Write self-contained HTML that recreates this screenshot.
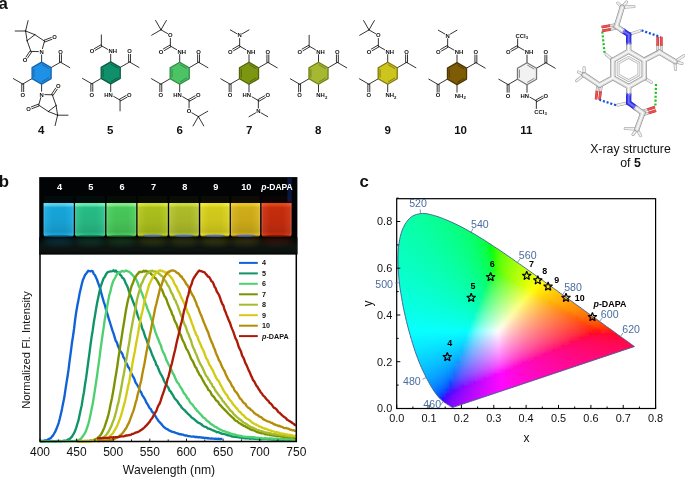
<!DOCTYPE html>
<html><head><meta charset="utf-8"><title>Figure</title>
<style>html,body{margin:0;padding:0;background:#fff}svg{display:block}</style></head>
<body>
<svg width="685" height="477" viewBox="0 0 685 477" font-family="'Liberation Sans',Arial,sans-serif">
<rect width="685" height="477" fill="#fff"/>
<g font-family="'Liberation Sans',Arial,sans-serif" font-weight="bold" font-size="5.9" fill="#111">
<path d="M51.13 67.60L60.48 62.20M59.53 62.20L59.53 54.60M61.43 62.20L61.43 54.60M60.48 62.20L69.83 67.60M32.07 78.60L22.72 84.00M23.67 84.00L23.67 91.60M21.77 84.00L21.77 91.60M22.72 84.00L13.37 78.60M41.60 62.10L41.60 54.90M42.44 48.61L44.50 41.10M44.17 40.21L51.27 37.54M44.83 41.99L51.94 39.32M44.50 41.10L34.90 34.70M34.90 34.70L27.10 40.70M27.10 40.70L30.90 51.40M30.90 51.40L38.40 51.61M31.69 51.93L27.57 58.07M30.11 50.87L25.99 57.01M34.90 34.70L25.60 31.00M27.10 40.70L25.60 31.00M25.60 31.00L28.10 20.60M25.60 31.00L15.20 31.00M41.60 84.10L41.60 91.30M40.76 97.59L38.70 105.10M39.03 105.99L31.93 108.66M38.37 104.21L31.26 106.88M38.70 105.10L48.30 111.50M48.30 111.50L56.10 105.50M56.10 105.50L52.30 94.80M52.30 94.80L44.80 94.59M51.51 94.27L55.63 88.13M53.09 95.33L57.21 89.19M48.30 111.50L57.60 115.20M56.10 105.50L57.60 115.20M57.60 115.20L55.10 125.60M57.60 115.20L68.00 115.20" stroke="#000" stroke-width="0.8" fill="none" stroke-linecap="round"/>
<text x="60.48" y="53.50" text-anchor="middle">O</text>
<text x="22.72" y="96.90" text-anchor="middle">O</text>
<text x="41.60" y="53.80" text-anchor="middle">N</text>
<text x="54.60" y="39.40" text-anchor="middle">O</text>
<text x="25.00" y="62.30" text-anchor="middle">O</text>
<text x="41.60" y="96.60" text-anchor="middle">N</text>
<text x="28.60" y="111.00" text-anchor="middle">O</text>
<text x="58.20" y="88.10" text-anchor="middle">O</text>
<polygon points="41.60,62.10 51.13,67.60 51.13,78.60 41.60,84.10 32.07,78.60 32.07,67.60" fill="#1e90e6" stroke="#1565b0" stroke-width="1.3" stroke-linejoin="round"/><path d="M42.21 64.65L48.61 68.35M48.61 77.85L42.21 81.55M33.98 76.80L33.98 69.40" stroke="#1565b0" stroke-width="0.9" fill="none" stroke-linecap="round"/>
<text x="41.3" y="134.4" text-anchor="middle" font-size="11.5">4</text>
<path d="M120.23 67.40L129.58 62.00M128.63 62.00L128.63 54.40M130.53 62.00L130.53 54.40M129.58 62.00L138.93 67.40M101.17 78.40L91.82 83.80M92.77 83.80L92.77 91.40M90.87 83.80L90.87 91.40M91.82 83.80L82.47 78.40M110.70 61.90L110.70 54.30M107.67 49.35L101.35 45.70M101.82 46.52L95.24 50.32M100.87 44.88L94.29 48.68M101.35 45.70L101.35 34.90M110.70 83.90L110.70 91.50M113.73 96.45L120.05 100.10M119.58 99.28L126.16 95.48M120.53 100.92L127.11 97.12M120.05 100.10L120.05 110.90" stroke="#000" stroke-width="0.8" fill="none" stroke-linecap="round"/>
<text x="129.58" y="53.30" text-anchor="middle">O</text>
<text x="91.82" y="96.70" text-anchor="middle">O</text>
<text x="108.57" y="53.20" text-anchor="start">NH</text>
<text x="91.99" y="53.20" text-anchor="middle">O</text>
<text x="112.83" y="96.80" text-anchor="end">HN</text>
<text x="129.41" y="96.80" text-anchor="middle">O</text>
<polygon points="110.70,61.90 120.23,67.40 120.23,78.40 110.70,83.90 101.17,78.40 101.17,67.40" fill="#10906a" stroke="#0a5c44" stroke-width="1.3" stroke-linejoin="round"/><path d="M111.31 64.45L117.71 68.15M117.71 77.65L111.31 81.35M103.08 76.60L103.08 69.20" stroke="#0a5c44" stroke-width="0.9" fill="none" stroke-linecap="round"/>
<text x="110.3" y="134.4" text-anchor="middle" font-size="11.5">5</text>
<path d="M189.23 67.70L198.58 62.30M197.63 62.30L197.63 54.70M199.53 62.30L199.53 54.70M198.58 62.30L207.93 67.70M170.17 78.70L160.82 84.10M161.77 84.10L161.77 91.70M159.87 84.10L159.87 91.70M160.82 84.10L151.47 78.70M179.70 62.20L179.70 54.60M176.67 49.65L170.35 46.00M170.82 46.82L164.24 50.62M169.87 45.18L163.29 48.98M170.35 46.00L170.35 38.40M167.58 33.60L160.99 29.80M160.99 29.80L151.64 35.20M160.99 29.80L155.59 20.45M160.99 29.80L166.39 20.45M179.70 84.20L179.70 91.80M182.73 96.75L189.05 100.40M188.58 99.58L195.16 95.78M189.53 101.22L196.11 97.42M189.05 100.40L189.05 108.00M191.82 112.80L198.41 116.60M198.41 116.60L207.76 111.20M198.41 116.60L193.01 125.95M198.41 116.60L203.81 125.95" stroke="#000" stroke-width="0.8" fill="none" stroke-linecap="round"/>
<text x="198.58" y="53.60" text-anchor="middle">O</text>
<text x="160.82" y="97.00" text-anchor="middle">O</text>
<text x="177.57" y="53.50" text-anchor="start">NH</text>
<text x="160.99" y="53.50" text-anchor="middle">O</text>
<text x="170.35" y="37.30" text-anchor="middle">O</text>
<text x="181.83" y="97.10" text-anchor="end">HN</text>
<text x="198.41" y="97.10" text-anchor="middle">O</text>
<text x="189.05" y="113.30" text-anchor="middle">O</text>
<polygon points="179.70,62.20 189.23,67.70 189.23,78.70 179.70,84.20 170.17,78.70 170.17,67.70" fill="#4cc466" stroke="#2f8a42" stroke-width="1.3" stroke-linejoin="round"/><path d="M180.31 64.75L186.71 68.45M186.71 77.95L180.31 81.65M172.08 76.90L172.08 69.50" stroke="#2f8a42" stroke-width="0.9" fill="none" stroke-linecap="round"/>
<text x="179.8" y="134.4" text-anchor="middle" font-size="11.5">6</text>
<path d="M258.53 67.80L267.88 62.40M266.93 62.40L266.93 54.80M268.83 62.40L268.83 54.80M267.88 62.40L277.23 67.80M239.47 78.80L230.12 84.20M231.07 84.20L231.07 91.80M229.17 84.20L229.17 91.80M230.12 84.20L220.77 78.80M249.00 62.30L249.00 54.70M245.97 49.75L239.65 46.10M240.12 46.92L233.54 50.72M239.17 45.28L232.59 49.08M239.65 46.10L239.65 38.50M236.88 33.70L230.29 29.90M242.42 33.70L249.00 29.90M249.00 84.30L249.00 91.90M252.03 96.85L258.35 100.50M257.88 99.68L264.46 95.88M258.83 101.32L265.41 97.52M258.35 100.50L258.35 108.10M255.58 112.90L249.00 116.70M261.12 112.90L267.71 116.70" stroke="#000" stroke-width="0.8" fill="none" stroke-linecap="round"/>
<text x="267.88" y="53.70" text-anchor="middle">O</text>
<text x="230.12" y="97.10" text-anchor="middle">O</text>
<text x="246.87" y="53.60" text-anchor="start">NH</text>
<text x="230.29" y="53.60" text-anchor="middle">O</text>
<text x="239.65" y="37.40" text-anchor="middle">N</text>
<text x="251.13" y="97.20" text-anchor="end">HN</text>
<text x="267.71" y="97.20" text-anchor="middle">O</text>
<text x="258.35" y="113.40" text-anchor="middle">N</text>
<polygon points="249.00,62.30 258.53,67.80 258.53,78.80 249.00,84.30 239.47,78.80 239.47,67.80" fill="#7d9612" stroke="#52640a" stroke-width="1.3" stroke-linejoin="round"/><path d="M249.61 64.85L256.01 68.55M256.01 78.05L249.61 81.75M241.38 77.00L241.38 69.60" stroke="#52640a" stroke-width="0.9" fill="none" stroke-linecap="round"/>
<text x="249.2" y="134.4" text-anchor="middle" font-size="11.5">7</text>
<path d="M328.03 67.80L337.38 62.40M336.43 62.40L336.43 54.80M338.33 62.40L338.33 54.80M337.38 62.40L346.73 67.80M308.97 78.80L299.62 84.20M300.57 84.20L300.57 91.80M298.67 84.20L298.67 91.80M299.62 84.20L290.27 78.80M318.50 62.30L318.50 54.70M315.47 49.75L309.15 46.10M309.62 46.92L303.04 50.72M308.67 45.28L302.09 49.08M309.15 46.10L309.15 35.30M318.50 84.30L318.50 91.90" stroke="#000" stroke-width="0.8" fill="none" stroke-linecap="round"/>
<text x="337.38" y="53.70" text-anchor="middle">O</text>
<text x="299.62" y="97.10" text-anchor="middle">O</text>
<text x="316.37" y="53.60" text-anchor="start">NH</text>
<text x="299.79" y="53.60" text-anchor="middle">O</text>
<text x="316.37" y="97.20" text-anchor="start">NH<tspan font-size="4.3" dy="1.3">2</tspan></text>
<polygon points="318.50,62.30 328.03,67.80 328.03,78.80 318.50,84.30 308.97,78.80 308.97,67.80" fill="#a6b832" stroke="#707e1c" stroke-width="1.3" stroke-linejoin="round"/><path d="M319.11 64.85L325.51 68.55M325.51 78.05L319.11 81.75M310.88 77.00L310.88 69.60" stroke="#707e1c" stroke-width="0.9" fill="none" stroke-linecap="round"/>
<text x="318.2" y="134.4" text-anchor="middle" font-size="11.5">8</text>
<path d="M397.23 67.80L406.58 62.40M405.63 62.40L405.63 54.80M407.53 62.40L407.53 54.80M406.58 62.40L415.93 67.80M378.17 78.80L368.82 84.20M369.77 84.20L369.77 91.80M367.87 84.20L367.87 91.80M368.82 84.20L359.47 78.80M387.70 62.30L387.70 54.70M384.67 49.75L378.35 46.10M378.82 46.92L372.24 50.72M377.87 45.28L371.29 49.08M378.35 46.10L378.35 38.50M375.58 33.70L368.99 29.90M368.99 29.90L359.64 35.30M368.99 29.90L363.59 20.55M368.99 29.90L374.39 20.55M387.70 84.30L387.70 91.90" stroke="#000" stroke-width="0.8" fill="none" stroke-linecap="round"/>
<text x="406.58" y="53.70" text-anchor="middle">O</text>
<text x="368.82" y="97.10" text-anchor="middle">O</text>
<text x="385.57" y="53.60" text-anchor="start">NH</text>
<text x="368.99" y="53.60" text-anchor="middle">O</text>
<text x="378.35" y="37.40" text-anchor="middle">O</text>
<text x="385.57" y="97.20" text-anchor="start">NH<tspan font-size="4.3" dy="1.3">2</tspan></text>
<polygon points="387.70,62.30 397.23,67.80 397.23,78.80 387.70,84.30 378.17,78.80 378.17,67.80" fill="#cec41e" stroke="#7e7810" stroke-width="1.3" stroke-linejoin="round"/><path d="M388.31 64.85L394.71 68.55M394.71 78.05L388.31 81.75M380.08 77.00L380.08 69.60" stroke="#7e7810" stroke-width="0.9" fill="none" stroke-linecap="round"/>
<text x="387.8" y="134.4" text-anchor="middle" font-size="11.5">9</text>
<path d="M466.53 68.10L475.88 62.70M474.93 62.70L474.93 55.10M476.83 62.70L476.83 55.10M475.88 62.70L485.23 68.10M447.47 79.10L438.12 84.50M439.07 84.50L439.07 92.10M437.17 84.50L437.17 92.10M438.12 84.50L428.77 79.10M457.00 62.60L457.00 55.00M453.97 50.05L447.65 46.40M448.12 47.22L441.54 51.02M447.17 45.58L440.59 49.38M447.65 46.40L447.65 38.80M444.88 34.00L438.29 30.20M450.42 34.00L457.00 30.20M457.00 84.60L457.00 92.20" stroke="#000" stroke-width="0.8" fill="none" stroke-linecap="round"/>
<text x="475.88" y="54.00" text-anchor="middle">O</text>
<text x="438.12" y="97.40" text-anchor="middle">O</text>
<text x="454.87" y="53.90" text-anchor="start">NH</text>
<text x="438.29" y="53.90" text-anchor="middle">O</text>
<text x="447.65" y="37.70" text-anchor="middle">N</text>
<text x="454.87" y="97.50" text-anchor="start">NH<tspan font-size="4.3" dy="1.3">2</tspan></text>
<polygon points="457.00,62.60 466.53,68.10 466.53,79.10 457.00,84.60 447.47,79.10 447.47,68.10" fill="#7e5c06" stroke="#4e3802" stroke-width="1.3" stroke-linejoin="round"/><path d="M457.61 65.15L464.01 68.85M464.01 78.35L457.61 82.05M449.38 77.30L449.38 69.90" stroke="#4e3802" stroke-width="0.9" fill="none" stroke-linecap="round"/>
<text x="460.6" y="134.4" text-anchor="middle" font-size="11.5">10</text>
<path d="M536.53 68.20L545.88 62.80M544.93 62.80L544.93 55.20M546.83 62.80L546.83 55.20M545.88 62.80L555.23 68.20M517.47 79.20L508.12 84.60M509.07 84.60L509.07 92.20M507.17 84.60L507.17 92.20M508.12 84.60L498.77 79.20M527.00 62.70L527.00 55.10M523.97 50.15L517.65 46.50M518.12 47.32L511.54 51.12M517.17 45.68L510.59 49.48M517.65 46.50L517.65 38.90M527.00 84.70L527.00 92.30M530.03 97.25L536.35 100.90M535.88 100.08L542.46 96.28M536.83 101.72L543.41 97.92M536.35 100.90L536.35 108.50" stroke="#000" stroke-width="0.8" fill="none" stroke-linecap="round"/>
<text x="545.88" y="54.10" text-anchor="middle">O</text>
<text x="508.12" y="97.50" text-anchor="middle">O</text>
<text x="524.87" y="54.00" text-anchor="start">NH</text>
<text x="508.29" y="54.00" text-anchor="middle">O</text>
<text x="515.52" y="37.80" text-anchor="start">CCl<tspan font-size="4.3" dy="1.3">3</tspan></text>
<text x="529.13" y="97.60" text-anchor="end">HN</text>
<text x="545.71" y="97.60" text-anchor="middle">O</text>
<text x="534.22" y="113.80" text-anchor="start">CCl<tspan font-size="4.3" dy="1.3">3</tspan></text>
<polygon points="527.00,62.70 536.53,68.20 536.53,79.20 527.00,84.70 517.47,79.20 517.47,68.20" fill="#f2f2f2" stroke="#777" stroke-width="1.3" stroke-linejoin="round"/><path d="M527.61 65.25L534.01 68.95M534.01 78.45L527.61 82.15M519.38 77.40L519.38 70.00" stroke="#777" stroke-width="0.9" fill="none" stroke-linecap="round"/>
<text x="526.3" y="134.4" text-anchor="middle" font-size="11.5">11</text>
<text x="-1.4" y="8.8" font-size="16.8">a</text>
</g>
<g><line x1="622.2" y1="7.3" x2="617.8" y2="3.0" stroke="#9a9a9a" stroke-width="3.00" stroke-linecap="round"/>
<line x1="622.2" y1="7.3" x2="634.0" y2="6.5" stroke="#9a9a9a" stroke-width="3.00" stroke-linecap="round"/>
<line x1="622.2" y1="7.3" x2="626.5" y2="2.0" stroke="#9a9a9a" stroke-width="3.00" stroke-linecap="round"/>
<line x1="675.0" y1="61.6" x2="683.8" y2="55.8" stroke="#9a9a9a" stroke-width="3.00" stroke-linecap="round"/>
<line x1="675.0" y1="61.6" x2="675.5" y2="69.5" stroke="#9a9a9a" stroke-width="3.00" stroke-linecap="round"/>
<line x1="675.0" y1="61.6" x2="682.0" y2="63.5" stroke="#9a9a9a" stroke-width="3.00" stroke-linecap="round"/>
<line x1="584.1" y1="74.8" x2="576.7" y2="80.7" stroke="#9a9a9a" stroke-width="3.00" stroke-linecap="round"/>
<line x1="584.1" y1="74.8" x2="584.1" y2="67.5" stroke="#9a9a9a" stroke-width="3.00" stroke-linecap="round"/>
<line x1="584.1" y1="74.8" x2="578.5" y2="72.0" stroke="#9a9a9a" stroke-width="3.00" stroke-linecap="round"/>
<line x1="636.9" y1="129.1" x2="625.2" y2="128.5" stroke="#9a9a9a" stroke-width="3.00" stroke-linecap="round"/>
<line x1="636.9" y1="129.1" x2="640.7" y2="135.8" stroke="#9a9a9a" stroke-width="3.00" stroke-linecap="round"/>
<line x1="636.9" y1="129.1" x2="633.0" y2="134.5" stroke="#9a9a9a" stroke-width="3.00" stroke-linecap="round"/>
<line x1="628.7" y1="34.6" x2="639.8" y2="30.8" stroke="#9a9a9a" stroke-width="3.00" stroke-linecap="round"/>
<line x1="628.7" y1="102.7" x2="617.8" y2="105.0" stroke="#9a9a9a" stroke-width="3.00" stroke-linecap="round"/>
<line x1="612.8" y1="60.2" x2="606.0" y2="54.3" stroke="#9a9a9a" stroke-width="3.00" stroke-linecap="round"/>
<line x1="644.2" y1="77.8" x2="651.6" y2="82.4" stroke="#9a9a9a" stroke-width="3.00" stroke-linecap="round"/>
<line x1="622.2" y1="7.3" x2="617.8" y2="3.0" stroke="#eeeeee" stroke-width="2.00" stroke-linecap="round"/>
<line x1="622.2" y1="7.3" x2="634.0" y2="6.5" stroke="#eeeeee" stroke-width="2.00" stroke-linecap="round"/>
<line x1="622.2" y1="7.3" x2="626.5" y2="2.0" stroke="#eeeeee" stroke-width="2.00" stroke-linecap="round"/>
<line x1="675.0" y1="61.6" x2="683.8" y2="55.8" stroke="#eeeeee" stroke-width="2.00" stroke-linecap="round"/>
<line x1="675.0" y1="61.6" x2="675.5" y2="69.5" stroke="#eeeeee" stroke-width="2.00" stroke-linecap="round"/>
<line x1="675.0" y1="61.6" x2="682.0" y2="63.5" stroke="#eeeeee" stroke-width="2.00" stroke-linecap="round"/>
<line x1="584.1" y1="74.8" x2="576.7" y2="80.7" stroke="#eeeeee" stroke-width="2.00" stroke-linecap="round"/>
<line x1="584.1" y1="74.8" x2="584.1" y2="67.5" stroke="#eeeeee" stroke-width="2.00" stroke-linecap="round"/>
<line x1="584.1" y1="74.8" x2="578.5" y2="72.0" stroke="#eeeeee" stroke-width="2.00" stroke-linecap="round"/>
<line x1="636.9" y1="129.1" x2="625.2" y2="128.5" stroke="#eeeeee" stroke-width="2.00" stroke-linecap="round"/>
<line x1="636.9" y1="129.1" x2="640.7" y2="135.8" stroke="#eeeeee" stroke-width="2.00" stroke-linecap="round"/>
<line x1="636.9" y1="129.1" x2="633.0" y2="134.5" stroke="#eeeeee" stroke-width="2.00" stroke-linecap="round"/>
<line x1="628.7" y1="34.6" x2="639.8" y2="30.8" stroke="#eeeeee" stroke-width="2.00" stroke-linecap="round"/>
<line x1="628.7" y1="102.7" x2="617.8" y2="105.0" stroke="#eeeeee" stroke-width="2.00" stroke-linecap="round"/>
<line x1="612.8" y1="60.2" x2="606.0" y2="54.3" stroke="#eeeeee" stroke-width="2.00" stroke-linecap="round"/>
<line x1="644.2" y1="77.8" x2="651.6" y2="82.4" stroke="#eeeeee" stroke-width="2.00" stroke-linecap="round"/>
<line x1="616.0" y1="24.6" x2="609.9" y2="25.7" stroke="#8e8e8e" stroke-width="2.70" stroke-linecap="round"/>
<line x1="616.6" y1="28.2" x2="610.6" y2="29.3" stroke="#8e8e8e" stroke-width="2.70" stroke-linecap="round"/>
<line x1="616.0" y1="24.6" x2="609.9" y2="25.7" stroke="#e0e0e0" stroke-width="1.80" stroke-linecap="round"/>
<line x1="616.6" y1="28.2" x2="610.6" y2="29.3" stroke="#e0e0e0" stroke-width="1.80" stroke-linecap="round"/>
<line x1="609.9" y1="25.7" x2="601.6" y2="27.2" stroke="#c03030" stroke-width="2.70" stroke-linecap="butt"/>
<line x1="610.6" y1="29.3" x2="602.2" y2="30.8" stroke="#c03030" stroke-width="2.70" stroke-linecap="butt"/>
<line x1="609.9" y1="25.7" x2="601.6" y2="27.2" stroke="#f05050" stroke-width="1.80" stroke-linecap="butt"/>
<line x1="610.6" y1="29.3" x2="602.2" y2="30.8" stroke="#f05050" stroke-width="1.80" stroke-linecap="butt"/>
<line x1="643.4" y1="114.7" x2="648.7" y2="113.0" stroke="#8e8e8e" stroke-width="2.70" stroke-linecap="round"/>
<line x1="642.2" y1="111.3" x2="647.6" y2="109.5" stroke="#8e8e8e" stroke-width="2.70" stroke-linecap="round"/>
<line x1="643.4" y1="114.7" x2="648.7" y2="113.0" stroke="#e0e0e0" stroke-width="1.80" stroke-linecap="round"/>
<line x1="642.2" y1="111.3" x2="647.6" y2="109.5" stroke="#e0e0e0" stroke-width="1.80" stroke-linecap="round"/>
<line x1="648.7" y1="113.0" x2="656.1" y2="110.6" stroke="#c03030" stroke-width="2.70" stroke-linecap="butt"/>
<line x1="647.6" y1="109.5" x2="655.0" y2="107.1" stroke="#c03030" stroke-width="2.70" stroke-linecap="butt"/>
<line x1="648.7" y1="113.0" x2="656.1" y2="110.6" stroke="#f05050" stroke-width="1.80" stroke-linecap="butt"/>
<line x1="647.6" y1="109.5" x2="655.0" y2="107.1" stroke="#f05050" stroke-width="1.80" stroke-linecap="butt"/>
<line x1="661.3" y1="52.2" x2="661.3" y2="45.7" stroke="#8e8e8e" stroke-width="2.70" stroke-linecap="round"/>
<line x1="657.7" y1="52.2" x2="657.7" y2="45.7" stroke="#8e8e8e" stroke-width="2.70" stroke-linecap="round"/>
<line x1="661.3" y1="52.2" x2="661.3" y2="45.7" stroke="#e0e0e0" stroke-width="1.80" stroke-linecap="round"/>
<line x1="657.7" y1="52.2" x2="657.7" y2="45.7" stroke="#e0e0e0" stroke-width="1.80" stroke-linecap="round"/>
<line x1="661.3" y1="45.7" x2="661.3" y2="36.8" stroke="#c03030" stroke-width="2.70" stroke-linecap="butt"/>
<line x1="657.7" y1="45.7" x2="657.7" y2="36.8" stroke="#c03030" stroke-width="2.70" stroke-linecap="butt"/>
<line x1="661.3" y1="45.7" x2="661.3" y2="36.8" stroke="#f05050" stroke-width="1.80" stroke-linecap="butt"/>
<line x1="657.7" y1="45.7" x2="657.7" y2="36.8" stroke="#f05050" stroke-width="1.80" stroke-linecap="butt"/>
<line x1="597.8" y1="84.9" x2="597.0" y2="90.9" stroke="#8e8e8e" stroke-width="2.70" stroke-linecap="round"/>
<line x1="601.4" y1="85.3" x2="600.6" y2="91.4" stroke="#8e8e8e" stroke-width="2.70" stroke-linecap="round"/>
<line x1="597.8" y1="84.9" x2="597.0" y2="90.9" stroke="#e0e0e0" stroke-width="1.80" stroke-linecap="round"/>
<line x1="601.4" y1="85.3" x2="600.6" y2="91.4" stroke="#e0e0e0" stroke-width="1.80" stroke-linecap="round"/>
<line x1="597.0" y1="90.9" x2="596.0" y2="99.3" stroke="#c03030" stroke-width="2.70" stroke-linecap="butt"/>
<line x1="600.6" y1="91.4" x2="599.5" y2="99.7" stroke="#c03030" stroke-width="2.70" stroke-linecap="butt"/>
<line x1="597.0" y1="90.9" x2="596.0" y2="99.3" stroke="#f05050" stroke-width="1.80" stroke-linecap="butt"/>
<line x1="600.6" y1="91.4" x2="599.5" y2="99.7" stroke="#f05050" stroke-width="1.80" stroke-linecap="butt"/>
<line x1="628.7" y1="51.3" x2="644.2" y2="60.2" stroke="#909090" stroke-width="5.30" stroke-linecap="round"/>
<line x1="644.2" y1="60.2" x2="644.2" y2="77.8" stroke="#909090" stroke-width="5.30" stroke-linecap="round"/>
<line x1="644.2" y1="77.8" x2="628.7" y2="86.6" stroke="#909090" stroke-width="5.30" stroke-linecap="round"/>
<line x1="628.7" y1="86.6" x2="612.8" y2="77.8" stroke="#909090" stroke-width="5.30" stroke-linecap="round"/>
<line x1="612.8" y1="77.8" x2="612.8" y2="60.2" stroke="#909090" stroke-width="5.30" stroke-linecap="round"/>
<line x1="612.8" y1="60.2" x2="628.7" y2="51.3" stroke="#909090" stroke-width="5.30" stroke-linecap="round"/>
<line x1="628.7" y1="51.3" x2="628.7" y2="43.0" stroke="#909090" stroke-width="5.30" stroke-linecap="round"/>
<line x1="628.7" y1="43.0" x2="628.7" y2="34.6" stroke="#2020b8" stroke-width="5.30" stroke-linecap="round"/>
<line x1="628.7" y1="34.6" x2="622.5" y2="30.5" stroke="#2020b8" stroke-width="5.30" stroke-linecap="round"/>
<line x1="622.5" y1="30.5" x2="616.3" y2="26.4" stroke="#909090" stroke-width="5.30" stroke-linecap="round"/>
<line x1="616.3" y1="26.4" x2="622.2" y2="7.3" stroke="#909090" stroke-width="5.30" stroke-linecap="round"/>
<line x1="628.7" y1="86.6" x2="628.7" y2="94.7" stroke="#909090" stroke-width="5.30" stroke-linecap="round"/>
<line x1="628.7" y1="94.7" x2="628.7" y2="102.7" stroke="#2020b8" stroke-width="5.30" stroke-linecap="round"/>
<line x1="628.7" y1="102.7" x2="635.8" y2="107.8" stroke="#2020b8" stroke-width="5.30" stroke-linecap="round"/>
<line x1="635.8" y1="107.8" x2="642.8" y2="113.0" stroke="#909090" stroke-width="5.30" stroke-linecap="round"/>
<line x1="642.8" y1="113.0" x2="636.9" y2="129.1" stroke="#909090" stroke-width="5.30" stroke-linecap="round"/>
<line x1="644.2" y1="60.2" x2="659.5" y2="52.2" stroke="#909090" stroke-width="5.30" stroke-linecap="round"/>
<line x1="659.5" y1="52.2" x2="675.0" y2="61.6" stroke="#909090" stroke-width="5.30" stroke-linecap="round"/>
<line x1="612.8" y1="77.8" x2="599.6" y2="85.1" stroke="#909090" stroke-width="5.30" stroke-linecap="round"/>
<line x1="599.6" y1="85.1" x2="584.1" y2="74.8" stroke="#909090" stroke-width="5.30" stroke-linecap="round"/>
<line x1="628.7" y1="51.3" x2="644.2" y2="60.2" stroke="#d8d8d8" stroke-width="4.10" stroke-linecap="round"/>
<line x1="644.2" y1="60.2" x2="644.2" y2="77.8" stroke="#d8d8d8" stroke-width="4.10" stroke-linecap="round"/>
<line x1="644.2" y1="77.8" x2="628.7" y2="86.6" stroke="#d8d8d8" stroke-width="4.10" stroke-linecap="round"/>
<line x1="628.7" y1="86.6" x2="612.8" y2="77.8" stroke="#d8d8d8" stroke-width="4.10" stroke-linecap="round"/>
<line x1="612.8" y1="77.8" x2="612.8" y2="60.2" stroke="#d8d8d8" stroke-width="4.10" stroke-linecap="round"/>
<line x1="612.8" y1="60.2" x2="628.7" y2="51.3" stroke="#d8d8d8" stroke-width="4.10" stroke-linecap="round"/>
<line x1="628.7" y1="51.3" x2="628.7" y2="43.0" stroke="#d8d8d8" stroke-width="4.10" stroke-linecap="round"/>
<line x1="628.7" y1="43.0" x2="628.7" y2="34.6" stroke="#3838ec" stroke-width="4.10" stroke-linecap="round"/>
<line x1="628.7" y1="34.6" x2="622.5" y2="30.5" stroke="#3838ec" stroke-width="4.10" stroke-linecap="round"/>
<line x1="622.5" y1="30.5" x2="616.3" y2="26.4" stroke="#d8d8d8" stroke-width="4.10" stroke-linecap="round"/>
<line x1="616.3" y1="26.4" x2="622.2" y2="7.3" stroke="#d8d8d8" stroke-width="4.10" stroke-linecap="round"/>
<line x1="628.7" y1="86.6" x2="628.7" y2="94.7" stroke="#d8d8d8" stroke-width="4.10" stroke-linecap="round"/>
<line x1="628.7" y1="94.7" x2="628.7" y2="102.7" stroke="#3838ec" stroke-width="4.10" stroke-linecap="round"/>
<line x1="628.7" y1="102.7" x2="635.8" y2="107.8" stroke="#3838ec" stroke-width="4.10" stroke-linecap="round"/>
<line x1="635.8" y1="107.8" x2="642.8" y2="113.0" stroke="#d8d8d8" stroke-width="4.10" stroke-linecap="round"/>
<line x1="642.8" y1="113.0" x2="636.9" y2="129.1" stroke="#d8d8d8" stroke-width="4.10" stroke-linecap="round"/>
<line x1="644.2" y1="60.2" x2="659.5" y2="52.2" stroke="#d8d8d8" stroke-width="4.10" stroke-linecap="round"/>
<line x1="659.5" y1="52.2" x2="675.0" y2="61.6" stroke="#d8d8d8" stroke-width="4.10" stroke-linecap="round"/>
<line x1="612.8" y1="77.8" x2="599.6" y2="85.1" stroke="#d8d8d8" stroke-width="4.10" stroke-linecap="round"/>
<line x1="599.6" y1="85.1" x2="584.1" y2="74.8" stroke="#d8d8d8" stroke-width="4.10" stroke-linecap="round"/>
<line x1="628.7" y1="51.3" x2="644.2" y2="60.2" stroke="#f6f6f6" stroke-width="1.70" stroke-linecap="round"/>
<line x1="644.2" y1="60.2" x2="644.2" y2="77.8" stroke="#f6f6f6" stroke-width="1.70" stroke-linecap="round"/>
<line x1="644.2" y1="77.8" x2="628.7" y2="86.6" stroke="#f6f6f6" stroke-width="1.70" stroke-linecap="round"/>
<line x1="628.7" y1="86.6" x2="612.8" y2="77.8" stroke="#f6f6f6" stroke-width="1.70" stroke-linecap="round"/>
<line x1="612.8" y1="77.8" x2="612.8" y2="60.2" stroke="#f6f6f6" stroke-width="1.70" stroke-linecap="round"/>
<line x1="612.8" y1="60.2" x2="628.7" y2="51.3" stroke="#f6f6f6" stroke-width="1.70" stroke-linecap="round"/>
<line x1="628.7" y1="51.3" x2="628.7" y2="43.0" stroke="#f6f6f6" stroke-width="1.70" stroke-linecap="round"/>
<line x1="628.7" y1="43.0" x2="628.7" y2="34.6" stroke="#7070ff" stroke-width="1.70" stroke-linecap="round"/>
<line x1="628.7" y1="34.6" x2="622.5" y2="30.5" stroke="#7070ff" stroke-width="1.70" stroke-linecap="round"/>
<line x1="622.5" y1="30.5" x2="616.3" y2="26.4" stroke="#f6f6f6" stroke-width="1.70" stroke-linecap="round"/>
<line x1="616.3" y1="26.4" x2="622.2" y2="7.3" stroke="#f6f6f6" stroke-width="1.70" stroke-linecap="round"/>
<line x1="628.7" y1="86.6" x2="628.7" y2="94.7" stroke="#f6f6f6" stroke-width="1.70" stroke-linecap="round"/>
<line x1="628.7" y1="94.7" x2="628.7" y2="102.7" stroke="#7070ff" stroke-width="1.70" stroke-linecap="round"/>
<line x1="628.7" y1="102.7" x2="635.8" y2="107.8" stroke="#7070ff" stroke-width="1.70" stroke-linecap="round"/>
<line x1="635.8" y1="107.8" x2="642.8" y2="113.0" stroke="#f6f6f6" stroke-width="1.70" stroke-linecap="round"/>
<line x1="642.8" y1="113.0" x2="636.9" y2="129.1" stroke="#f6f6f6" stroke-width="1.70" stroke-linecap="round"/>
<line x1="644.2" y1="60.2" x2="659.5" y2="52.2" stroke="#f6f6f6" stroke-width="1.70" stroke-linecap="round"/>
<line x1="659.5" y1="52.2" x2="675.0" y2="61.6" stroke="#f6f6f6" stroke-width="1.70" stroke-linecap="round"/>
<line x1="612.8" y1="77.8" x2="599.6" y2="85.1" stroke="#f6f6f6" stroke-width="1.70" stroke-linecap="round"/>
<line x1="599.6" y1="85.1" x2="584.1" y2="74.8" stroke="#f6f6f6" stroke-width="1.70" stroke-linecap="round"/>
<polygon points="628.6,57.3 638.9,63.2 638.9,74.8 628.6,80.6 618.1,74.8 618.1,63.2" fill="none" stroke="#999" stroke-width="2.6" stroke-linejoin="round"/>
<polygon points="628.6,57.3 638.9,63.2 638.9,74.8 628.6,80.6 618.1,74.8 618.1,63.2" fill="none" stroke="#eee" stroke-width="1.6" stroke-linejoin="round"/>
<line x1="641.5" y1="30.4" x2="660.4" y2="36.9" stroke="#1850e0" stroke-width="2.2" stroke-dasharray="2.1 1.8"/>
<line x1="616.0" y1="105.2" x2="599.4" y2="99.8" stroke="#1850e0" stroke-width="2.2" stroke-dasharray="2.1 1.8"/>
<line x1="602.3" y1="31.5" x2="604.6" y2="53.0" stroke="#20c020" stroke-width="2.2" stroke-dasharray="2.1 1.8"/>
<line x1="656.0" y1="84.0" x2="655.4" y2="106.0" stroke="#20c020" stroke-width="2.2" stroke-dasharray="2.1 1.8"/>
<text x="630.5" y="153.3" text-anchor="middle" font-size="12.3" fill="#111">X-ray structure</text>
<text x="630.5" y="166.6" text-anchor="middle" font-size="12.3" fill="#111">of <tspan font-weight="bold">5</tspan></text></g>
<defs><filter id="bl" x="-5%" y="-20%" width="110%" height="140%"><feGaussianBlur stdDeviation="0.55"/></filter><filter id="bl2" x="-30%" y="-80%" width="160%" height="260%"><feGaussianBlur stdDeviation="2.6"/></filter><linearGradient id="edge" x1="0" x2="1" y1="0" y2="0"><stop offset="0" stop-color="#fff" stop-opacity=".22"/><stop offset=".06" stop-color="#fff" stop-opacity=".05"/><stop offset=".3" stop-color="#000" stop-opacity=".04"/><stop offset=".7" stop-color="#000" stop-opacity=".04"/><stop offset=".94" stop-color="#fff" stop-opacity=".05"/><stop offset="1" stop-color="#fff" stop-opacity=".22"/></linearGradient><linearGradient id="floor" x1="0" x2="0" y1="0" y2="1"><stop offset="0" stop-color="#020404"/><stop offset=".5" stop-color="#0d1512"/><stop offset=".85" stop-color="#0b110f"/><stop offset="1" stop-color="#030505"/></linearGradient>
<linearGradient id="v0" x1="0" x2="0" y1="0" y2="1"><stop offset="0" stop-color="#5cd8f4"/><stop offset=".06" stop-color="#5cd8f4"/><stop offset=".14" stop-color="#18ace2"/><stop offset=".55" stop-color="#18a6da"/><stop offset=".86" stop-color="#169aca"/><stop offset=".94" stop-color="#19afe7"/><stop offset="1" stop-color="#0e6382"/></linearGradient>
<linearGradient id="v1" x1="0" x2="0" y1="0" y2="1"><stop offset="0" stop-color="#6cf0b8"/><stop offset=".06" stop-color="#6cf0b8"/><stop offset=".14" stop-color="#29c38b"/><stop offset=".55" stop-color="#28bc86"/><stop offset=".86" stop-color="#25ae7c"/><stop offset=".94" stop-color="#2ac78e"/><stop offset="1" stop-color="#187050"/></linearGradient>
<linearGradient id="v2" x1="0" x2="0" y1="0" y2="1"><stop offset="0" stop-color="#8af28c"/><stop offset=".06" stop-color="#8af28c"/><stop offset=".14" stop-color="#4ad05d"/><stop offset=".55" stop-color="#48c85a"/><stop offset=".86" stop-color="#42ba53"/><stop offset=".94" stop-color="#4cd45f"/><stop offset="1" stop-color="#2b7836"/></linearGradient>
<linearGradient id="v3" x1="0" x2="0" y1="0" y2="1"><stop offset="0" stop-color="#d6e632"/><stop offset=".06" stop-color="#d6e632"/><stop offset=".14" stop-color="#b2c71d"/><stop offset=".55" stop-color="#acc01c"/><stop offset=".86" stop-color="#9fb21a"/><stop offset=".94" stop-color="#b6cb1d"/><stop offset="1" stop-color="#677310"/></linearGradient>
<linearGradient id="v4" x1="0" x2="0" y1="0" y2="1"><stop offset="0" stop-color="#d4e23c"/><stop offset=".06" stop-color="#d4e23c"/><stop offset=".14" stop-color="#b4c32b"/><stop offset=".55" stop-color="#aebc2a"/><stop offset=".86" stop-color="#a1ae27"/><stop offset=".94" stop-color="#b8c72c"/><stop offset="1" stop-color="#687019"/></linearGradient>
<linearGradient id="v5" x1="0" x2="0" y1="0" y2="1"><stop offset="0" stop-color="#f0ea30"/><stop offset=".06" stop-color="#f0ea30"/><stop offset=".14" stop-color="#dcd41d"/><stop offset=".55" stop-color="#d4cc1c"/><stop offset=".86" stop-color="#c5bd1a"/><stop offset=".94" stop-color="#e0d81d"/><stop offset="1" stop-color="#7f7a10"/></linearGradient>
<linearGradient id="v6" x1="0" x2="0" y1="0" y2="1"><stop offset="0" stop-color="#f2cc26"/><stop offset=".06" stop-color="#f2cc26"/><stop offset=".14" stop-color="#d8b41b"/><stop offset=".55" stop-color="#d0ae1a"/><stop offset=".86" stop-color="#c1a118"/><stop offset=".94" stop-color="#dcb81b"/><stop offset="1" stop-color="#7c680f"/></linearGradient>
<linearGradient id="v7" x1="0" x2="0" y1="0" y2="1"><stop offset="0" stop-color="#ec4814"/><stop offset=".06" stop-color="#ec4814"/><stop offset=".14" stop-color="#cd2f0e"/><stop offset=".55" stop-color="#c62e0e"/><stop offset=".86" stop-color="#b82a0d"/><stop offset=".94" stop-color="#d1300e"/><stop offset="1" stop-color="#761b08"/></linearGradient>
</defs>
<rect x="39.2" y="177.1" width="258.2" height="77.3" fill="#020304"/><rect x="287.4" y="178" width="4.4" height="24.6" fill="#0a1a48" opacity=".85"/>
<rect x="39.2" y="237.5" width="258.2" height="16.9" fill="url(#floor)"/>
<rect x="44.1" y="196" width="29.1" height="7" fill="#18a6da" opacity=".05"/>
<ellipse cx="58.7" cy="241" rx="16.1" ry="4" fill="#18a6da" opacity=".2" filter="url(#bl2)"/>
<rect x="75.6" y="196" width="29.0" height="7" fill="#28bc86" opacity=".05"/>
<ellipse cx="90.1" cy="241" rx="16.0" ry="4" fill="#28bc86" opacity=".2" filter="url(#bl2)"/>
<rect x="107.0" y="196" width="28.7" height="7" fill="#48c85a" opacity=".05"/>
<ellipse cx="121.3" cy="241" rx="15.8" ry="4" fill="#48c85a" opacity=".2" filter="url(#bl2)"/>
<rect x="138.1" y="196" width="29.2" height="7" fill="#acc01c" opacity=".05"/>
<ellipse cx="152.7" cy="241" rx="16.1" ry="4" fill="#acc01c" opacity=".2" filter="url(#bl2)"/>
<rect x="169.7" y="196" width="28.6" height="7" fill="#aebc2a" opacity=".05"/>
<ellipse cx="184.0" cy="241" rx="15.8" ry="4" fill="#aebc2a" opacity=".2" filter="url(#bl2)"/>
<rect x="200.8" y="196" width="28.3" height="7" fill="#d4cc1c" opacity=".05"/>
<ellipse cx="214.9" cy="241" rx="15.6" ry="4" fill="#d4cc1c" opacity=".2" filter="url(#bl2)"/>
<rect x="231.4" y="196" width="28.2" height="7" fill="#d0ae1a" opacity=".05"/>
<ellipse cx="245.5" cy="241" rx="15.6" ry="4" fill="#d0ae1a" opacity=".2" filter="url(#bl2)"/>
<rect x="262.1" y="196" width="28.9" height="7" fill="#c62e0e" opacity=".05"/>
<ellipse cx="276.6" cy="241" rx="15.9" ry="4" fill="#c62e0e" opacity=".2" filter="url(#bl2)"/>
<g filter="url(#bl)">
<path d="M43.6 202.9H73.7V234.0Q73.7 236.6 71.1 236.6H46.2Q43.6 236.6 43.6 234.0Z" fill="url(#v0)"/>
<path d="M43.6 202.9H73.7V234.0Q73.7 236.6 71.1 236.6H46.2Q43.6 236.6 43.6 234.0Z" fill="url(#edge)"/>
<path d="M75.1 202.9H105.1V234.0Q105.1 236.6 102.5 236.6H77.7Q75.1 236.6 75.1 234.0Z" fill="url(#v1)"/>
<path d="M75.1 202.9H105.1V234.0Q105.1 236.6 102.5 236.6H77.7Q75.1 236.6 75.1 234.0Z" fill="url(#edge)"/>
<path d="M106.5 202.9H136.2V234.0Q136.2 236.6 133.6 236.6H109.1Q106.5 236.6 106.5 234.0Z" fill="url(#v2)"/>
<path d="M106.5 202.9H136.2V234.0Q136.2 236.6 133.6 236.6H109.1Q106.5 236.6 106.5 234.0Z" fill="url(#edge)"/>
<path d="M137.6 202.9H167.8V234.0Q167.8 236.6 165.2 236.6H140.2Q137.6 236.6 137.6 234.0Z" fill="url(#v3)"/>
<path d="M137.6 202.9H167.8V234.0Q167.8 236.6 165.2 236.6H140.2Q137.6 236.6 137.6 234.0Z" fill="url(#edge)"/>
<path d="M169.2 202.9H198.8V234.0Q198.8 236.6 196.2 236.6H171.8Q169.2 236.6 169.2 234.0Z" fill="url(#v4)"/>
<path d="M169.2 202.9H198.8V234.0Q198.8 236.6 196.2 236.6H171.8Q169.2 236.6 169.2 234.0Z" fill="url(#edge)"/>
<path d="M200.3 202.9H229.6V234.0Q229.6 236.6 227.0 236.6H202.9Q200.3 236.6 200.3 234.0Z" fill="url(#v5)"/>
<path d="M200.3 202.9H229.6V234.0Q229.6 236.6 227.0 236.6H202.9Q200.3 236.6 200.3 234.0Z" fill="url(#edge)"/>
<path d="M230.9 202.9H260.1V234.0Q260.1 236.6 257.5 236.6H233.5Q230.9 236.6 230.9 234.0Z" fill="url(#v6)"/>
<path d="M230.9 202.9H260.1V234.0Q260.1 236.6 257.5 236.6H233.5Q230.9 236.6 230.9 234.0Z" fill="url(#edge)"/>
<path d="M261.6 202.9H291.5V234.0Q291.5 236.6 288.9 236.6H264.2Q261.6 236.6 261.6 234.0Z" fill="url(#v7)"/>
<path d="M261.6 202.9H291.5V234.0Q291.5 236.6 288.9 236.6H264.2Q261.6 236.6 261.6 234.0Z" fill="url(#edge)"/>
<ellipse cx="152.7" cy="235.6" rx="10" ry="1.15" fill="#4a62e6" opacity=".75"/>
<ellipse cx="184.0" cy="235.6" rx="10" ry="1.15" fill="#4a62e6" opacity=".75"/>
<ellipse cx="214.9" cy="235.6" rx="10" ry="1.15" fill="#4a62e6" opacity=".75"/>
<ellipse cx="245.5" cy="235.6" rx="10" ry="1.15" fill="#4a62e6" opacity=".75"/>
<ellipse cx="58.7" cy="235.8" rx="10.5" ry="1.0" fill="#0d5b77" opacity=".55"/>
<ellipse cx="90.1" cy="235.8" rx="10.5" ry="1.0" fill="#166749" opacity=".55"/>
<ellipse cx="121.3" cy="235.8" rx="10.5" ry="1.0" fill="#276e31" opacity=".55"/>
<ellipse cx="276.6" cy="235.8" rx="10.5" ry="1.0" fill="#6c1907" opacity=".55"/>
</g>
<g font-weight="bold" font-size="9.2" fill="#fff" text-anchor="middle">
<text x="59.5" y="190.3">4</text>
<text x="90.9" y="190.3">5</text>
<text x="122.1" y="190.3">6</text>
<text x="153.5" y="190.3">7</text>
<text x="184.8" y="190.3">8</text>
<text x="215.8" y="190.3">9</text>
<text x="246.3" y="190.3">10</text>
<text x="277.0" y="190.3" font-size="9" textLength="31.6" lengthAdjust="spacingAndGlyphs"><tspan font-style="italic">p</tspan>-DAPA</text>
</g>
<g>
<path d="M40.0 441.1 41.1 441.0 42.2 440.9 43.3 441.0 44.4 440.5 45.5 440.3 46.6 440.4 47.7 439.6 48.8 439.1 49.9 438.5 51.0 437.9 52.1 436.4 53.2 435.3 54.3 433.3 55.4 431.4 56.5 428.8 57.6 425.9 58.7 422.8 59.8 418.6 60.9 413.9 62.0 408.9 63.1 403.2 64.2 398.1 65.3 390.7 66.4 383.3 67.5 376.7 68.6 369.2 69.7 360.1 70.8 352.2 71.9 343.3 73.0 336.2 74.1 328.5 75.1 320.0 76.2 312.2 77.3 305.7 78.4 300.2 79.5 294.1 80.6 289.3 81.7 284.5 82.8 280.2 83.9 277.7 85.0 275.1 86.1 273.8 87.2 272.2 88.3 270.7 89.4 271.2 90.5 271.3 91.6 270.9 92.7 271.4 93.8 274.0 94.9 275.0 96.0 277.4 97.1 280.0 98.2 283.2 99.3 286.1 100.4 289.3 101.5 293.9 102.6 297.8 103.7 301.6 104.8 304.8 105.9 309.1 107.0 312.6 108.1 316.3 109.2 320.2 110.3 323.5 111.4 327.2 112.5 330.7 113.6 333.6 114.7 337.4 115.8 341.0 116.9 342.5 118.0 346.1 119.1 348.5 120.2 351.0 121.3 352.3 122.4 354.0 123.5 357.4 124.6 358.9 125.7 362.1 126.8 363.8 127.9 366.5 129.0 368.0 130.1 370.0 131.2 372.9 132.3 375.4 133.4 377.1 134.5 379.3 135.6 382.6 136.7 384.2 137.8 386.0 138.9 387.9 140.0 391.1 141.1 392.2 142.2 395.1 143.3 396.6 144.4 398.3 145.4 400.3 146.5 402.8 147.6 404.2 148.7 406.4 149.8 408.3 150.9 409.2 152.0 411.8 153.1 412.5 154.2 414.9 155.3 415.8 156.4 417.9 157.5 419.4 158.6 421.2 159.7 422.2 160.8 423.4 161.9 424.6 163.0 426.2 164.1 427.1 165.2 428.1 166.3 428.8 167.4 429.1 168.5 430.0 169.6 430.6 170.7 431.1 171.8 431.6 172.9 432.0 174.0 432.2 175.1 432.6 176.2 433.0 177.3 433.5 178.4 433.6 179.5 434.2 180.6 434.2 181.7 434.5 182.8 434.7 183.9 435.0 185.0 435.5 186.1 435.4 187.2 435.7 188.3 436.2 189.4 436.1 190.5 436.4 191.6 436.6 192.7 436.6 193.8 436.5 194.9 437.0 196.0 437.0 197.1 437.0 198.2 437.3 199.3 437.1 200.4 437.3 201.5 437.5 202.6 437.7 203.7 437.7 204.8 437.8 205.9 437.8 207.0 438.3 208.1 438.0 209.2 438.4 210.3 438.6 211.4 438.4 212.5 438.6 213.6 438.6 214.7 438.8 215.7 438.6 216.8 438.8 217.9 439.0 219.0 438.7 220.1 439.2 221.2 438.9 222.3 438.9" fill="none" stroke="#0f62d8" stroke-width="2.35" stroke-linejoin="round" stroke-linecap="butt"/>
<path d="M40.0 441.2 41.1 441.2 42.2 441.2 43.3 441.2 44.4 441.2 45.5 441.2 46.6 441.1 47.7 441.2 48.8 441.2 49.9 441.0 51.0 441.1 52.1 441.0 53.2 441.1 54.3 441.2 55.4 441.2 56.5 441.2 57.6 441.1 58.7 441.2 59.8 441.0 60.9 441.2 62.0 441.1 63.1 440.9 64.2 440.7 65.3 440.6 66.4 440.3 67.5 439.9 68.6 439.3 69.7 438.9 70.8 437.8 71.9 436.7 73.0 434.9 74.1 433.1 75.1 430.8 76.2 427.9 77.3 424.0 78.4 420.7 79.5 415.5 80.6 410.3 81.7 405.4 82.8 398.4 83.9 392.5 85.0 384.6 86.1 377.9 87.2 369.8 88.3 361.5 89.4 353.6 90.5 344.9 91.6 337.2 92.7 330.4 93.8 322.3 94.9 316.0 96.0 309.4 97.1 303.0 98.2 297.7 99.3 292.4 100.4 287.5 101.5 284.1 102.6 281.2 103.7 278.1 104.8 277.0 105.9 274.5 107.0 272.8 108.1 271.8 109.2 271.8 110.3 271.3 111.4 271.3 112.5 271.1 113.6 270.3 114.7 271.6 115.8 270.6 116.9 272.0 118.0 272.1 119.1 273.0 120.2 274.9 121.3 275.7 122.4 278.0 123.5 278.4 124.6 280.4 125.7 283.2 126.8 285.2 127.9 287.8 129.0 291.3 130.1 294.3 131.2 296.7 132.3 299.6 133.4 302.5 134.5 305.3 135.6 308.4 136.7 311.8 137.8 315.9 138.9 318.6 140.0 321.3 141.1 324.1 142.2 328.6 143.3 330.6 144.4 334.1 145.4 337.3 146.5 339.4 147.6 343.2 148.7 346.2 149.8 348.5 150.9 351.1 152.0 354.5 153.1 356.7 154.2 359.7 155.3 361.5 156.4 365.1 157.5 366.3 158.6 369.3 159.7 372.0 160.8 374.1 161.9 375.8 163.0 378.2 164.1 381.0 165.2 383.0 166.3 385.1 167.4 386.3 168.5 388.0 169.6 390.7 170.7 391.4 171.8 393.6 172.9 394.9 174.0 397.3 175.1 398.9 176.2 400.0 177.3 401.1 178.4 403.1 179.5 404.5 180.6 405.7 181.7 407.6 182.8 408.7 183.9 409.7 185.0 410.5 186.1 412.0 187.2 412.9 188.3 414.2 189.4 415.1 190.5 416.1 191.6 417.6 192.7 418.0 193.8 419.1 194.9 419.8 196.0 420.8 197.1 421.9 198.2 422.7 199.3 423.1 200.4 423.8 201.5 424.4 202.6 425.6 203.7 426.3 204.8 426.8 205.9 426.9 207.0 427.7 208.1 428.6 209.2 428.6 210.3 429.2 211.4 429.6 212.5 430.4 213.6 430.4 214.7 431.2 215.7 431.4 216.8 432.2 217.9 432.1 219.0 432.4 220.1 433.0 221.2 433.3 222.3 433.9 223.4 433.9 224.5 434.2 225.6 434.4 226.7 434.8 227.8 435.4 228.9 435.3 230.0 435.7 231.1 436.2 232.2 436.5 233.3 436.6 234.4 436.9 235.5 436.9 236.6 437.1 237.7 437.1 238.8 437.4 239.9 437.5 241.0 437.7 242.1 438.0 243.2 437.9 244.3 438.0 245.4 438.3 246.5 438.4 247.6 438.1 248.7 438.4 249.8 438.7 250.9 438.7 252.0 438.6 253.1 438.5 254.2 438.9 255.3 438.8 256.4 438.9 257.5 439.0 258.6 439.1 259.7 439.2 260.8 439.2 261.9 439.3 263.0 439.1 264.1 439.2 265.2 439.1 266.3 439.2 267.4 439.4 268.5 439.2 269.6 439.3 270.7 439.4 271.8 439.5 272.9 439.6 274.0 439.4 275.1 439.6 276.2 439.8 277.3 439.7 278.4 439.6 279.5 439.5 280.6 439.8 281.7 439.9 282.8 439.8 283.9 439.7 284.9 440.1 286.0 439.9 287.1 439.8 288.2 439.9 289.3 439.8 290.4 440.0 291.5 440.1 292.6 439.9 293.7 440.0 294.8 440.3 295.9 440.4" fill="none" stroke="#0f9468" stroke-width="2.35" stroke-linejoin="round" stroke-linecap="butt"/>
<path d="M40.0 441.2 41.1 441.2 42.2 441.2 43.3 441.2 44.4 441.2 45.5 441.1 46.6 441.2 47.7 441.2 48.8 441.1 49.9 441.2 51.0 441.2 52.1 441.2 53.2 441.2 54.3 441.2 55.4 441.1 56.5 441.0 57.6 441.1 58.7 441.1 59.8 441.2 60.9 441.2 62.0 441.2 63.1 441.1 64.2 441.2 65.3 441.2 66.4 441.0 67.5 441.2 68.6 441.0 69.7 441.1 70.8 441.0 71.9 441.1 73.0 441.2 74.1 440.9 75.1 441.0 76.2 440.7 77.3 440.6 78.4 440.2 79.5 439.5 80.6 439.0 81.7 437.8 82.8 436.3 83.9 434.6 85.0 432.9 86.1 430.6 87.2 427.4 88.3 424.1 89.4 419.8 90.5 414.7 91.6 409.3 92.7 404.1 93.8 397.0 94.9 390.1 96.0 382.8 97.1 375.4 98.2 367.1 99.3 359.4 100.4 350.4 101.5 342.4 102.6 334.6 103.7 327.4 104.8 319.3 105.9 313.5 107.0 307.4 108.1 301.4 109.2 295.4 110.3 291.9 111.4 287.0 112.5 283.2 113.6 280.3 114.7 278.5 115.8 276.5 116.9 274.2 118.0 273.2 119.1 272.2 120.2 272.5 121.3 271.4 122.4 270.9 123.5 271.5 124.6 271.5 125.7 270.5 126.8 270.9 127.9 271.3 129.0 271.6 130.1 272.6 131.2 273.5 132.3 274.9 133.4 275.8 134.5 277.8 135.6 278.5 136.7 280.5 137.8 283.2 138.9 286.3 140.0 288.1 141.1 291.4 142.2 293.8 143.3 297.1 144.4 299.5 145.4 303.1 146.5 305.9 147.6 309.1 148.7 311.9 149.8 314.4 150.9 318.1 152.0 321.0 153.1 324.3 154.2 327.7 155.3 331.6 156.4 334.7 157.5 337.6 158.6 340.0 159.7 343.2 160.8 345.1 161.9 349.1 163.0 351.9 164.1 353.8 165.2 356.5 166.3 359.9 167.4 362.0 168.5 364.3 169.6 366.2 170.7 368.6 171.8 370.7 172.9 373.5 174.0 375.0 175.1 377.8 176.2 380.2 177.3 382.4 178.4 383.3 179.5 385.5 180.6 387.4 181.7 388.7 182.8 391.0 183.9 393.2 185.0 394.3 186.1 395.7 187.2 398.3 188.3 398.9 189.4 401.0 190.5 402.9 191.6 403.8 192.7 404.9 193.8 406.6 194.9 408.2 196.0 409.0 197.1 411.0 198.2 411.6 199.3 413.1 200.4 414.1 201.5 415.3 202.6 416.7 203.7 417.8 204.8 418.3 205.9 419.6 207.0 420.8 208.1 421.4 209.2 422.2 210.3 423.6 211.4 424.1 212.5 425.2 213.6 425.4 214.7 426.7 215.7 426.8 216.8 427.6 217.9 428.3 219.0 428.9 220.1 429.6 221.2 430.0 222.3 430.6 223.4 431.0 224.5 431.3 225.6 431.7 226.7 432.3 227.8 432.5 228.9 432.8 230.0 433.2 231.1 434.0 232.2 434.0 233.3 434.5 234.4 434.4 235.5 434.8 236.6 435.2 237.7 435.3 238.8 435.6 239.9 436.0 241.0 435.8 242.1 436.4 243.2 436.6 244.3 436.6 245.4 436.8 246.5 436.9 247.6 436.9 248.7 437.1 249.8 436.9 250.9 437.4 252.0 437.1 253.1 437.2 254.2 437.5 255.3 437.5 256.4 438.0 257.5 437.6 258.6 438.0 259.7 438.1 260.8 437.9 261.9 438.2 263.0 438.4 264.1 438.5 265.2 438.2 266.3 438.6 267.4 438.4 268.5 438.7 269.6 438.4 270.7 438.4 271.8 438.8 272.9 438.6 274.0 438.6 275.1 439.0 276.2 438.9 277.3 438.7 278.4 438.8 279.5 439.0 280.6 439.1 281.7 439.4 282.8 439.0 283.9 439.0 284.9 439.3 286.0 439.5 287.1 439.5 288.2 439.4 289.3 439.4 290.4 439.5 291.5 439.4 292.6 439.8 293.7 439.8 294.8 439.8 295.9 439.8" fill="none" stroke="#4ed070" stroke-width="2.35" stroke-linejoin="round" stroke-linecap="butt"/>
<path d="M76.6 441.2 77.7 441.2 78.8 441.2 79.9 441.0 81.0 441.2 82.1 441.0 83.2 441.2 84.3 441.2 85.4 441.0 86.5 441.2 87.6 441.0 88.7 441.1 89.8 440.7 90.9 440.5 92.0 440.7 93.1 440.4 94.2 439.9 95.3 439.4 96.4 438.7 97.5 438.2 98.6 437.1 99.7 436.1 100.8 434.7 101.9 433.0 103.0 430.6 104.1 428.1 105.2 425.2 106.3 421.7 107.4 418.4 108.5 414.2 109.6 409.4 110.7 403.7 111.8 398.9 112.9 393.0 114.0 386.5 115.1 379.5 116.2 373.2 117.3 366.2 118.4 358.2 119.5 351.1 120.6 343.9 121.6 337.6 122.7 330.3 123.8 323.8 124.9 316.9 126.0 310.0 127.1 304.2 128.2 299.2 129.3 295.2 130.4 290.6 131.5 286.2 132.6 283.8 133.7 280.8 134.8 277.9 135.9 276.5 137.0 274.7 138.1 273.6 139.2 272.0 140.3 271.8 141.4 272.0 142.5 271.9 143.6 270.8 144.7 271.6 145.8 270.8 146.9 271.6 148.0 271.5 149.1 272.4 150.2 272.6 151.3 274.3 152.4 275.0 153.5 275.9 154.6 277.9 155.7 278.4 156.8 280.0 157.9 281.9 159.0 283.9 160.1 285.9 161.2 288.6 162.3 290.5 163.4 293.4 164.5 296.3 165.6 297.5 166.7 300.0 167.8 303.6 168.9 306.0 170.0 308.9 171.1 310.8 172.2 314.4 173.3 316.1 174.4 320.0 175.5 322.2 176.6 324.3 177.7 327.5 178.8 330.8 179.9 333.6 181.0 335.3 182.1 338.9 183.2 341.2 184.3 343.3 185.4 346.3 186.5 349.1 187.6 350.4 188.7 352.9 189.8 355.4 190.9 358.4 191.9 360.0 193.0 361.5 194.1 364.3 195.2 366.8 196.3 367.9 197.4 370.8 198.5 372.6 199.6 375.1 200.7 376.0 201.8 378.2 202.9 380.3 204.0 382.2 205.1 384.3 206.2 385.9 207.3 387.5 208.4 389.9 209.5 390.6 210.6 392.1 211.7 394.7 212.8 396.1 213.9 396.8 215.0 398.7 216.1 400.4 217.2 401.1 218.3 402.2 219.4 404.3 220.5 405.3 221.6 406.6 222.7 407.8 223.8 409.0 224.9 409.9 226.0 411.1 227.1 412.2 228.2 413.5 229.3 414.5 230.4 415.6 231.5 416.6 232.6 417.6 233.7 418.5 234.8 420.0 235.9 420.8 237.0 421.2 238.1 422.2 239.2 423.1 240.3 423.5 241.4 424.5 242.5 424.8 243.6 425.8 244.7 425.9 245.8 427.0 246.9 427.1 248.0 428.1 249.1 428.3 250.2 429.3 251.3 429.5 252.4 430.1 253.5 430.2 254.6 430.8 255.7 431.3 256.8 432.0 257.9 432.1 259.0 432.6 260.1 433.0 261.2 433.0 262.2 433.4 263.3 433.4 264.4 433.7 265.5 434.4 266.6 434.1 267.7 434.6 268.8 434.5 269.9 435.1 271.0 435.2 272.1 435.2 273.2 435.6 274.3 435.7 275.4 435.9 276.5 436.0 277.6 436.1 278.7 436.2 279.8 436.1 280.9 436.6 282.0 436.7 283.1 436.8 284.2 437.1 285.3 437.0 286.4 437.1 287.5 437.3 288.6 437.2 289.7 437.5 290.8 437.3 291.9 437.3 293.0 437.6 294.1 437.9 295.2 438.0 296.3 438.1" fill="none" stroke="#7c9200" stroke-width="2.35" stroke-linejoin="round" stroke-linecap="butt"/>
<path d="M78.8 441.2 79.9 441.2 81.0 441.2 82.1 441.2 83.2 441.2 84.3 441.0 85.4 441.2 86.5 441.2 87.6 441.0 88.7 441.2 89.8 441.2 90.9 441.2 92.0 440.9 93.1 440.8 94.2 440.8 95.3 440.8 96.4 440.3 97.5 440.1 98.6 440.0 99.7 439.7 100.8 439.0 101.9 438.3 103.0 437.6 104.1 436.8 105.2 435.9 106.3 434.9 107.4 433.2 108.5 431.7 109.6 429.6 110.7 427.4 111.8 425.1 112.9 421.7 114.0 419.1 115.1 415.3 116.2 411.4 117.3 406.4 118.4 402.7 119.5 397.1 120.6 391.2 121.6 386.0 122.7 379.6 123.8 374.3 124.9 367.9 126.0 361.5 127.1 355.0 128.2 348.4 129.3 342.3 130.4 334.4 131.5 328.4 132.6 322.3 133.7 316.5 134.8 311.4 135.9 306.0 137.0 299.8 138.1 295.4 139.2 291.7 140.3 287.5 141.4 283.8 142.5 282.2 143.6 279.2 144.7 277.0 145.8 275.3 146.9 273.7 148.0 273.0 149.1 272.5 150.2 270.9 151.3 271.3 152.4 270.6 153.5 271.6 154.6 271.4 155.7 271.4 156.8 272.5 157.9 272.6 159.0 273.7 160.1 274.4 161.2 275.7 162.3 276.2 163.4 278.0 164.5 280.0 165.6 281.1 166.7 283.1 167.8 285.4 168.9 286.6 170.0 289.1 171.1 292.2 172.2 293.7 173.3 296.3 174.4 299.3 175.5 300.5 176.6 303.7 177.7 305.8 178.8 309.3 179.9 312.1 181.0 315.4 182.1 317.4 183.2 320.6 184.3 323.9 185.4 325.8 186.5 329.1 187.6 332.7 188.7 334.3 189.8 338.0 190.9 340.1 191.9 343.8 193.0 347.2 194.1 349.2 195.2 352.2 196.3 354.3 197.4 357.3 198.5 360.1 199.6 362.4 200.7 364.7 201.8 366.5 202.9 368.6 204.0 371.3 205.1 373.8 206.2 376.0 207.3 377.0 208.4 379.5 209.5 380.4 210.6 382.8 211.7 383.8 212.8 386.8 213.9 387.4 215.0 390.1 216.1 391.5 217.2 392.9 218.3 394.6 219.4 395.9 220.5 397.4 221.6 398.8 222.7 401.0 223.8 401.7 224.9 403.5 226.0 404.6 227.1 406.4 228.2 407.2 229.3 409.2 230.4 410.6 231.5 411.2 232.6 412.5 233.7 414.1 234.8 415.1 235.9 416.1 237.0 417.3 238.1 418.0 239.2 419.1 240.3 419.8 241.4 420.5 242.5 421.8 243.6 422.5 244.7 423.0 245.8 423.7 246.9 424.3 248.0 425.3 249.1 426.0 250.2 426.7 251.3 427.1 252.4 427.7 253.5 427.9 254.6 428.7 255.7 428.9 256.8 429.8 257.9 430.1 259.0 430.4 260.1 430.9 261.2 431.1 262.2 431.2 263.3 431.8 264.4 432.3 265.5 432.3 266.6 432.6 267.7 432.7 268.8 433.4 269.9 433.2 271.0 433.5 272.1 433.9 273.2 434.1 274.3 434.4 275.4 434.1 276.5 434.6 277.6 434.7 278.7 434.8 279.8 434.9 280.9 435.1 282.0 435.3 283.1 435.3 284.2 435.5 285.3 435.8 286.4 435.6 287.5 436.1 288.6 436.2 289.7 436.2 290.8 436.3 291.9 436.6 293.0 436.4 294.1 436.4 295.2 436.7 296.3 436.9" fill="none" stroke="#a6bc30" stroke-width="2.35" stroke-linejoin="round" stroke-linecap="butt"/>
<path d="M78.8 441.2 79.9 441.2 81.0 441.2 82.1 441.2 83.2 441.1 84.3 441.2 85.4 441.0 86.5 441.2 87.6 441.0 88.7 441.1 89.8 441.0 90.9 441.0 92.0 441.2 93.1 441.0 94.2 441.0 95.3 441.2 96.4 440.8 97.5 440.9 98.6 440.6 99.7 440.8 100.8 440.3 101.9 440.4 103.0 440.1 104.1 439.8 105.2 439.4 106.3 438.6 107.4 438.2 108.5 437.5 109.6 436.4 110.7 435.4 111.8 434.4 112.9 433.2 114.0 431.3 115.1 429.6 116.2 427.7 117.3 425.4 118.4 422.8 119.5 419.9 120.6 417.0 121.6 413.7 122.7 409.5 123.8 405.7 124.9 401.6 126.0 396.7 127.1 391.2 128.2 385.7 129.3 381.5 130.4 374.7 131.5 369.6 132.6 362.8 133.7 356.7 134.8 351.5 135.9 344.9 137.0 338.9 138.1 333.4 139.2 326.3 140.3 321.1 141.4 315.1 142.5 311.0 143.6 305.8 144.7 300.1 145.8 296.6 146.9 292.4 148.0 288.9 149.1 284.7 150.2 282.6 151.3 280.3 152.4 278.2 153.5 275.1 154.6 274.9 155.7 273.6 156.8 272.5 157.9 271.5 159.0 270.7 160.1 270.3 161.2 271.0 162.3 270.8 163.4 271.6 164.5 271.7 165.6 273.0 166.7 272.7 167.8 274.0 168.9 274.9 170.0 276.0 171.1 277.4 172.2 278.8 173.3 280.9 174.4 283.7 175.5 285.3 176.6 287.0 177.7 289.9 178.8 291.8 179.9 294.1 181.0 296.9 182.1 299.0 183.2 301.2 184.3 303.4 185.4 306.5 186.5 309.2 187.6 312.6 188.7 314.1 189.8 317.2 190.9 320.1 191.9 323.2 193.0 325.9 194.1 329.4 195.2 331.9 196.3 335.0 197.4 336.3 198.5 340.0 199.6 342.2 200.7 344.7 201.8 347.7 202.9 349.5 204.0 352.0 205.1 355.2 206.2 358.3 207.3 359.5 208.4 362.2 209.5 365.2 210.6 366.3 211.7 368.7 212.8 370.2 213.9 372.9 215.0 375.2 216.1 377.7 217.2 379.6 218.3 380.7 219.4 382.4 220.5 385.0 221.6 386.6 222.7 388.9 223.8 391.0 224.9 392.5 226.0 394.3 227.1 395.1 228.2 397.7 229.3 399.2 230.4 400.5 231.5 401.5 232.6 403.7 233.7 405.1 234.8 406.0 235.9 407.6 237.0 408.5 238.1 410.1 239.2 411.6 240.3 412.1 241.4 413.5 242.5 414.7 243.6 415.3 244.7 416.7 245.8 417.8 246.9 418.6 248.0 419.4 249.1 419.8 250.2 420.6 251.3 421.9 252.4 422.7 253.5 423.3 254.6 424.1 255.7 424.3 256.8 425.1 257.9 425.5 259.0 426.4 260.1 426.6 261.2 427.0 262.2 427.8 263.3 427.8 264.4 428.7 265.5 428.7 266.6 429.1 267.7 429.5 268.8 430.2 269.9 430.3 271.0 430.6 272.1 431.2 273.2 431.3 274.3 431.8 275.4 432.2 276.5 432.1 277.6 432.4 278.7 432.6 279.8 433.3 280.9 433.3 282.0 433.8 283.1 433.7 284.2 433.9 285.3 434.2 286.4 434.4 287.5 434.6 288.6 435.0 289.7 435.0 290.8 435.0 291.9 435.3 293.0 435.7 294.1 435.8 295.2 436.0 296.3 436.3" fill="none" stroke="#d4cc14" stroke-width="2.35" stroke-linejoin="round" stroke-linecap="butt"/>
<path d="M97.1 441.1 98.2 441.1 99.3 441.1 100.4 440.9 101.5 440.9 102.6 440.9 103.7 441.0 104.8 440.9 105.9 440.7 107.0 440.5 108.1 440.7 109.2 440.5 110.3 439.9 111.4 440.0 112.5 439.5 113.6 439.3 114.7 438.7 115.8 438.1 116.9 437.7 118.0 437.1 119.1 436.4 120.2 435.3 121.3 434.3 122.4 433.3 123.5 431.9 124.6 430.3 125.7 428.8 126.8 427.0 127.9 424.6 129.0 422.7 130.1 419.7 131.2 416.7 132.3 413.6 133.4 410.9 134.5 407.1 135.6 402.7 136.7 399.3 137.8 394.1 138.9 390.5 140.0 384.8 141.1 381.0 142.2 374.8 143.3 369.1 144.4 364.0 145.4 358.2 146.5 352.0 147.6 346.1 148.7 341.5 149.8 335.2 150.9 330.2 152.0 324.0 153.1 318.9 154.2 313.5 155.3 307.7 156.4 303.7 157.5 299.0 158.6 294.9 159.7 289.7 160.8 287.0 161.9 284.0 163.0 280.3 164.1 277.7 165.2 275.8 166.3 274.2 167.4 272.9 168.5 271.7 169.6 271.7 170.7 270.6 171.8 270.7 172.9 270.5 174.0 270.7 175.1 271.2 176.2 272.2 177.3 272.9 178.4 273.4 179.5 274.6 180.6 276.5 181.7 276.4 182.8 278.9 183.9 279.9 185.0 281.6 186.1 283.8 187.2 284.9 188.3 286.8 189.4 288.5 190.5 290.9 191.6 293.6 192.7 295.4 193.8 297.2 194.9 300.1 196.0 302.2 197.1 306.0 198.2 307.6 199.3 310.9 200.4 313.7 201.5 316.1 202.6 319.1 203.7 322.0 204.8 324.6 205.9 327.3 207.0 330.1 208.1 332.1 209.2 336.0 210.3 338.6 211.4 341.6 212.5 343.7 213.6 346.9 214.7 349.2 215.7 352.4 216.8 355.1 217.9 357.3 219.0 360.5 220.1 361.8 221.2 364.7 222.3 367.3 223.4 369.3 224.5 371.0 225.6 373.9 226.7 376.2 227.8 378.6 228.9 380.4 230.0 381.8 231.1 384.0 232.2 386.4 233.3 387.3 234.4 390.2 235.5 391.6 236.6 392.7 237.7 394.2 238.8 396.3 239.9 398.4 241.0 399.1 242.1 400.6 243.2 402.4 244.3 403.3 245.4 403.9 246.5 406.0 247.6 407.0 248.7 408.1 249.8 408.4 250.9 410.0 252.0 410.5 253.1 411.5 254.2 413.1 255.3 413.5 256.4 414.7 257.5 414.8 258.6 415.9 259.7 416.7 260.8 417.1 261.9 417.8 263.0 419.1 264.1 419.7 265.2 420.1 266.3 420.7 267.4 421.2 268.5 421.7 269.6 421.8 270.7 422.6 271.8 422.8 272.9 423.5 274.0 424.3 275.1 424.5 276.2 425.2 277.3 425.3 278.4 426.0 279.5 425.8 280.6 426.6 281.7 426.6 282.8 427.4 283.9 427.8 284.9 428.1 286.0 428.0 287.1 428.3 288.2 428.7 289.3 429.1 290.4 429.7 291.5 430.0 292.6 430.4 293.7 430.1 294.8 430.9 295.9 430.8" fill="none" stroke="#b48c08" stroke-width="2.35" stroke-linejoin="round" stroke-linecap="butt"/>
<path d="M97.1 438.5 98.2 438.4 99.3 438.4 100.4 438.1 101.5 438.4 102.6 438.0 103.7 438.1 104.8 437.8 105.9 437.9 107.0 437.9 108.1 438.0 109.2 437.8 110.3 437.4 111.4 437.3 112.5 437.6 113.6 437.2 114.7 437.4 115.8 437.1 116.9 437.1 118.0 437.0 119.1 436.8 120.2 436.5 121.3 436.4 122.4 436.4 123.5 436.3 124.6 436.2 125.7 435.5 126.8 435.5 127.9 435.3 129.0 435.1 130.1 435.0 131.2 434.6 132.3 433.8 133.4 433.8 134.5 433.3 135.6 432.6 136.7 432.3 137.8 432.0 138.9 431.5 140.0 430.8 141.1 430.1 142.2 429.3 143.3 428.5 144.4 427.5 145.4 426.4 146.5 425.3 147.6 424.2 148.7 422.8 149.8 421.6 150.9 419.5 152.0 418.5 153.1 416.4 154.2 414.7 155.3 412.5 156.4 410.9 157.5 407.5 158.6 405.2 159.7 403.5 160.8 400.4 161.9 396.7 163.0 393.7 164.1 390.7 165.2 386.9 166.3 384.4 167.4 379.7 168.5 376.6 169.6 372.4 170.7 367.2 171.8 363.8 172.9 359.0 174.0 354.3 175.1 350.0 176.2 344.8 177.3 339.8 178.4 335.5 179.5 331.0 180.6 325.5 181.7 321.5 182.8 317.1 183.9 311.2 185.0 307.6 186.1 303.4 187.2 298.2 188.3 295.1 189.4 290.3 190.5 286.5 191.6 284.1 192.7 280.2 193.8 278.0 194.9 276.3 196.0 274.6 197.1 273.2 198.2 271.6 199.3 270.5 200.4 271.1 201.5 271.2 202.6 271.8 203.7 271.9 204.8 272.6 205.9 274.1 207.0 275.2 208.1 276.7 209.2 277.0 210.3 278.8 211.4 281.2 212.5 281.8 213.6 284.0 214.7 287.1 215.7 288.3 216.8 291.5 217.9 293.2 219.0 295.0 220.1 297.9 221.2 301.3 222.3 304.0 223.4 305.5 224.5 309.7 225.6 312.1 226.7 315.1 227.8 317.8 228.9 320.6 230.0 322.8 231.1 326.4 232.2 329.1 233.3 331.6 234.4 335.0 235.5 338.4 236.6 340.2 237.7 343.3 238.8 347.1 239.9 349.3 241.0 351.5 242.1 355.6 243.2 357.3 244.3 359.8 245.4 363.1 246.5 365.0 247.6 367.6 248.7 370.4 249.8 372.3 250.9 375.4 252.0 377.4 253.1 380.2 254.2 381.3 255.3 383.5 256.4 385.7 257.5 386.9 258.6 389.0 259.7 390.4 260.8 392.5 261.9 393.5 263.0 395.4 264.1 396.3 265.2 397.5 266.3 399.0 267.4 400.1 268.5 401.0 269.6 402.9 270.7 403.5 271.8 404.7 272.9 406.4 274.0 407.8 275.1 408.2 276.2 409.1 277.3 410.5 278.4 412.2 279.5 412.7 280.6 413.8 281.7 414.9 282.8 415.9 283.9 416.8 284.9 417.4 286.0 418.2 287.1 419.7 288.2 420.2 289.3 420.9 290.4 421.6 291.5 422.2 292.6 423.3 293.7 423.8 294.8 425.1 295.9 425.0" fill="none" stroke="#ae1a08" stroke-width="2.35" stroke-linejoin="round" stroke-linecap="butt"/>
</g>
<path d="M40 254V441.5H296.3V254" fill="none" stroke="#000" stroke-width="1.5"/>
<path d="M40.0 441V438.6M58.3 441V439.4M76.6 441V438.6M94.9 441V439.4M113.2 441V438.6M131.5 441V439.4M149.8 441V438.6M168.2 441V439.4M186.5 441V438.6M204.8 441V439.4M223.1 441V438.6M241.4 441V439.4M259.7 441V438.6M278.0 441V439.4M296.3 441V438.6" stroke="#000" stroke-width="0.9" fill="none"/>
<g font-size="12" fill="#111" text-anchor="middle">
<text x="40.0" y="456.3">400</text>
<text x="76.6" y="456.3">450</text>
<text x="113.2" y="456.3">500</text>
<text x="149.8" y="456.3">550</text>
<text x="186.5" y="456.3">600</text>
<text x="223.1" y="456.3">650</text>
<text x="259.7" y="456.3">700</text>
<text x="296.3" y="456.3">750</text>
<text x="169" y="473.6" font-size="12.2">Wavelength (nm)</text>
<text transform="translate(29.6 350) rotate(-90)" font-size="11.25">Normalized Fl. Intensity</text>
</g>
<g font-weight="bold" font-size="7.2" fill="#111">
<line x1="239" x2="257.8" y1="262.9" y2="262.9" stroke="#0f62d8" stroke-width="2"/>
<text x="262" y="265.3">4</text>
<line x1="239" x2="257.8" y1="273.4" y2="273.4" stroke="#0f9468" stroke-width="2"/>
<text x="262" y="275.8">5</text>
<line x1="239" x2="257.8" y1="283.8" y2="283.8" stroke="#4ed070" stroke-width="2"/>
<text x="262" y="286.2">6</text>
<line x1="239" x2="257.8" y1="294.3" y2="294.3" stroke="#7c9200" stroke-width="2"/>
<text x="262" y="296.7">7</text>
<line x1="239" x2="257.8" y1="304.7" y2="304.7" stroke="#a6bc30" stroke-width="2"/>
<text x="262" y="307.1">8</text>
<line x1="239" x2="257.8" y1="315.2" y2="315.2" stroke="#d4cc14" stroke-width="2"/>
<text x="262" y="317.6">9</text>
<line x1="239" x2="257.8" y1="325.7" y2="325.7" stroke="#b48c08" stroke-width="2"/>
<text x="262" y="328.1">10</text>
<line x1="239" x2="257.8" y1="336.1" y2="336.1" stroke="#ae1a08" stroke-width="2"/>
<text x="262" y="338.5"><tspan font-style="italic">p</tspan>-DAPA</text>
</g>
<text x="-1.3" y="187.0" font-weight="bold" font-size="16.8" fill="#111">b</text>
<defs><clipPath id="locus"><path d="M453.0 407.3 453.0 407.3 453.0 407.3 452.9 407.4 452.9 407.4 452.8 407.4 452.8 407.4 452.7 407.4 452.7 407.4 452.7 407.4 452.6 407.4 452.6 407.4 452.6 407.4 452.5 407.4 452.5 407.4 452.4 407.4 452.3 407.4 452.3 407.3 452.2 407.3 452.1 407.3 451.9 407.2 451.8 407.1 451.6 407.0 451.5 407.0 451.4 406.9 451.2 406.8 451.1 406.8 451.0 406.7 450.9 406.6 450.8 406.6 450.7 406.5 450.6 406.4 450.5 406.3 450.3 406.2 450.2 406.1 450.1 406.1 449.9 406.0 449.7 405.8 449.6 405.7 449.4 405.6 449.2 405.5 449.0 405.4 448.8 405.3 448.6 405.1 448.4 405.0 448.2 404.8 447.9 404.7 447.6 404.5 447.4 404.4 447.1 404.2 446.8 404.0 446.5 403.8 446.2 403.6 445.9 403.4 445.6 403.2 445.2 403.0 444.9 402.7 444.5 402.5 444.1 402.2 443.7 401.9 443.3 401.6 442.9 401.2 442.5 400.9 442.0 400.5 441.6 400.1 441.1 399.7 440.6 399.2 440.0 398.6 439.4 398.0 438.8 397.4 438.2 396.6 437.5 395.9 436.9 395.0 436.2 394.1 435.4 393.1 434.7 392.0 433.9 390.9 433.0 389.6 432.2 388.2 431.3 386.7 430.3 385.1 429.4 383.4 428.4 381.6 427.3 379.6 426.2 377.5 425.1 375.2 423.9 372.8 422.7 370.2 421.4 367.5 420.2 364.6 418.9 361.6 417.7 358.3 416.4 354.9 415.1 351.3 413.9 347.5 412.6 343.6 411.4 339.5 410.2 335.3 408.9 330.8 407.7 326.2 406.5 321.5 405.4 316.8 404.3 312.0 403.3 307.2 402.4 302.3 401.5 297.3 400.7 292.3 399.9 287.4 399.4 282.6 398.9 277.9 398.5 273.2 398.1 268.6 398.0 264.0 397.9 259.6 398.0 255.4 398.2 251.3 398.5 247.3 399.0 243.5 399.6 239.8 400.3 236.3 401.2 233.1 402.2 230.1 403.4 227.4 404.7 224.8 406.2 222.5 407.7 220.4 409.3 218.7 411.0 217.2 412.8 216.0 414.7 215.1 416.7 214.4 418.7 213.9 420.7 213.6 422.8 213.4 424.9 213.5 427.1 213.8 429.3 214.3 431.5 214.8 433.7 215.4 435.8 216.0 438.0 216.7 440.2 217.5 442.4 218.3 444.6 219.2 446.8 220.1 448.9 221.0 451.0 221.9 453.0 222.8 455.1 223.8 457.1 224.8 459.1 225.8 461.1 226.8 463.1 227.8 465.1 228.9 467.1 230.0 469.0 231.1 471.0 232.2 473.0 233.3 474.9 234.4 476.9 235.6 478.8 236.8 480.8 238.0 482.7 239.2 484.7 240.4 486.6 241.6 488.5 242.9 490.5 244.1 492.4 245.4 494.3 246.7 496.2 247.9 498.2 249.2 500.1 250.5 502.0 251.8 503.9 253.1 505.9 254.5 507.8 255.8 509.7 257.1 511.7 258.5 513.6 259.8 515.5 261.2 517.4 262.5 519.4 263.9 521.3 265.2 523.2 266.6 525.1 267.9 527.0 269.3 529.0 270.7 530.9 272.0 532.8 273.4 534.7 274.7 536.6 276.1 538.5 277.5 540.4 278.8 542.3 280.2 544.2 281.5 546.1 282.9 547.9 284.2 549.8 285.6 551.7 286.9 553.5 288.2 555.3 289.5 557.2 290.8 559.0 292.2 560.8 293.5 562.6 294.7 564.3 296.0 566.1 297.3 567.9 298.6 569.6 299.8 571.3 301.0 573.0 302.3 574.7 303.5 576.4 304.7 578.0 305.9 579.7 307.0 581.3 308.2 582.8 309.3 584.4 310.5 585.9 311.6 587.5 312.7 588.9 313.7 590.4 314.8 591.8 315.8 593.2 316.8 594.5 317.8 595.8 318.7 597.1 319.6 598.4 320.5 599.6 321.4 600.8 322.3 602.0 323.1 603.2 324.0 604.3 324.8 605.4 325.6 606.5 326.4 607.5 327.1 608.5 327.8 609.5 328.5 610.4 329.1 611.3 329.8 612.2 330.4 613.0 331.0 613.8 331.6 614.6 332.2 615.4 332.7 616.1 333.3 616.8 333.8 617.5 334.3 618.1 334.7 618.7 335.2 619.3 335.6 619.9 336.0 620.5 336.4 621.0 336.8 621.5 337.2 622.0 337.5 622.5 337.9 623.0 338.2 623.4 338.5 623.8 338.8 624.2 339.1 624.6 339.4 624.9 339.6 625.3 339.9 625.8 340.2 626.3 340.6 626.9 341.1 627.6 341.5 628.2 342.0 628.9 342.4 629.4 342.8 629.9 343.2 630.3 343.5 630.7 343.7 631.0 344.0 631.3 344.2 631.7 344.4 631.9 344.6 632.1 344.8 632.3 344.9 632.5 345.1 632.7 345.2 632.9 345.4 633.2 345.6 633.5 345.8 633.8 346.0 634.1 346.2 634.3 346.4 634.5 346.5Z"/></clipPath><filter id="cb" x="-5%" y="-5%" width="110%" height="110%"><feGaussianBlur stdDeviation="1.7"/></filter></defs>
<g clip-path="url(#locus)"><g filter="url(#cb)"><path d="M408.7 204.1h4.2v4.2h-4.2z" fill="#00ff9c"/><path d="M412.7 204.1h4.2v4.2h-4.2z" fill="#00ff99"/><path d="M416.7 204.1h4.2v4.2h-4.2z" fill="#00ff96"/><path d="M420.7 204.1h4.2v4.2h-4.2z" fill="#00ff93"/><path d="M424.7 204.1h4.2v4.2h-4.2z" fill="#00ff90"/><path d="M428.7 204.1h4.2v4.2h-4.2z" fill="#00ff8d"/><path d="M432.7 204.1h4.2v4.2h-4.2z" fill="#00ff89"/><path d="M400.7 208.1h4.2v4.2h-4.2z" fill="#00ffa3"/><path d="M404.7 208.1h4.2v4.2h-4.2z" fill="#00ffa0"/><path d="M408.7 208.1h4.2v4.2h-4.2z" fill="#00ff9e"/><path d="M412.7 208.1h4.2v4.2h-4.2z" fill="#00ff9b"/><path d="M416.7 208.1h4.2v4.2h-4.2z" fill="#00ff98"/><path d="M420.7 208.1h4.2v4.2h-4.2z" fill="#00ff95"/><path d="M424.7 208.1h4.2v4.2h-4.2z" fill="#00ff92"/><path d="M428.7 208.1h4.2v4.2h-4.2z" fill="#00ff8f"/><path d="M432.7 208.1h4.2v4.2h-4.2z" fill="#00ff8b"/><path d="M436.7 208.1h4.2v4.2h-4.2z" fill="#00ff87"/><path d="M440.7 208.1h4.2v4.2h-4.2z" fill="#00ff83"/><path d="M444.7 208.1h4.2v4.2h-4.2z" fill="#00ff7e"/><path d="M396.7 212.1h4.2v4.2h-4.2z" fill="#00ffa7"/><path d="M400.7 212.1h4.2v4.2h-4.2z" fill="#00ffa4"/><path d="M404.7 212.1h4.2v4.2h-4.2z" fill="#00ffa2"/><path d="M408.7 212.1h4.2v4.2h-4.2z" fill="#00ffa0"/><path d="M412.7 212.1h4.2v4.2h-4.2z" fill="#00ff9d"/><path d="M416.7 212.1h4.2v4.2h-4.2z" fill="#00ff9a"/><path d="M420.7 212.1h4.2v4.2h-4.2z" fill="#00ff97"/><path d="M424.7 212.1h4.2v4.2h-4.2z" fill="#00ff94"/><path d="M428.7 212.1h4.2v4.2h-4.2z" fill="#00ff91"/><path d="M432.7 212.1h4.2v4.2h-4.2z" fill="#00ff8d"/><path d="M436.7 212.1h4.2v4.2h-4.2z" fill="#00ff89"/><path d="M440.7 212.1h4.2v4.2h-4.2z" fill="#00ff85"/><path d="M444.7 212.1h4.2v4.2h-4.2z" fill="#00ff80"/><path d="M448.7 212.1h4.2v4.2h-4.2z" fill="#00ff7b"/><path d="M452.7 212.1h4.2v4.2h-4.2z" fill="#00ff76"/><path d="M456.7 212.1h4.2v4.2h-4.2z" fill="#00ff70"/><path d="M396.7 216.1h4.2v4.2h-4.2z" fill="#00ffa9"/><path d="M400.7 216.1h4.2v4.2h-4.2z" fill="#00ffa6"/><path d="M404.7 216.1h4.2v4.2h-4.2z" fill="#00ffa4"/><path d="M408.7 216.1h4.2v4.2h-4.2z" fill="#00ffa2"/><path d="M412.7 216.1h4.2v4.2h-4.2z" fill="#00ff9f"/><path d="M416.7 216.1h4.2v4.2h-4.2z" fill="#00ff9c"/><path d="M420.7 216.1h4.2v4.2h-4.2z" fill="#00ff9a"/><path d="M424.7 216.1h4.2v4.2h-4.2z" fill="#00ff96"/><path d="M428.7 216.1h4.2v4.2h-4.2z" fill="#00ff93"/><path d="M432.7 216.1h4.2v4.2h-4.2z" fill="#00ff8f"/><path d="M436.7 216.1h4.2v4.2h-4.2z" fill="#00ff8c"/><path d="M440.7 216.1h4.2v4.2h-4.2z" fill="#00ff87"/><path d="M444.7 216.1h4.2v4.2h-4.2z" fill="#00ff83"/><path d="M448.7 216.1h4.2v4.2h-4.2z" fill="#00ff7e"/><path d="M452.7 216.1h4.2v4.2h-4.2z" fill="#00ff78"/><path d="M456.7 216.1h4.2v4.2h-4.2z" fill="#00ff72"/><path d="M460.7 216.1h4.2v4.2h-4.2z" fill="#00ff6b"/><path d="M464.7 216.1h4.2v4.2h-4.2z" fill="#00ff63"/><path d="M392.7 220.1h4.2v4.2h-4.2z" fill="#00ffad"/><path d="M396.7 220.1h4.2v4.2h-4.2z" fill="#00ffab"/><path d="M400.7 220.1h4.2v4.2h-4.2z" fill="#00ffa9"/><path d="M404.7 220.1h4.2v4.2h-4.2z" fill="#00ffa6"/><path d="M408.7 220.1h4.2v4.2h-4.2z" fill="#00ffa4"/><path d="M412.7 220.1h4.2v4.2h-4.2z" fill="#00ffa1"/><path d="M416.7 220.1h4.2v4.2h-4.2z" fill="#00ff9f"/><path d="M420.7 220.1h4.2v4.2h-4.2z" fill="#00ff9c"/><path d="M424.7 220.1h4.2v4.2h-4.2z" fill="#00ff99"/><path d="M428.7 220.1h4.2v4.2h-4.2z" fill="#00ff95"/><path d="M432.7 220.1h4.2v4.2h-4.2z" fill="#00ff92"/><path d="M436.7 220.1h4.2v4.2h-4.2z" fill="#00ff8e"/><path d="M440.7 220.1h4.2v4.2h-4.2z" fill="#00ff8a"/><path d="M444.7 220.1h4.2v4.2h-4.2z" fill="#00ff85"/><path d="M448.7 220.1h4.2v4.2h-4.2z" fill="#00ff80"/><path d="M452.7 220.1h4.2v4.2h-4.2z" fill="#00ff7b"/><path d="M456.7 220.1h4.2v4.2h-4.2z" fill="#00ff75"/><path d="M460.7 220.1h4.2v4.2h-4.2z" fill="#00ff6e"/><path d="M464.7 220.1h4.2v4.2h-4.2z" fill="#00ff66"/><path d="M468.7 220.1h4.2v4.2h-4.2z" fill="#00ff5d"/><path d="M472.7 220.1h4.2v4.2h-4.2z" fill="#00ff52"/><path d="M392.7 224.1h4.2v4.2h-4.2z" fill="#00ffaf"/><path d="M396.7 224.1h4.2v4.2h-4.2z" fill="#00ffad"/><path d="M400.7 224.1h4.2v4.2h-4.2z" fill="#00ffab"/><path d="M404.7 224.1h4.2v4.2h-4.2z" fill="#00ffa8"/><path d="M408.7 224.1h4.2v4.2h-4.2z" fill="#00ffa6"/><path d="M412.7 224.1h4.2v4.2h-4.2z" fill="#00ffa3"/><path d="M416.7 224.1h4.2v4.2h-4.2z" fill="#00ffa1"/><path d="M420.7 224.1h4.2v4.2h-4.2z" fill="#00ff9e"/><path d="M424.7 224.1h4.2v4.2h-4.2z" fill="#00ff9b"/><path d="M428.7 224.1h4.2v4.2h-4.2z" fill="#00ff98"/><path d="M432.7 224.1h4.2v4.2h-4.2z" fill="#00ff94"/><path d="M436.7 224.1h4.2v4.2h-4.2z" fill="#00ff90"/><path d="M440.7 224.1h4.2v4.2h-4.2z" fill="#00ff8c"/><path d="M444.7 224.1h4.2v4.2h-4.2z" fill="#00ff88"/><path d="M448.7 224.1h4.2v4.2h-4.2z" fill="#00ff83"/><path d="M452.7 224.1h4.2v4.2h-4.2z" fill="#00ff7e"/><path d="M456.7 224.1h4.2v4.2h-4.2z" fill="#00ff78"/><path d="M460.7 224.1h4.2v4.2h-4.2z" fill="#00ff71"/><path d="M464.7 224.1h4.2v4.2h-4.2z" fill="#00ff69"/><path d="M468.7 224.1h4.2v4.2h-4.2z" fill="#00ff60"/><path d="M472.7 224.1h4.2v4.2h-4.2z" fill="#00ff55"/><path d="M476.7 224.1h4.2v4.2h-4.2z" fill="#00ff47"/><path d="M392.7 228.1h4.2v4.2h-4.2z" fill="#00ffb1"/><path d="M396.7 228.1h4.2v4.2h-4.2z" fill="#00ffaf"/><path d="M400.7 228.1h4.2v4.2h-4.2z" fill="#00ffad"/><path d="M404.7 228.1h4.2v4.2h-4.2z" fill="#00ffab"/><path d="M408.7 228.1h4.2v4.2h-4.2z" fill="#00ffa8"/><path d="M412.7 228.1h4.2v4.2h-4.2z" fill="#00ffa6"/><path d="M416.7 228.1h4.2v4.2h-4.2z" fill="#00ffa3"/><path d="M420.7 228.1h4.2v4.2h-4.2z" fill="#00ffa0"/><path d="M424.7 228.1h4.2v4.2h-4.2z" fill="#00ff9d"/><path d="M428.7 228.1h4.2v4.2h-4.2z" fill="#00ff9a"/><path d="M432.7 228.1h4.2v4.2h-4.2z" fill="#00ff97"/><path d="M436.7 228.1h4.2v4.2h-4.2z" fill="#00ff93"/><path d="M440.7 228.1h4.2v4.2h-4.2z" fill="#00ff8f"/><path d="M444.7 228.1h4.2v4.2h-4.2z" fill="#00ff8a"/><path d="M448.7 228.1h4.2v4.2h-4.2z" fill="#00ff86"/><path d="M452.7 228.1h4.2v4.2h-4.2z" fill="#00ff80"/><path d="M456.7 228.1h4.2v4.2h-4.2z" fill="#00ff7a"/><path d="M460.7 228.1h4.2v4.2h-4.2z" fill="#00ff74"/><path d="M464.7 228.1h4.2v4.2h-4.2z" fill="#00ff6c"/><path d="M468.7 228.1h4.2v4.2h-4.2z" fill="#00ff63"/><path d="M472.7 228.1h4.2v4.2h-4.2z" fill="#00ff59"/><path d="M476.7 228.1h4.2v4.2h-4.2z" fill="#00ff4b"/><path d="M480.7 228.1h4.2v4.2h-4.2z" fill="#00ff39"/><path d="M484.7 228.1h4.2v4.2h-4.2z" fill="#00ff14"/><path d="M392.7 232.1h4.2v4.2h-4.2z" fill="#00ffb3"/><path d="M396.7 232.1h4.2v4.2h-4.2z" fill="#00ffb1"/><path d="M400.7 232.1h4.2v4.2h-4.2z" fill="#00ffaf"/><path d="M404.7 232.1h4.2v4.2h-4.2z" fill="#00ffad"/><path d="M408.7 232.1h4.2v4.2h-4.2z" fill="#00ffaa"/><path d="M412.7 232.1h4.2v4.2h-4.2z" fill="#00ffa8"/><path d="M416.7 232.1h4.2v4.2h-4.2z" fill="#00ffa5"/><path d="M420.7 232.1h4.2v4.2h-4.2z" fill="#00ffa3"/><path d="M424.7 232.1h4.2v4.2h-4.2z" fill="#00ffa0"/><path d="M428.7 232.1h4.2v4.2h-4.2z" fill="#00ff9d"/><path d="M432.7 232.1h4.2v4.2h-4.2z" fill="#00ff99"/><path d="M436.7 232.1h4.2v4.2h-4.2z" fill="#00ff95"/><path d="M440.7 232.1h4.2v4.2h-4.2z" fill="#00ff92"/><path d="M444.7 232.1h4.2v4.2h-4.2z" fill="#00ff8d"/><path d="M448.7 232.1h4.2v4.2h-4.2z" fill="#00ff88"/><path d="M452.7 232.1h4.2v4.2h-4.2z" fill="#00ff83"/><path d="M456.7 232.1h4.2v4.2h-4.2z" fill="#00ff7d"/><path d="M460.7 232.1h4.2v4.2h-4.2z" fill="#00ff77"/><path d="M464.7 232.1h4.2v4.2h-4.2z" fill="#00ff6f"/><path d="M468.7 232.1h4.2v4.2h-4.2z" fill="#00ff67"/><path d="M472.7 232.1h4.2v4.2h-4.2z" fill="#00ff5c"/><path d="M476.7 232.1h4.2v4.2h-4.2z" fill="#00ff4f"/><path d="M480.7 232.1h4.2v4.2h-4.2z" fill="#00ff3e"/><path d="M484.7 232.1h4.2v4.2h-4.2z" fill="#00ff1f"/><path d="M488.7 232.1h4.2v4.2h-4.2z" fill="#00ff00"/><path d="M492.7 232.1h4.2v4.2h-4.2z" fill="#00ff00"/><path d="M388.7 236.1h4.2v4.2h-4.2z" fill="#00ffb7"/><path d="M392.7 236.1h4.2v4.2h-4.2z" fill="#00ffb5"/><path d="M396.7 236.1h4.2v4.2h-4.2z" fill="#00ffb3"/><path d="M400.7 236.1h4.2v4.2h-4.2z" fill="#00ffb1"/><path d="M404.7 236.1h4.2v4.2h-4.2z" fill="#00ffaf"/><path d="M408.7 236.1h4.2v4.2h-4.2z" fill="#00ffad"/><path d="M412.7 236.1h4.2v4.2h-4.2z" fill="#00ffaa"/><path d="M416.7 236.1h4.2v4.2h-4.2z" fill="#00ffa8"/><path d="M420.7 236.1h4.2v4.2h-4.2z" fill="#00ffa5"/><path d="M424.7 236.1h4.2v4.2h-4.2z" fill="#00ffa2"/><path d="M428.7 236.1h4.2v4.2h-4.2z" fill="#00ff9f"/><path d="M432.7 236.1h4.2v4.2h-4.2z" fill="#00ff9c"/><path d="M436.7 236.1h4.2v4.2h-4.2z" fill="#00ff98"/><path d="M440.7 236.1h4.2v4.2h-4.2z" fill="#00ff94"/><path d="M444.7 236.1h4.2v4.2h-4.2z" fill="#00ff90"/><path d="M448.7 236.1h4.2v4.2h-4.2z" fill="#00ff8b"/><path d="M452.7 236.1h4.2v4.2h-4.2z" fill="#00ff86"/><path d="M456.7 236.1h4.2v4.2h-4.2z" fill="#00ff80"/><path d="M460.7 236.1h4.2v4.2h-4.2z" fill="#00ff7a"/><path d="M464.7 236.1h4.2v4.2h-4.2z" fill="#00ff72"/><path d="M468.7 236.1h4.2v4.2h-4.2z" fill="#00ff6a"/><path d="M472.7 236.1h4.2v4.2h-4.2z" fill="#00ff60"/><path d="M476.7 236.1h4.2v4.2h-4.2z" fill="#00ff53"/><path d="M480.7 236.1h4.2v4.2h-4.2z" fill="#00ff43"/><path d="M484.7 236.1h4.2v4.2h-4.2z" fill="#00ff28"/><path d="M488.7 236.1h4.2v4.2h-4.2z" fill="#00ff00"/><path d="M492.7 236.1h4.2v4.2h-4.2z" fill="#09ff00"/><path d="M496.7 236.1h4.2v4.2h-4.2z" fill="#40ff00"/><path d="M388.7 240.1h4.2v4.2h-4.2z" fill="#00ffb9"/><path d="M392.7 240.1h4.2v4.2h-4.2z" fill="#00ffb7"/><path d="M396.7 240.1h4.2v4.2h-4.2z" fill="#00ffb5"/><path d="M400.7 240.1h4.2v4.2h-4.2z" fill="#00ffb3"/><path d="M404.7 240.1h4.2v4.2h-4.2z" fill="#00ffb1"/><path d="M408.7 240.1h4.2v4.2h-4.2z" fill="#00ffaf"/><path d="M412.7 240.1h4.2v4.2h-4.2z" fill="#00ffad"/><path d="M416.7 240.1h4.2v4.2h-4.2z" fill="#00ffaa"/><path d="M420.7 240.1h4.2v4.2h-4.2z" fill="#00ffa8"/><path d="M424.7 240.1h4.2v4.2h-4.2z" fill="#00ffa5"/><path d="M428.7 240.1h4.2v4.2h-4.2z" fill="#00ffa2"/><path d="M432.7 240.1h4.2v4.2h-4.2z" fill="#00ff9e"/><path d="M436.7 240.1h4.2v4.2h-4.2z" fill="#00ff9b"/><path d="M440.7 240.1h4.2v4.2h-4.2z" fill="#00ff97"/><path d="M444.7 240.1h4.2v4.2h-4.2z" fill="#00ff93"/><path d="M448.7 240.1h4.2v4.2h-4.2z" fill="#00ff8e"/><path d="M452.7 240.1h4.2v4.2h-4.2z" fill="#00ff89"/><path d="M456.7 240.1h4.2v4.2h-4.2z" fill="#00ff83"/><path d="M460.7 240.1h4.2v4.2h-4.2z" fill="#00ff7d"/><path d="M464.7 240.1h4.2v4.2h-4.2z" fill="#00ff76"/><path d="M468.7 240.1h4.2v4.2h-4.2z" fill="#00ff6d"/><path d="M472.7 240.1h4.2v4.2h-4.2z" fill="#00ff63"/><path d="M476.7 240.1h4.2v4.2h-4.2z" fill="#00ff57"/><path d="M480.7 240.1h4.2v4.2h-4.2z" fill="#00ff47"/><path d="M484.7 240.1h4.2v4.2h-4.2z" fill="#00ff2f"/><path d="M488.7 240.1h4.2v4.2h-4.2z" fill="#00ff00"/><path d="M492.7 240.1h4.2v4.2h-4.2z" fill="#0fff00"/><path d="M496.7 240.1h4.2v4.2h-4.2z" fill="#42ff00"/><path d="M500.7 240.1h4.2v4.2h-4.2z" fill="#59ff00"/><path d="M504.7 240.1h4.2v4.2h-4.2z" fill="#6bff00"/><path d="M388.7 244.1h4.2v4.2h-4.2z" fill="#00ffbb"/><path d="M392.7 244.1h4.2v4.2h-4.2z" fill="#00ffba"/><path d="M396.7 244.1h4.2v4.2h-4.2z" fill="#00ffb8"/><path d="M400.7 244.1h4.2v4.2h-4.2z" fill="#00ffb6"/><path d="M404.7 244.1h4.2v4.2h-4.2z" fill="#00ffb4"/><path d="M408.7 244.1h4.2v4.2h-4.2z" fill="#00ffb2"/><path d="M412.7 244.1h4.2v4.2h-4.2z" fill="#00ffaf"/><path d="M416.7 244.1h4.2v4.2h-4.2z" fill="#00ffad"/><path d="M420.7 244.1h4.2v4.2h-4.2z" fill="#00ffaa"/><path d="M424.7 244.1h4.2v4.2h-4.2z" fill="#00ffa7"/><path d="M428.7 244.1h4.2v4.2h-4.2z" fill="#00ffa4"/><path d="M432.7 244.1h4.2v4.2h-4.2z" fill="#00ffa1"/><path d="M436.7 244.1h4.2v4.2h-4.2z" fill="#00ff9e"/><path d="M440.7 244.1h4.2v4.2h-4.2z" fill="#00ff9a"/><path d="M444.7 244.1h4.2v4.2h-4.2z" fill="#00ff96"/><path d="M448.7 244.1h4.2v4.2h-4.2z" fill="#00ff91"/><path d="M452.7 244.1h4.2v4.2h-4.2z" fill="#00ff8c"/><path d="M456.7 244.1h4.2v4.2h-4.2z" fill="#00ff86"/><path d="M460.7 244.1h4.2v4.2h-4.2z" fill="#00ff80"/><path d="M464.7 244.1h4.2v4.2h-4.2z" fill="#00ff79"/><path d="M468.7 244.1h4.2v4.2h-4.2z" fill="#00ff71"/><path d="M472.7 244.1h4.2v4.2h-4.2z" fill="#00ff67"/><path d="M476.7 244.1h4.2v4.2h-4.2z" fill="#00ff5b"/><path d="M480.7 244.1h4.2v4.2h-4.2z" fill="#00ff4c"/><path d="M484.7 244.1h4.2v4.2h-4.2z" fill="#00ff36"/><path d="M488.7 244.1h4.2v4.2h-4.2z" fill="#00ff00"/><path d="M492.7 244.1h4.2v4.2h-4.2z" fill="#14ff00"/><path d="M496.7 244.1h4.2v4.2h-4.2z" fill="#44ff00"/><path d="M500.7 244.1h4.2v4.2h-4.2z" fill="#5cff00"/><path d="M504.7 244.1h4.2v4.2h-4.2z" fill="#6eff00"/><path d="M508.7 244.1h4.2v4.2h-4.2z" fill="#7dff00"/><path d="M388.7 248.1h4.2v4.2h-4.2z" fill="#00ffbe"/><path d="M392.7 248.1h4.2v4.2h-4.2z" fill="#00ffbc"/><path d="M396.7 248.1h4.2v4.2h-4.2z" fill="#00ffba"/><path d="M400.7 248.1h4.2v4.2h-4.2z" fill="#00ffb8"/><path d="M404.7 248.1h4.2v4.2h-4.2z" fill="#00ffb6"/><path d="M408.7 248.1h4.2v4.2h-4.2z" fill="#00ffb4"/><path d="M412.7 248.1h4.2v4.2h-4.2z" fill="#00ffb2"/><path d="M416.7 248.1h4.2v4.2h-4.2z" fill="#00ffaf"/><path d="M420.7 248.1h4.2v4.2h-4.2z" fill="#00ffad"/><path d="M424.7 248.1h4.2v4.2h-4.2z" fill="#00ffaa"/><path d="M428.7 248.1h4.2v4.2h-4.2z" fill="#00ffa7"/><path d="M432.7 248.1h4.2v4.2h-4.2z" fill="#00ffa4"/><path d="M436.7 248.1h4.2v4.2h-4.2z" fill="#00ffa0"/><path d="M440.7 248.1h4.2v4.2h-4.2z" fill="#00ff9d"/><path d="M444.7 248.1h4.2v4.2h-4.2z" fill="#00ff99"/><path d="M448.7 248.1h4.2v4.2h-4.2z" fill="#00ff94"/><path d="M452.7 248.1h4.2v4.2h-4.2z" fill="#00ff8f"/><path d="M456.7 248.1h4.2v4.2h-4.2z" fill="#00ff8a"/><path d="M460.7 248.1h4.2v4.2h-4.2z" fill="#00ff84"/><path d="M464.7 248.1h4.2v4.2h-4.2z" fill="#00ff7d"/><path d="M468.7 248.1h4.2v4.2h-4.2z" fill="#00ff74"/><path d="M472.7 248.1h4.2v4.2h-4.2z" fill="#00ff6b"/><path d="M476.7 248.1h4.2v4.2h-4.2z" fill="#00ff5f"/><path d="M480.7 248.1h4.2v4.2h-4.2z" fill="#00ff51"/><path d="M484.7 248.1h4.2v4.2h-4.2z" fill="#00ff3c"/><path d="M488.7 248.1h4.2v4.2h-4.2z" fill="#00ff00"/><path d="M492.7 248.1h4.2v4.2h-4.2z" fill="#17ff00"/><path d="M496.7 248.1h4.2v4.2h-4.2z" fill="#46ff00"/><path d="M500.7 248.1h4.2v4.2h-4.2z" fill="#5eff00"/><path d="M504.7 248.1h4.2v4.2h-4.2z" fill="#70ff00"/><path d="M508.7 248.1h4.2v4.2h-4.2z" fill="#80ff00"/><path d="M512.7 248.1h4.2v4.2h-4.2z" fill="#8dff00"/><path d="M516.7 248.1h4.2v4.2h-4.2z" fill="#99ff00"/><path d="M388.7 252.1h4.2v4.2h-4.2z" fill="#00ffc0"/><path d="M392.7 252.1h4.2v4.2h-4.2z" fill="#00ffbe"/><path d="M396.7 252.1h4.2v4.2h-4.2z" fill="#00ffbc"/><path d="M400.7 252.1h4.2v4.2h-4.2z" fill="#00ffbb"/><path d="M404.7 252.1h4.2v4.2h-4.2z" fill="#00ffb9"/><path d="M408.7 252.1h4.2v4.2h-4.2z" fill="#00ffb7"/><path d="M412.7 252.1h4.2v4.2h-4.2z" fill="#00ffb4"/><path d="M416.7 252.1h4.2v4.2h-4.2z" fill="#00ffb2"/><path d="M420.7 252.1h4.2v4.2h-4.2z" fill="#00ffb0"/><path d="M424.7 252.1h4.2v4.2h-4.2z" fill="#00ffad"/><path d="M428.7 252.1h4.2v4.2h-4.2z" fill="#00ffaa"/><path d="M432.7 252.1h4.2v4.2h-4.2z" fill="#00ffa7"/><path d="M436.7 252.1h4.2v4.2h-4.2z" fill="#00ffa3"/><path d="M440.7 252.1h4.2v4.2h-4.2z" fill="#00ffa0"/><path d="M444.7 252.1h4.2v4.2h-4.2z" fill="#00ff9c"/><path d="M448.7 252.1h4.2v4.2h-4.2z" fill="#00ff97"/><path d="M452.7 252.1h4.2v4.2h-4.2z" fill="#00ff93"/><path d="M456.7 252.1h4.2v4.2h-4.2z" fill="#00ff8d"/><path d="M460.7 252.1h4.2v4.2h-4.2z" fill="#00ff87"/><path d="M464.7 252.1h4.2v4.2h-4.2z" fill="#00ff80"/><path d="M468.7 252.1h4.2v4.2h-4.2z" fill="#00ff78"/><path d="M472.7 252.1h4.2v4.2h-4.2z" fill="#00ff6f"/><path d="M476.7 252.1h4.2v4.2h-4.2z" fill="#00ff64"/><path d="M480.7 252.1h4.2v4.2h-4.2z" fill="#00ff55"/><path d="M484.7 252.1h4.2v4.2h-4.2z" fill="#00ff41"/><path d="M488.7 252.1h4.2v4.2h-4.2z" fill="#00ff1b"/><path d="M492.7 252.1h4.2v4.2h-4.2z" fill="#1bff00"/><path d="M496.7 252.1h4.2v4.2h-4.2z" fill="#48ff00"/><path d="M500.7 252.1h4.2v4.2h-4.2z" fill="#61ff00"/><path d="M504.7 252.1h4.2v4.2h-4.2z" fill="#73ff00"/><path d="M508.7 252.1h4.2v4.2h-4.2z" fill="#83ff00"/><path d="M512.7 252.1h4.2v4.2h-4.2z" fill="#91ff00"/><path d="M516.7 252.1h4.2v4.2h-4.2z" fill="#9dff00"/><path d="M520.7 252.1h4.2v4.2h-4.2z" fill="#a9ff00"/><path d="M388.7 256.1h4.2v4.2h-4.2z" fill="#00ffc2"/><path d="M392.7 256.1h4.2v4.2h-4.2z" fill="#00ffc1"/><path d="M396.7 256.1h4.2v4.2h-4.2z" fill="#00ffbf"/><path d="M400.7 256.1h4.2v4.2h-4.2z" fill="#00ffbd"/><path d="M404.7 256.1h4.2v4.2h-4.2z" fill="#00ffbb"/><path d="M408.7 256.1h4.2v4.2h-4.2z" fill="#00ffb9"/><path d="M412.7 256.1h4.2v4.2h-4.2z" fill="#00ffb7"/><path d="M416.7 256.1h4.2v4.2h-4.2z" fill="#00ffb5"/><path d="M420.7 256.1h4.2v4.2h-4.2z" fill="#00ffb2"/><path d="M424.7 256.1h4.2v4.2h-4.2z" fill="#00ffb0"/><path d="M428.7 256.1h4.2v4.2h-4.2z" fill="#00ffad"/><path d="M432.7 256.1h4.2v4.2h-4.2z" fill="#00ffaa"/><path d="M436.7 256.1h4.2v4.2h-4.2z" fill="#00ffa7"/><path d="M440.7 256.1h4.2v4.2h-4.2z" fill="#00ffa3"/><path d="M444.7 256.1h4.2v4.2h-4.2z" fill="#00ff9f"/><path d="M448.7 256.1h4.2v4.2h-4.2z" fill="#00ff9b"/><path d="M452.7 256.1h4.2v4.2h-4.2z" fill="#00ff96"/><path d="M456.7 256.1h4.2v4.2h-4.2z" fill="#00ff91"/><path d="M460.7 256.1h4.2v4.2h-4.2z" fill="#00ff8b"/><path d="M464.7 256.1h4.2v4.2h-4.2z" fill="#00ff84"/><path d="M468.7 256.1h4.2v4.2h-4.2z" fill="#00ff7c"/><path d="M472.7 256.1h4.2v4.2h-4.2z" fill="#00ff73"/><path d="M476.7 256.1h4.2v4.2h-4.2z" fill="#00ff68"/><path d="M480.7 256.1h4.2v4.2h-4.2z" fill="#00ff5a"/><path d="M484.7 256.1h4.2v4.2h-4.2z" fill="#00ff47"/><path d="M488.7 256.1h4.2v4.2h-4.2z" fill="#00ff27"/><path d="M492.7 256.1h4.2v4.2h-4.2z" fill="#1eff00"/><path d="M496.7 256.1h4.2v4.2h-4.2z" fill="#4bff00"/><path d="M500.7 256.1h4.2v4.2h-4.2z" fill="#63ff00"/><path d="M504.7 256.1h4.2v4.2h-4.2z" fill="#76ff00"/><path d="M508.7 256.1h4.2v4.2h-4.2z" fill="#86ff00"/><path d="M512.7 256.1h4.2v4.2h-4.2z" fill="#94ff00"/><path d="M516.7 256.1h4.2v4.2h-4.2z" fill="#a1ff00"/><path d="M520.7 256.1h4.2v4.2h-4.2z" fill="#adff00"/><path d="M524.7 256.1h4.2v4.2h-4.2z" fill="#b8ff00"/><path d="M388.7 260.1h4.2v4.2h-4.2z" fill="#00ffc5"/><path d="M392.7 260.1h4.2v4.2h-4.2z" fill="#00ffc3"/><path d="M396.7 260.1h4.2v4.2h-4.2z" fill="#00ffc2"/><path d="M400.7 260.1h4.2v4.2h-4.2z" fill="#00ffc0"/><path d="M404.7 260.1h4.2v4.2h-4.2z" fill="#00ffbe"/><path d="M408.7 260.1h4.2v4.2h-4.2z" fill="#00ffbc"/><path d="M412.7 260.1h4.2v4.2h-4.2z" fill="#00ffba"/><path d="M416.7 260.1h4.2v4.2h-4.2z" fill="#00ffb8"/><path d="M420.7 260.1h4.2v4.2h-4.2z" fill="#00ffb5"/><path d="M424.7 260.1h4.2v4.2h-4.2z" fill="#00ffb3"/><path d="M428.7 260.1h4.2v4.2h-4.2z" fill="#00ffb0"/><path d="M432.7 260.1h4.2v4.2h-4.2z" fill="#00ffad"/><path d="M436.7 260.1h4.2v4.2h-4.2z" fill="#00ffaa"/><path d="M440.7 260.1h4.2v4.2h-4.2z" fill="#00ffa6"/><path d="M444.7 260.1h4.2v4.2h-4.2z" fill="#00ffa2"/><path d="M448.7 260.1h4.2v4.2h-4.2z" fill="#00ff9e"/><path d="M452.7 260.1h4.2v4.2h-4.2z" fill="#00ff99"/><path d="M456.7 260.1h4.2v4.2h-4.2z" fill="#00ff94"/><path d="M460.7 260.1h4.2v4.2h-4.2z" fill="#00ff8e"/><path d="M464.7 260.1h4.2v4.2h-4.2z" fill="#00ff88"/><path d="M468.7 260.1h4.2v4.2h-4.2z" fill="#00ff80"/><path d="M472.7 260.1h4.2v4.2h-4.2z" fill="#00ff77"/><path d="M476.7 260.1h4.2v4.2h-4.2z" fill="#00ff6c"/><path d="M480.7 260.1h4.2v4.2h-4.2z" fill="#00ff5f"/><path d="M484.7 260.1h4.2v4.2h-4.2z" fill="#00ff4d"/><path d="M488.7 260.1h4.2v4.2h-4.2z" fill="#00ff30"/><path d="M492.7 260.1h4.2v4.2h-4.2z" fill="#21ff00"/><path d="M496.7 260.1h4.2v4.2h-4.2z" fill="#4dff00"/><path d="M500.7 260.1h4.2v4.2h-4.2z" fill="#66ff00"/><path d="M504.7 260.1h4.2v4.2h-4.2z" fill="#7aff00"/><path d="M508.7 260.1h4.2v4.2h-4.2z" fill="#8aff00"/><path d="M512.7 260.1h4.2v4.2h-4.2z" fill="#98ff00"/><path d="M516.7 260.1h4.2v4.2h-4.2z" fill="#a5ff00"/><path d="M520.7 260.1h4.2v4.2h-4.2z" fill="#b1ff00"/><path d="M524.7 260.1h4.2v4.2h-4.2z" fill="#bcff00"/><path d="M528.7 260.1h4.2v4.2h-4.2z" fill="#c7ff00"/><path d="M532.7 260.1h4.2v4.2h-4.2z" fill="#d1ff00"/><path d="M388.7 264.1h4.2v4.2h-4.2z" fill="#00ffc7"/><path d="M392.7 264.1h4.2v4.2h-4.2z" fill="#00ffc6"/><path d="M396.7 264.1h4.2v4.2h-4.2z" fill="#00ffc4"/><path d="M400.7 264.1h4.2v4.2h-4.2z" fill="#00ffc2"/><path d="M404.7 264.1h4.2v4.2h-4.2z" fill="#00ffc1"/><path d="M408.7 264.1h4.2v4.2h-4.2z" fill="#00ffbf"/><path d="M412.7 264.1h4.2v4.2h-4.2z" fill="#00ffbd"/><path d="M416.7 264.1h4.2v4.2h-4.2z" fill="#00ffbb"/><path d="M420.7 264.1h4.2v4.2h-4.2z" fill="#00ffb8"/><path d="M424.7 264.1h4.2v4.2h-4.2z" fill="#00ffb6"/><path d="M428.7 264.1h4.2v4.2h-4.2z" fill="#00ffb3"/><path d="M432.7 264.1h4.2v4.2h-4.2z" fill="#00ffb0"/><path d="M436.7 264.1h4.2v4.2h-4.2z" fill="#00ffad"/><path d="M440.7 264.1h4.2v4.2h-4.2z" fill="#00ffaa"/><path d="M444.7 264.1h4.2v4.2h-4.2z" fill="#00ffa6"/><path d="M448.7 264.1h4.2v4.2h-4.2z" fill="#00ffa2"/><path d="M452.7 264.1h4.2v4.2h-4.2z" fill="#00ff9d"/><path d="M456.7 264.1h4.2v4.2h-4.2z" fill="#00ff98"/><path d="M460.7 264.1h4.2v4.2h-4.2z" fill="#00ff92"/><path d="M464.7 264.1h4.2v4.2h-4.2z" fill="#00ff8c"/><path d="M468.7 264.1h4.2v4.2h-4.2z" fill="#00ff84"/><path d="M472.7 264.1h4.2v4.2h-4.2z" fill="#00ff7b"/><path d="M476.7 264.1h4.2v4.2h-4.2z" fill="#00ff71"/><path d="M480.7 264.1h4.2v4.2h-4.2z" fill="#00ff64"/><path d="M484.7 264.1h4.2v4.2h-4.2z" fill="#00ff52"/><path d="M488.7 264.1h4.2v4.2h-4.2z" fill="#00ff38"/><path d="M492.7 264.1h4.2v4.2h-4.2z" fill="#24ff00"/><path d="M496.7 264.1h4.2v4.2h-4.2z" fill="#50ff00"/><path d="M500.7 264.1h4.2v4.2h-4.2z" fill="#69ff00"/><path d="M504.7 264.1h4.2v4.2h-4.2z" fill="#7dff00"/><path d="M508.7 264.1h4.2v4.2h-4.2z" fill="#8eff00"/><path d="M512.7 264.1h4.2v4.2h-4.2z" fill="#9cff00"/><path d="M516.7 264.1h4.2v4.2h-4.2z" fill="#aaff00"/><path d="M520.7 264.1h4.2v4.2h-4.2z" fill="#b6ff00"/><path d="M524.7 264.1h4.2v4.2h-4.2z" fill="#c1ff00"/><path d="M528.7 264.1h4.2v4.2h-4.2z" fill="#ccff00"/><path d="M532.7 264.1h4.2v4.2h-4.2z" fill="#d6ff00"/><path d="M536.7 264.1h4.2v4.2h-4.2z" fill="#e0ff00"/><path d="M388.7 268.1h4.2v4.2h-4.2z" fill="#00ffca"/><path d="M392.7 268.1h4.2v4.2h-4.2z" fill="#00ffc8"/><path d="M396.7 268.1h4.2v4.2h-4.2z" fill="#00ffc7"/><path d="M400.7 268.1h4.2v4.2h-4.2z" fill="#00ffc5"/><path d="M404.7 268.1h4.2v4.2h-4.2z" fill="#00ffc4"/><path d="M408.7 268.1h4.2v4.2h-4.2z" fill="#00ffc2"/><path d="M412.7 268.1h4.2v4.2h-4.2z" fill="#00ffc0"/><path d="M416.7 268.1h4.2v4.2h-4.2z" fill="#00ffbe"/><path d="M420.7 268.1h4.2v4.2h-4.2z" fill="#00ffbb"/><path d="M424.7 268.1h4.2v4.2h-4.2z" fill="#00ffb9"/><path d="M428.7 268.1h4.2v4.2h-4.2z" fill="#00ffb6"/><path d="M432.7 268.1h4.2v4.2h-4.2z" fill="#00ffb3"/><path d="M436.7 268.1h4.2v4.2h-4.2z" fill="#00ffb0"/><path d="M440.7 268.1h4.2v4.2h-4.2z" fill="#00ffad"/><path d="M444.7 268.1h4.2v4.2h-4.2z" fill="#00ffa9"/><path d="M448.7 268.1h4.2v4.2h-4.2z" fill="#00ffa5"/><path d="M452.7 268.1h4.2v4.2h-4.2z" fill="#00ffa1"/><path d="M456.7 268.1h4.2v4.2h-4.2z" fill="#00ff9c"/><path d="M460.7 268.1h4.2v4.2h-4.2z" fill="#00ff96"/><path d="M464.7 268.1h4.2v4.2h-4.2z" fill="#00ff90"/><path d="M468.7 268.1h4.2v4.2h-4.2z" fill="#00ff88"/><path d="M472.7 268.1h4.2v4.2h-4.2z" fill="#00ff80"/><path d="M476.7 268.1h4.2v4.2h-4.2z" fill="#00ff76"/><path d="M480.7 268.1h4.2v4.2h-4.2z" fill="#00ff69"/><path d="M484.7 268.1h4.2v4.2h-4.2z" fill="#00ff58"/><path d="M488.7 268.1h4.2v4.2h-4.2z" fill="#00ff40"/><path d="M492.7 268.1h4.2v4.2h-4.2z" fill="#12ff00"/><path d="M496.7 268.1h4.2v4.2h-4.2z" fill="#53ff00"/><path d="M500.7 268.1h4.2v4.2h-4.2z" fill="#6dff00"/><path d="M504.7 268.1h4.2v4.2h-4.2z" fill="#81ff00"/><path d="M508.7 268.1h4.2v4.2h-4.2z" fill="#92ff00"/><path d="M512.7 268.1h4.2v4.2h-4.2z" fill="#a1ff00"/><path d="M516.7 268.1h4.2v4.2h-4.2z" fill="#afff00"/><path d="M520.7 268.1h4.2v4.2h-4.2z" fill="#bbff00"/><path d="M524.7 268.1h4.2v4.2h-4.2z" fill="#c7ff00"/><path d="M528.7 268.1h4.2v4.2h-4.2z" fill="#d2ff00"/><path d="M532.7 268.1h4.2v4.2h-4.2z" fill="#dcff00"/><path d="M536.7 268.1h4.2v4.2h-4.2z" fill="#e6ff00"/><path d="M540.7 268.1h4.2v4.2h-4.2z" fill="#f0ff00"/><path d="M544.7 268.1h4.2v4.2h-4.2z" fill="#f9ff00"/><path d="M388.7 272.1h4.2v4.2h-4.2z" fill="#00ffcd"/><path d="M392.7 272.1h4.2v4.2h-4.2z" fill="#00ffcb"/><path d="M396.7 272.1h4.2v4.2h-4.2z" fill="#00ffca"/><path d="M400.7 272.1h4.2v4.2h-4.2z" fill="#00ffc8"/><path d="M404.7 272.1h4.2v4.2h-4.2z" fill="#00ffc6"/><path d="M408.7 272.1h4.2v4.2h-4.2z" fill="#00ffc5"/><path d="M412.7 272.1h4.2v4.2h-4.2z" fill="#00ffc3"/><path d="M416.7 272.1h4.2v4.2h-4.2z" fill="#00ffc1"/><path d="M420.7 272.1h4.2v4.2h-4.2z" fill="#00ffbe"/><path d="M424.7 272.1h4.2v4.2h-4.2z" fill="#00ffbc"/><path d="M428.7 272.1h4.2v4.2h-4.2z" fill="#00ffba"/><path d="M432.7 272.1h4.2v4.2h-4.2z" fill="#00ffb7"/><path d="M436.7 272.1h4.2v4.2h-4.2z" fill="#00ffb4"/><path d="M440.7 272.1h4.2v4.2h-4.2z" fill="#00ffb1"/><path d="M444.7 272.1h4.2v4.2h-4.2z" fill="#00ffad"/><path d="M448.7 272.1h4.2v4.2h-4.2z" fill="#00ffa9"/><path d="M452.7 272.1h4.2v4.2h-4.2z" fill="#00ffa5"/><path d="M456.7 272.1h4.2v4.2h-4.2z" fill="#00ffa0"/><path d="M460.7 272.1h4.2v4.2h-4.2z" fill="#00ff9a"/><path d="M464.7 272.1h4.2v4.2h-4.2z" fill="#00ff94"/><path d="M468.7 272.1h4.2v4.2h-4.2z" fill="#00ff8d"/><path d="M472.7 272.1h4.2v4.2h-4.2z" fill="#00ff85"/><path d="M476.7 272.1h4.2v4.2h-4.2z" fill="#00ff7b"/><path d="M480.7 272.1h4.2v4.2h-4.2z" fill="#00ff6e"/><path d="M484.7 272.1h4.2v4.2h-4.2z" fill="#00ff5e"/><path d="M488.7 272.1h4.2v4.2h-4.2z" fill="#00ff47"/><path d="M492.7 272.1h4.2v4.2h-4.2z" fill="#22ff1b"/><path d="M496.7 272.1h4.2v4.2h-4.2z" fill="#44ff0d"/><path d="M500.7 272.1h4.2v4.2h-4.2z" fill="#63ff00"/><path d="M504.7 272.1h4.2v4.2h-4.2z" fill="#85ff00"/><path d="M508.7 272.1h4.2v4.2h-4.2z" fill="#97ff00"/><path d="M512.7 272.1h4.2v4.2h-4.2z" fill="#a6ff00"/><path d="M516.7 272.1h4.2v4.2h-4.2z" fill="#b4ff00"/><path d="M520.7 272.1h4.2v4.2h-4.2z" fill="#c1ff00"/><path d="M524.7 272.1h4.2v4.2h-4.2z" fill="#cdff00"/><path d="M528.7 272.1h4.2v4.2h-4.2z" fill="#d8ff00"/><path d="M532.7 272.1h4.2v4.2h-4.2z" fill="#e3ff00"/><path d="M536.7 272.1h4.2v4.2h-4.2z" fill="#edff00"/><path d="M540.7 272.1h4.2v4.2h-4.2z" fill="#f7ff00"/><path d="M544.7 272.1h4.2v4.2h-4.2z" fill="#fffd00"/><path d="M548.7 272.1h4.2v4.2h-4.2z" fill="#fff500"/><path d="M388.7 276.1h4.2v4.2h-4.2z" fill="#00ffcf"/><path d="M392.7 276.1h4.2v4.2h-4.2z" fill="#00ffce"/><path d="M396.7 276.1h4.2v4.2h-4.2z" fill="#00ffcd"/><path d="M400.7 276.1h4.2v4.2h-4.2z" fill="#00ffcb"/><path d="M404.7 276.1h4.2v4.2h-4.2z" fill="#00ffc9"/><path d="M408.7 276.1h4.2v4.2h-4.2z" fill="#00ffc8"/><path d="M412.7 276.1h4.2v4.2h-4.2z" fill="#00ffc6"/><path d="M416.7 276.1h4.2v4.2h-4.2z" fill="#00ffc4"/><path d="M420.7 276.1h4.2v4.2h-4.2z" fill="#00ffc2"/><path d="M424.7 276.1h4.2v4.2h-4.2z" fill="#00ffc0"/><path d="M428.7 276.1h4.2v4.2h-4.2z" fill="#00ffbd"/><path d="M432.7 276.1h4.2v4.2h-4.2z" fill="#00ffba"/><path d="M436.7 276.1h4.2v4.2h-4.2z" fill="#00ffb8"/><path d="M440.7 276.1h4.2v4.2h-4.2z" fill="#00ffb4"/><path d="M444.7 276.1h4.2v4.2h-4.2z" fill="#00ffb1"/><path d="M448.7 276.1h4.2v4.2h-4.2z" fill="#00ffad"/><path d="M452.7 276.1h4.2v4.2h-4.2z" fill="#00ffa9"/><path d="M456.7 276.1h4.2v4.2h-4.2z" fill="#00ffa4"/><path d="M460.7 276.1h4.2v4.2h-4.2z" fill="#00ff9f"/><path d="M464.7 276.1h4.2v4.2h-4.2z" fill="#00ff99"/><path d="M468.7 276.1h4.2v4.2h-4.2z" fill="#00ff92"/><path d="M472.7 276.1h4.2v4.2h-4.2z" fill="#00ff89"/><path d="M476.7 276.1h4.2v4.2h-4.2z" fill="#00ff80"/><path d="M480.7 276.1h4.2v4.2h-4.2z" fill="#00ff74"/><path d="M484.7 276.1h4.2v4.2h-4.2z" fill="#00ff64"/><path d="M488.7 276.1h4.2v4.2h-4.2z" fill="#00ff38"/><path d="M492.7 276.1h4.2v4.2h-4.2z" fill="#32ff2f"/><path d="M496.7 276.1h4.2v4.2h-4.2z" fill="#50ff26"/><path d="M500.7 276.1h4.2v4.2h-4.2z" fill="#67ff1a"/><path d="M504.7 276.1h4.2v4.2h-4.2z" fill="#7bff0a"/><path d="M508.7 276.1h4.2v4.2h-4.2z" fill="#96ff00"/><path d="M512.7 276.1h4.2v4.2h-4.2z" fill="#abff00"/><path d="M516.7 276.1h4.2v4.2h-4.2z" fill="#baff00"/><path d="M520.7 276.1h4.2v4.2h-4.2z" fill="#c7ff00"/><path d="M524.7 276.1h4.2v4.2h-4.2z" fill="#d4ff00"/><path d="M528.7 276.1h4.2v4.2h-4.2z" fill="#dfff00"/><path d="M532.7 276.1h4.2v4.2h-4.2z" fill="#eaff00"/><path d="M536.7 276.1h4.2v4.2h-4.2z" fill="#f5ff00"/><path d="M540.7 276.1h4.2v4.2h-4.2z" fill="#ffff00"/><path d="M544.7 276.1h4.2v4.2h-4.2z" fill="#fff500"/><path d="M548.7 276.1h4.2v4.2h-4.2z" fill="#ffed00"/><path d="M552.7 276.1h4.2v4.2h-4.2z" fill="#ffe500"/><path d="M388.7 280.1h4.2v4.2h-4.2z" fill="#00ffd2"/><path d="M392.7 280.1h4.2v4.2h-4.2z" fill="#00ffd1"/><path d="M396.7 280.1h4.2v4.2h-4.2z" fill="#00ffd0"/><path d="M400.7 280.1h4.2v4.2h-4.2z" fill="#00ffce"/><path d="M404.7 280.1h4.2v4.2h-4.2z" fill="#00ffcd"/><path d="M408.7 280.1h4.2v4.2h-4.2z" fill="#00ffcb"/><path d="M412.7 280.1h4.2v4.2h-4.2z" fill="#00ffc9"/><path d="M416.7 280.1h4.2v4.2h-4.2z" fill="#00ffc7"/><path d="M420.7 280.1h4.2v4.2h-4.2z" fill="#00ffc5"/><path d="M424.7 280.1h4.2v4.2h-4.2z" fill="#00ffc3"/><path d="M428.7 280.1h4.2v4.2h-4.2z" fill="#00ffc1"/><path d="M432.7 280.1h4.2v4.2h-4.2z" fill="#00ffbe"/><path d="M436.7 280.1h4.2v4.2h-4.2z" fill="#00ffbb"/><path d="M440.7 280.1h4.2v4.2h-4.2z" fill="#00ffb8"/><path d="M444.7 280.1h4.2v4.2h-4.2z" fill="#00ffb5"/><path d="M448.7 280.1h4.2v4.2h-4.2z" fill="#00ffb1"/><path d="M452.7 280.1h4.2v4.2h-4.2z" fill="#00ffad"/><path d="M456.7 280.1h4.2v4.2h-4.2z" fill="#00ffa9"/><path d="M460.7 280.1h4.2v4.2h-4.2z" fill="#00ffa3"/><path d="M464.7 280.1h4.2v4.2h-4.2z" fill="#00ff9d"/><path d="M468.7 280.1h4.2v4.2h-4.2z" fill="#00ff97"/><path d="M472.7 280.1h4.2v4.2h-4.2z" fill="#00ff8f"/><path d="M476.7 280.1h4.2v4.2h-4.2z" fill="#00ff85"/><path d="M480.7 280.1h4.2v4.2h-4.2z" fill="#00ff79"/><path d="M484.7 280.1h4.2v4.2h-4.2z" fill="#00ff6a"/><path d="M488.7 280.1h4.2v4.2h-4.2z" fill="#1aff47"/><path d="M492.7 280.1h4.2v4.2h-4.2z" fill="#40ff40"/><path d="M496.7 280.1h4.2v4.2h-4.2z" fill="#5bff39"/><path d="M500.7 280.1h4.2v4.2h-4.2z" fill="#71ff30"/><path d="M504.7 280.1h4.2v4.2h-4.2z" fill="#85ff25"/><path d="M508.7 280.1h4.2v4.2h-4.2z" fill="#97ff18"/><path d="M512.7 280.1h4.2v4.2h-4.2z" fill="#a7ff06"/><path d="M516.7 280.1h4.2v4.2h-4.2z" fill="#c0ff00"/><path d="M520.7 280.1h4.2v4.2h-4.2z" fill="#ceff00"/><path d="M524.7 280.1h4.2v4.2h-4.2z" fill="#dbff00"/><path d="M528.7 280.1h4.2v4.2h-4.2z" fill="#e7ff00"/><path d="M532.7 280.1h4.2v4.2h-4.2z" fill="#f2ff00"/><path d="M536.7 280.1h4.2v4.2h-4.2z" fill="#fdff00"/><path d="M540.7 280.1h4.2v4.2h-4.2z" fill="#fff600"/><path d="M544.7 280.1h4.2v4.2h-4.2z" fill="#ffed00"/><path d="M548.7 280.1h4.2v4.2h-4.2z" fill="#ffe500"/><path d="M552.7 280.1h4.2v4.2h-4.2z" fill="#ffde00"/><path d="M556.7 280.1h4.2v4.2h-4.2z" fill="#ffd700"/><path d="M560.7 280.1h4.2v4.2h-4.2z" fill="#ffd100"/><path d="M392.7 284.1h4.2v4.2h-4.2z" fill="#00ffd4"/><path d="M396.7 284.1h4.2v4.2h-4.2z" fill="#00ffd3"/><path d="M400.7 284.1h4.2v4.2h-4.2z" fill="#00ffd1"/><path d="M404.7 284.1h4.2v4.2h-4.2z" fill="#00ffd0"/><path d="M408.7 284.1h4.2v4.2h-4.2z" fill="#00ffce"/><path d="M412.7 284.1h4.2v4.2h-4.2z" fill="#00ffcd"/><path d="M416.7 284.1h4.2v4.2h-4.2z" fill="#00ffcb"/><path d="M420.7 284.1h4.2v4.2h-4.2z" fill="#00ffc9"/><path d="M424.7 284.1h4.2v4.2h-4.2z" fill="#00ffc7"/><path d="M428.7 284.1h4.2v4.2h-4.2z" fill="#00ffc4"/><path d="M432.7 284.1h4.2v4.2h-4.2z" fill="#00ffc2"/><path d="M436.7 284.1h4.2v4.2h-4.2z" fill="#00ffbf"/><path d="M440.7 284.1h4.2v4.2h-4.2z" fill="#00ffbc"/><path d="M444.7 284.1h4.2v4.2h-4.2z" fill="#00ffb9"/><path d="M448.7 284.1h4.2v4.2h-4.2z" fill="#00ffb6"/><path d="M452.7 284.1h4.2v4.2h-4.2z" fill="#00ffb2"/><path d="M456.7 284.1h4.2v4.2h-4.2z" fill="#00ffad"/><path d="M460.7 284.1h4.2v4.2h-4.2z" fill="#00ffa8"/><path d="M464.7 284.1h4.2v4.2h-4.2z" fill="#00ffa2"/><path d="M468.7 284.1h4.2v4.2h-4.2z" fill="#00ff9c"/><path d="M472.7 284.1h4.2v4.2h-4.2z" fill="#00ff94"/><path d="M476.7 284.1h4.2v4.2h-4.2z" fill="#00ff8b"/><path d="M480.7 284.1h4.2v4.2h-4.2z" fill="#00ff7f"/><path d="M484.7 284.1h4.2v4.2h-4.2z" fill="#00ff71"/><path d="M488.7 284.1h4.2v4.2h-4.2z" fill="#2dff55"/><path d="M492.7 284.1h4.2v4.2h-4.2z" fill="#4eff50"/><path d="M496.7 284.1h4.2v4.2h-4.2z" fill="#67ff49"/><path d="M500.7 284.1h4.2v4.2h-4.2z" fill="#7cff42"/><path d="M504.7 284.1h4.2v4.2h-4.2z" fill="#8fff3a"/><path d="M508.7 284.1h4.2v4.2h-4.2z" fill="#a1ff30"/><path d="M512.7 284.1h4.2v4.2h-4.2z" fill="#b1ff25"/><path d="M516.7 284.1h4.2v4.2h-4.2z" fill="#c1ff17"/><path d="M520.7 284.1h4.2v4.2h-4.2z" fill="#d0ff00"/><path d="M524.7 284.1h4.2v4.2h-4.2z" fill="#e3ff00"/><path d="M528.7 284.1h4.2v4.2h-4.2z" fill="#efff00"/><path d="M532.7 284.1h4.2v4.2h-4.2z" fill="#fbff00"/><path d="M536.7 284.1h4.2v4.2h-4.2z" fill="#fff700"/><path d="M540.7 284.1h4.2v4.2h-4.2z" fill="#ffee00"/><path d="M544.7 284.1h4.2v4.2h-4.2z" fill="#ffe500"/><path d="M548.7 284.1h4.2v4.2h-4.2z" fill="#ffdd00"/><path d="M552.7 284.1h4.2v4.2h-4.2z" fill="#ffd600"/><path d="M556.7 284.1h4.2v4.2h-4.2z" fill="#ffcf00"/><path d="M560.7 284.1h4.2v4.2h-4.2z" fill="#ffc900"/><path d="M564.7 284.1h4.2v4.2h-4.2z" fill="#ffc300"/><path d="M392.7 288.1h4.2v4.2h-4.2z" fill="#00ffd7"/><path d="M396.7 288.1h4.2v4.2h-4.2z" fill="#00ffd6"/><path d="M400.7 288.1h4.2v4.2h-4.2z" fill="#00ffd4"/><path d="M404.7 288.1h4.2v4.2h-4.2z" fill="#00ffd3"/><path d="M408.7 288.1h4.2v4.2h-4.2z" fill="#00ffd2"/><path d="M412.7 288.1h4.2v4.2h-4.2z" fill="#00ffd0"/><path d="M416.7 288.1h4.2v4.2h-4.2z" fill="#00ffce"/><path d="M420.7 288.1h4.2v4.2h-4.2z" fill="#00ffcc"/><path d="M424.7 288.1h4.2v4.2h-4.2z" fill="#00ffca"/><path d="M428.7 288.1h4.2v4.2h-4.2z" fill="#00ffc8"/><path d="M432.7 288.1h4.2v4.2h-4.2z" fill="#00ffc6"/><path d="M436.7 288.1h4.2v4.2h-4.2z" fill="#00ffc3"/><path d="M440.7 288.1h4.2v4.2h-4.2z" fill="#00ffc1"/><path d="M444.7 288.1h4.2v4.2h-4.2z" fill="#00ffbe"/><path d="M448.7 288.1h4.2v4.2h-4.2z" fill="#00ffba"/><path d="M452.7 288.1h4.2v4.2h-4.2z" fill="#00ffb6"/><path d="M456.7 288.1h4.2v4.2h-4.2z" fill="#00ffb2"/><path d="M460.7 288.1h4.2v4.2h-4.2z" fill="#00ffad"/><path d="M464.7 288.1h4.2v4.2h-4.2z" fill="#00ffa8"/><path d="M468.7 288.1h4.2v4.2h-4.2z" fill="#00ffa1"/><path d="M472.7 288.1h4.2v4.2h-4.2z" fill="#00ff9a"/><path d="M476.7 288.1h4.2v4.2h-4.2z" fill="#00ff91"/><path d="M480.7 288.1h4.2v4.2h-4.2z" fill="#00ff86"/><path d="M484.7 288.1h4.2v4.2h-4.2z" fill="#0eff68"/><path d="M488.7 288.1h4.2v4.2h-4.2z" fill="#3cff63"/><path d="M492.7 288.1h4.2v4.2h-4.2z" fill="#5aff5e"/><path d="M496.7 288.1h4.2v4.2h-4.2z" fill="#72ff58"/><path d="M500.7 288.1h4.2v4.2h-4.2z" fill="#87ff52"/><path d="M504.7 288.1h4.2v4.2h-4.2z" fill="#9aff4c"/><path d="M508.7 288.1h4.2v4.2h-4.2z" fill="#abff44"/><path d="M512.7 288.1h4.2v4.2h-4.2z" fill="#bcff3b"/><path d="M516.7 288.1h4.2v4.2h-4.2z" fill="#cbff31"/><path d="M520.7 288.1h4.2v4.2h-4.2z" fill="#dbff25"/><path d="M524.7 288.1h4.2v4.2h-4.2z" fill="#eaff14"/><path d="M528.7 288.1h4.2v4.2h-4.2z" fill="#f8ff00"/><path d="M532.7 288.1h4.2v4.2h-4.2z" fill="#fff900"/><path d="M536.7 288.1h4.2v4.2h-4.2z" fill="#ffee00"/><path d="M540.7 288.1h4.2v4.2h-4.2z" fill="#ffe400"/><path d="M544.7 288.1h4.2v4.2h-4.2z" fill="#ffdc00"/><path d="M548.7 288.1h4.2v4.2h-4.2z" fill="#ffd400"/><path d="M552.7 288.1h4.2v4.2h-4.2z" fill="#ffcd00"/><path d="M556.7 288.1h4.2v4.2h-4.2z" fill="#ffc700"/><path d="M560.7 288.1h4.2v4.2h-4.2z" fill="#ffc100"/><path d="M564.7 288.1h4.2v4.2h-4.2z" fill="#ffbc00"/><path d="M568.7 288.1h4.2v4.2h-4.2z" fill="#ffb700"/><path d="M572.7 288.1h4.2v4.2h-4.2z" fill="#ffb200"/><path d="M392.7 292.1h4.2v4.2h-4.2z" fill="#00ffda"/><path d="M396.7 292.1h4.2v4.2h-4.2z" fill="#00ffd9"/><path d="M400.7 292.1h4.2v4.2h-4.2z" fill="#00ffd8"/><path d="M404.7 292.1h4.2v4.2h-4.2z" fill="#00ffd7"/><path d="M408.7 292.1h4.2v4.2h-4.2z" fill="#00ffd5"/><path d="M412.7 292.1h4.2v4.2h-4.2z" fill="#00ffd4"/><path d="M416.7 292.1h4.2v4.2h-4.2z" fill="#00ffd2"/><path d="M420.7 292.1h4.2v4.2h-4.2z" fill="#00ffd0"/><path d="M424.7 292.1h4.2v4.2h-4.2z" fill="#00ffce"/><path d="M428.7 292.1h4.2v4.2h-4.2z" fill="#00ffcc"/><path d="M432.7 292.1h4.2v4.2h-4.2z" fill="#00ffca"/><path d="M436.7 292.1h4.2v4.2h-4.2z" fill="#00ffc8"/><path d="M440.7 292.1h4.2v4.2h-4.2z" fill="#00ffc5"/><path d="M444.7 292.1h4.2v4.2h-4.2z" fill="#00ffc2"/><path d="M448.7 292.1h4.2v4.2h-4.2z" fill="#00ffbf"/><path d="M452.7 292.1h4.2v4.2h-4.2z" fill="#00ffbb"/><path d="M456.7 292.1h4.2v4.2h-4.2z" fill="#00ffb7"/><path d="M460.7 292.1h4.2v4.2h-4.2z" fill="#00ffb3"/><path d="M464.7 292.1h4.2v4.2h-4.2z" fill="#00ffad"/><path d="M468.7 292.1h4.2v4.2h-4.2z" fill="#00ffa7"/><path d="M472.7 292.1h4.2v4.2h-4.2z" fill="#00ffa0"/><path d="M476.7 292.1h4.2v4.2h-4.2z" fill="#00ff97"/><path d="M480.7 292.1h4.2v4.2h-4.2z" fill="#00ff8d"/><path d="M484.7 292.1h4.2v4.2h-4.2z" fill="#25ff75"/><path d="M488.7 292.1h4.2v4.2h-4.2z" fill="#4bff70"/><path d="M492.7 292.1h4.2v4.2h-4.2z" fill="#66ff6c"/><path d="M496.7 292.1h4.2v4.2h-4.2z" fill="#7dff67"/><path d="M500.7 292.1h4.2v4.2h-4.2z" fill="#92ff62"/><path d="M504.7 292.1h4.2v4.2h-4.2z" fill="#a4ff5c"/><path d="M508.7 292.1h4.2v4.2h-4.2z" fill="#b6ff55"/><path d="M512.7 292.1h4.2v4.2h-4.2z" fill="#c7ff4e"/><path d="M516.7 292.1h4.2v4.2h-4.2z" fill="#d7ff46"/><path d="M520.7 292.1h4.2v4.2h-4.2z" fill="#e6ff3d"/><path d="M524.7 292.1h4.2v4.2h-4.2z" fill="#f5ff32"/><path d="M528.7 292.1h4.2v4.2h-4.2z" fill="#fffa23"/><path d="M532.7 292.1h4.2v4.2h-4.2z" fill="#ffec0e"/><path d="M536.7 292.1h4.2v4.2h-4.2z" fill="#ffe300"/><path d="M540.7 292.1h4.2v4.2h-4.2z" fill="#ffdb00"/><path d="M544.7 292.1h4.2v4.2h-4.2z" fill="#ffd300"/><path d="M548.7 292.1h4.2v4.2h-4.2z" fill="#ffcb00"/><path d="M552.7 292.1h4.2v4.2h-4.2z" fill="#ffc500"/><path d="M556.7 292.1h4.2v4.2h-4.2z" fill="#ffbe00"/><path d="M560.7 292.1h4.2v4.2h-4.2z" fill="#ffb900"/><path d="M564.7 292.1h4.2v4.2h-4.2z" fill="#ffb400"/><path d="M568.7 292.1h4.2v4.2h-4.2z" fill="#ffaf00"/><path d="M572.7 292.1h4.2v4.2h-4.2z" fill="#ffaa00"/><path d="M576.7 292.1h4.2v4.2h-4.2z" fill="#ffa600"/><path d="M392.7 296.1h4.2v4.2h-4.2z" fill="#00ffdd"/><path d="M396.7 296.1h4.2v4.2h-4.2z" fill="#00ffdc"/><path d="M400.7 296.1h4.2v4.2h-4.2z" fill="#00ffdb"/><path d="M404.7 296.1h4.2v4.2h-4.2z" fill="#00ffda"/><path d="M408.7 296.1h4.2v4.2h-4.2z" fill="#00ffd9"/><path d="M412.7 296.1h4.2v4.2h-4.2z" fill="#00ffd7"/><path d="M416.7 296.1h4.2v4.2h-4.2z" fill="#00ffd6"/><path d="M420.7 296.1h4.2v4.2h-4.2z" fill="#00ffd4"/><path d="M424.7 296.1h4.2v4.2h-4.2z" fill="#00ffd3"/><path d="M428.7 296.1h4.2v4.2h-4.2z" fill="#00ffd1"/><path d="M432.7 296.1h4.2v4.2h-4.2z" fill="#00ffcf"/><path d="M436.7 296.1h4.2v4.2h-4.2z" fill="#00ffcc"/><path d="M440.7 296.1h4.2v4.2h-4.2z" fill="#00ffca"/><path d="M444.7 296.1h4.2v4.2h-4.2z" fill="#00ffc7"/><path d="M448.7 296.1h4.2v4.2h-4.2z" fill="#00ffc4"/><path d="M452.7 296.1h4.2v4.2h-4.2z" fill="#00ffc1"/><path d="M456.7 296.1h4.2v4.2h-4.2z" fill="#00ffbd"/><path d="M460.7 296.1h4.2v4.2h-4.2z" fill="#00ffb8"/><path d="M464.7 296.1h4.2v4.2h-4.2z" fill="#00ffb3"/><path d="M468.7 296.1h4.2v4.2h-4.2z" fill="#00ffae"/><path d="M472.7 296.1h4.2v4.2h-4.2z" fill="#00ffa7"/><path d="M476.7 296.1h4.2v4.2h-4.2z" fill="#00ff9e"/><path d="M480.7 296.1h4.2v4.2h-4.2z" fill="#00ff88"/><path d="M484.7 296.1h4.2v4.2h-4.2z" fill="#37ff81"/><path d="M488.7 296.1h4.2v4.2h-4.2z" fill="#59ff7e"/><path d="M492.7 296.1h4.2v4.2h-4.2z" fill="#73ff7a"/><path d="M496.7 296.1h4.2v4.2h-4.2z" fill="#89ff75"/><path d="M500.7 296.1h4.2v4.2h-4.2z" fill="#9dff71"/><path d="M504.7 296.1h4.2v4.2h-4.2z" fill="#b0ff6c"/><path d="M508.7 296.1h4.2v4.2h-4.2z" fill="#c1ff66"/><path d="M512.7 296.1h4.2v4.2h-4.2z" fill="#d2ff60"/><path d="M516.7 296.1h4.2v4.2h-4.2z" fill="#e3ff59"/><path d="M520.7 296.1h4.2v4.2h-4.2z" fill="#f2ff52"/><path d="M524.7 296.1h4.2v4.2h-4.2z" fill="#fffc48"/><path d="M528.7 296.1h4.2v4.2h-4.2z" fill="#ffee39"/><path d="M532.7 296.1h4.2v4.2h-4.2z" fill="#ffe12a"/><path d="M536.7 296.1h4.2v4.2h-4.2z" fill="#ffd519"/><path d="M540.7 296.1h4.2v4.2h-4.2z" fill="#ffca04"/><path d="M544.7 296.1h4.2v4.2h-4.2z" fill="#ffc900"/><path d="M548.7 296.1h4.2v4.2h-4.2z" fill="#ffc200"/><path d="M552.7 296.1h4.2v4.2h-4.2z" fill="#ffbb00"/><path d="M556.7 296.1h4.2v4.2h-4.2z" fill="#ffb500"/><path d="M560.7 296.1h4.2v4.2h-4.2z" fill="#ffb000"/><path d="M564.7 296.1h4.2v4.2h-4.2z" fill="#ffab00"/><path d="M568.7 296.1h4.2v4.2h-4.2z" fill="#ffa600"/><path d="M572.7 296.1h4.2v4.2h-4.2z" fill="#ffa200"/><path d="M576.7 296.1h4.2v4.2h-4.2z" fill="#ff9e00"/><path d="M580.7 296.1h4.2v4.2h-4.2z" fill="#ff9a00"/><path d="M392.7 300.1h4.2v4.2h-4.2z" fill="#00ffe1"/><path d="M396.7 300.1h4.2v4.2h-4.2z" fill="#00ffe0"/><path d="M400.7 300.1h4.2v4.2h-4.2z" fill="#00ffdf"/><path d="M404.7 300.1h4.2v4.2h-4.2z" fill="#00ffde"/><path d="M408.7 300.1h4.2v4.2h-4.2z" fill="#00ffdd"/><path d="M412.7 300.1h4.2v4.2h-4.2z" fill="#00ffdb"/><path d="M416.7 300.1h4.2v4.2h-4.2z" fill="#00ffda"/><path d="M420.7 300.1h4.2v4.2h-4.2z" fill="#00ffd9"/><path d="M424.7 300.1h4.2v4.2h-4.2z" fill="#00ffd7"/><path d="M428.7 300.1h4.2v4.2h-4.2z" fill="#00ffd5"/><path d="M432.7 300.1h4.2v4.2h-4.2z" fill="#00ffd3"/><path d="M436.7 300.1h4.2v4.2h-4.2z" fill="#00ffd1"/><path d="M440.7 300.1h4.2v4.2h-4.2z" fill="#00ffcf"/><path d="M444.7 300.1h4.2v4.2h-4.2z" fill="#00ffcc"/><path d="M448.7 300.1h4.2v4.2h-4.2z" fill="#00ffc9"/><path d="M452.7 300.1h4.2v4.2h-4.2z" fill="#00ffc6"/><path d="M456.7 300.1h4.2v4.2h-4.2z" fill="#00ffc3"/><path d="M460.7 300.1h4.2v4.2h-4.2z" fill="#00ffbf"/><path d="M464.7 300.1h4.2v4.2h-4.2z" fill="#00ffba"/><path d="M468.7 300.1h4.2v4.2h-4.2z" fill="#00ffb4"/><path d="M472.7 300.1h4.2v4.2h-4.2z" fill="#00ffae"/><path d="M476.7 300.1h4.2v4.2h-4.2z" fill="#00ffa6"/><path d="M480.7 300.1h4.2v4.2h-4.2z" fill="#1bff91"/><path d="M484.7 300.1h4.2v4.2h-4.2z" fill="#48ff8e"/><path d="M488.7 300.1h4.2v4.2h-4.2z" fill="#66ff8b"/><path d="M492.7 300.1h4.2v4.2h-4.2z" fill="#7fff87"/><path d="M496.7 300.1h4.2v4.2h-4.2z" fill="#95ff84"/><path d="M500.7 300.1h4.2v4.2h-4.2z" fill="#a9ff7f"/><path d="M504.7 300.1h4.2v4.2h-4.2z" fill="#bcff7b"/><path d="M508.7 300.1h4.2v4.2h-4.2z" fill="#cdff76"/><path d="M512.7 300.1h4.2v4.2h-4.2z" fill="#dfff71"/><path d="M516.7 300.1h4.2v4.2h-4.2z" fill="#efff6b"/><path d="M520.7 300.1h4.2v4.2h-4.2z" fill="#fffe64"/><path d="M524.7 300.1h4.2v4.2h-4.2z" fill="#ffef57"/><path d="M528.7 300.1h4.2v4.2h-4.2z" fill="#ffe249"/><path d="M532.7 300.1h4.2v4.2h-4.2z" fill="#ffd53c"/><path d="M536.7 300.1h4.2v4.2h-4.2z" fill="#ffca2f"/><path d="M540.7 300.1h4.2v4.2h-4.2z" fill="#ffc021"/><path d="M544.7 300.1h4.2v4.2h-4.2z" fill="#ffb611"/><path d="M548.7 300.1h4.2v4.2h-4.2z" fill="#ffaf00"/><path d="M552.7 300.1h4.2v4.2h-4.2z" fill="#ffb200"/><path d="M556.7 300.1h4.2v4.2h-4.2z" fill="#ffac00"/><path d="M560.7 300.1h4.2v4.2h-4.2z" fill="#ffa700"/><path d="M564.7 300.1h4.2v4.2h-4.2z" fill="#ffa200"/><path d="M568.7 300.1h4.2v4.2h-4.2z" fill="#ff9d00"/><path d="M572.7 300.1h4.2v4.2h-4.2z" fill="#ff9900"/><path d="M576.7 300.1h4.2v4.2h-4.2z" fill="#ff9500"/><path d="M580.7 300.1h4.2v4.2h-4.2z" fill="#ff9200"/><path d="M584.7 300.1h4.2v4.2h-4.2z" fill="#ff8e00"/><path d="M588.7 300.1h4.2v4.2h-4.2z" fill="#ff8b00"/><path d="M392.7 304.1h4.2v4.2h-4.2z" fill="#00ffe4"/><path d="M396.7 304.1h4.2v4.2h-4.2z" fill="#00ffe4"/><path d="M400.7 304.1h4.2v4.2h-4.2z" fill="#00ffe3"/><path d="M404.7 304.1h4.2v4.2h-4.2z" fill="#00ffe2"/><path d="M408.7 304.1h4.2v4.2h-4.2z" fill="#00ffe1"/><path d="M412.7 304.1h4.2v4.2h-4.2z" fill="#00ffdf"/><path d="M416.7 304.1h4.2v4.2h-4.2z" fill="#00ffde"/><path d="M420.7 304.1h4.2v4.2h-4.2z" fill="#00ffdd"/><path d="M424.7 304.1h4.2v4.2h-4.2z" fill="#00ffdb"/><path d="M428.7 304.1h4.2v4.2h-4.2z" fill="#00ffda"/><path d="M432.7 304.1h4.2v4.2h-4.2z" fill="#00ffd8"/><path d="M436.7 304.1h4.2v4.2h-4.2z" fill="#00ffd6"/><path d="M440.7 304.1h4.2v4.2h-4.2z" fill="#00ffd4"/><path d="M444.7 304.1h4.2v4.2h-4.2z" fill="#00ffd2"/><path d="M448.7 304.1h4.2v4.2h-4.2z" fill="#00ffcf"/><path d="M452.7 304.1h4.2v4.2h-4.2z" fill="#00ffcc"/><path d="M456.7 304.1h4.2v4.2h-4.2z" fill="#00ffc9"/><path d="M460.7 304.1h4.2v4.2h-4.2z" fill="#00ffc5"/><path d="M464.7 304.1h4.2v4.2h-4.2z" fill="#00ffc1"/><path d="M468.7 304.1h4.2v4.2h-4.2z" fill="#00ffbc"/><path d="M472.7 304.1h4.2v4.2h-4.2z" fill="#00ffb5"/><path d="M476.7 304.1h4.2v4.2h-4.2z" fill="#00ffae"/><path d="M480.7 304.1h4.2v4.2h-4.2z" fill="#31ff9e"/><path d="M484.7 304.1h4.2v4.2h-4.2z" fill="#57ff9b"/><path d="M488.7 304.1h4.2v4.2h-4.2z" fill="#73ff98"/><path d="M492.7 304.1h4.2v4.2h-4.2z" fill="#8bff95"/><path d="M496.7 304.1h4.2v4.2h-4.2z" fill="#a1ff92"/><path d="M500.7 304.1h4.2v4.2h-4.2z" fill="#b5ff8e"/><path d="M504.7 304.1h4.2v4.2h-4.2z" fill="#c8ff8a"/><path d="M508.7 304.1h4.2v4.2h-4.2z" fill="#daff86"/><path d="M512.7 304.1h4.2v4.2h-4.2z" fill="#ecff82"/><path d="M516.7 304.1h4.2v4.2h-4.2z" fill="#fdff7d"/><path d="M520.7 304.1h4.2v4.2h-4.2z" fill="#fff170"/><path d="M524.7 304.1h4.2v4.2h-4.2z" fill="#ffe363"/><path d="M528.7 304.1h4.2v4.2h-4.2z" fill="#ffd656"/><path d="M532.7 304.1h4.2v4.2h-4.2z" fill="#ffca4a"/><path d="M536.7 304.1h4.2v4.2h-4.2z" fill="#ffbf3e"/><path d="M540.7 304.1h4.2v4.2h-4.2z" fill="#ffb633"/><path d="M544.7 304.1h4.2v4.2h-4.2z" fill="#ffac26"/><path d="M548.7 304.1h4.2v4.2h-4.2z" fill="#ffa419"/><path d="M552.7 304.1h4.2v4.2h-4.2z" fill="#ff9c09"/><path d="M556.7 304.1h4.2v4.2h-4.2z" fill="#ff9a00"/><path d="M560.7 304.1h4.2v4.2h-4.2z" fill="#ff9d00"/><path d="M564.7 304.1h4.2v4.2h-4.2z" fill="#ff9800"/><path d="M568.7 304.1h4.2v4.2h-4.2z" fill="#ff9400"/><path d="M572.7 304.1h4.2v4.2h-4.2z" fill="#ff9000"/><path d="M576.7 304.1h4.2v4.2h-4.2z" fill="#ff8c00"/><path d="M580.7 304.1h4.2v4.2h-4.2z" fill="#ff8900"/><path d="M584.7 304.1h4.2v4.2h-4.2z" fill="#ff8500"/><path d="M588.7 304.1h4.2v4.2h-4.2z" fill="#ff8200"/><path d="M592.7 304.1h4.2v4.2h-4.2z" fill="#ff7f00"/><path d="M392.7 308.1h4.2v4.2h-4.2z" fill="#00ffe8"/><path d="M396.7 308.1h4.2v4.2h-4.2z" fill="#00ffe7"/><path d="M400.7 308.1h4.2v4.2h-4.2z" fill="#00ffe7"/><path d="M404.7 308.1h4.2v4.2h-4.2z" fill="#00ffe6"/><path d="M408.7 308.1h4.2v4.2h-4.2z" fill="#00ffe5"/><path d="M412.7 308.1h4.2v4.2h-4.2z" fill="#00ffe4"/><path d="M416.7 308.1h4.2v4.2h-4.2z" fill="#00ffe3"/><path d="M420.7 308.1h4.2v4.2h-4.2z" fill="#00ffe2"/><path d="M424.7 308.1h4.2v4.2h-4.2z" fill="#00ffe0"/><path d="M428.7 308.1h4.2v4.2h-4.2z" fill="#00ffdf"/><path d="M432.7 308.1h4.2v4.2h-4.2z" fill="#00ffdd"/><path d="M436.7 308.1h4.2v4.2h-4.2z" fill="#00ffdc"/><path d="M440.7 308.1h4.2v4.2h-4.2z" fill="#00ffda"/><path d="M444.7 308.1h4.2v4.2h-4.2z" fill="#00ffd8"/><path d="M448.7 308.1h4.2v4.2h-4.2z" fill="#00ffd5"/><path d="M452.7 308.1h4.2v4.2h-4.2z" fill="#00ffd3"/><path d="M456.7 308.1h4.2v4.2h-4.2z" fill="#00ffd0"/><path d="M460.7 308.1h4.2v4.2h-4.2z" fill="#00ffcc"/><path d="M464.7 308.1h4.2v4.2h-4.2z" fill="#00ffc8"/><path d="M468.7 308.1h4.2v4.2h-4.2z" fill="#00ffc3"/><path d="M472.7 308.1h4.2v4.2h-4.2z" fill="#00ffbe"/><path d="M476.7 308.1h4.2v4.2h-4.2z" fill="#0dffae"/><path d="M480.7 308.1h4.2v4.2h-4.2z" fill="#44ffab"/><path d="M484.7 308.1h4.2v4.2h-4.2z" fill="#65ffa9"/><path d="M488.7 308.1h4.2v4.2h-4.2z" fill="#81ffa6"/><path d="M492.7 308.1h4.2v4.2h-4.2z" fill="#98ffa4"/><path d="M496.7 308.1h4.2v4.2h-4.2z" fill="#aeffa1"/><path d="M500.7 308.1h4.2v4.2h-4.2z" fill="#c2ff9e"/><path d="M504.7 308.1h4.2v4.2h-4.2z" fill="#d5ff9a"/><path d="M508.7 308.1h4.2v4.2h-4.2z" fill="#e8ff97"/><path d="M512.7 308.1h4.2v4.2h-4.2z" fill="#faff93"/><path d="M516.7 308.1h4.2v4.2h-4.2z" fill="#fff387"/><path d="M520.7 308.1h4.2v4.2h-4.2z" fill="#ffe479"/><path d="M524.7 308.1h4.2v4.2h-4.2z" fill="#ffd66d"/><path d="M528.7 308.1h4.2v4.2h-4.2z" fill="#ffca61"/><path d="M532.7 308.1h4.2v4.2h-4.2z" fill="#ffbf56"/><path d="M536.7 308.1h4.2v4.2h-4.2z" fill="#ffb54b"/><path d="M540.7 308.1h4.2v4.2h-4.2z" fill="#ffab40"/><path d="M544.7 308.1h4.2v4.2h-4.2z" fill="#ffa236"/><path d="M548.7 308.1h4.2v4.2h-4.2z" fill="#ff9a2b"/><path d="M552.7 308.1h4.2v4.2h-4.2z" fill="#ff921f"/><path d="M556.7 308.1h4.2v4.2h-4.2z" fill="#ff8b12"/><path d="M560.7 308.1h4.2v4.2h-4.2z" fill="#ff8402"/><path d="M564.7 308.1h4.2v4.2h-4.2z" fill="#ff8b00"/><path d="M568.7 308.1h4.2v4.2h-4.2z" fill="#ff8a00"/><path d="M572.7 308.1h4.2v4.2h-4.2z" fill="#ff8600"/><path d="M576.7 308.1h4.2v4.2h-4.2z" fill="#ff8200"/><path d="M580.7 308.1h4.2v4.2h-4.2z" fill="#ff7f00"/><path d="M584.7 308.1h4.2v4.2h-4.2z" fill="#ff7c00"/><path d="M588.7 308.1h4.2v4.2h-4.2z" fill="#ff7900"/><path d="M592.7 308.1h4.2v4.2h-4.2z" fill="#ff7600"/><path d="M596.7 308.1h4.2v4.2h-4.2z" fill="#ff7300"/><path d="M600.7 308.1h4.2v4.2h-4.2z" fill="#ff7100"/><path d="M396.7 312.1h4.2v4.2h-4.2z" fill="#00ffeb"/><path d="M400.7 312.1h4.2v4.2h-4.2z" fill="#00ffeb"/><path d="M404.7 312.1h4.2v4.2h-4.2z" fill="#00ffea"/><path d="M408.7 312.1h4.2v4.2h-4.2z" fill="#00ffe9"/><path d="M412.7 312.1h4.2v4.2h-4.2z" fill="#00ffe8"/><path d="M416.7 312.1h4.2v4.2h-4.2z" fill="#00ffe7"/><path d="M420.7 312.1h4.2v4.2h-4.2z" fill="#00ffe6"/><path d="M424.7 312.1h4.2v4.2h-4.2z" fill="#00ffe5"/><path d="M428.7 312.1h4.2v4.2h-4.2z" fill="#00ffe4"/><path d="M432.7 312.1h4.2v4.2h-4.2z" fill="#00ffe3"/><path d="M436.7 312.1h4.2v4.2h-4.2z" fill="#00ffe1"/><path d="M440.7 312.1h4.2v4.2h-4.2z" fill="#00ffe0"/><path d="M444.7 312.1h4.2v4.2h-4.2z" fill="#00ffde"/><path d="M448.7 312.1h4.2v4.2h-4.2z" fill="#00ffdc"/><path d="M452.7 312.1h4.2v4.2h-4.2z" fill="#00ffd9"/><path d="M456.7 312.1h4.2v4.2h-4.2z" fill="#00ffd7"/><path d="M460.7 312.1h4.2v4.2h-4.2z" fill="#00ffd4"/><path d="M464.7 312.1h4.2v4.2h-4.2z" fill="#00ffd0"/><path d="M468.7 312.1h4.2v4.2h-4.2z" fill="#00ffcc"/><path d="M472.7 312.1h4.2v4.2h-4.2z" fill="#00ffc7"/><path d="M476.7 312.1h4.2v4.2h-4.2z" fill="#29ffbb"/><path d="M480.7 312.1h4.2v4.2h-4.2z" fill="#55ffb9"/><path d="M484.7 312.1h4.2v4.2h-4.2z" fill="#74ffb7"/><path d="M488.7 312.1h4.2v4.2h-4.2z" fill="#8effb5"/><path d="M492.7 312.1h4.2v4.2h-4.2z" fill="#a6ffb2"/><path d="M496.7 312.1h4.2v4.2h-4.2z" fill="#bbffb0"/><path d="M500.7 312.1h4.2v4.2h-4.2z" fill="#d0ffad"/><path d="M504.7 312.1h4.2v4.2h-4.2z" fill="#e3ffaa"/><path d="M508.7 312.1h4.2v4.2h-4.2z" fill="#f6ffa7"/><path d="M512.7 312.1h4.2v4.2h-4.2z" fill="#fff59d"/><path d="M516.7 312.1h4.2v4.2h-4.2z" fill="#ffe58f"/><path d="M520.7 312.1h4.2v4.2h-4.2z" fill="#ffd782"/><path d="M524.7 312.1h4.2v4.2h-4.2z" fill="#ffca76"/><path d="M528.7 312.1h4.2v4.2h-4.2z" fill="#ffbe6a"/><path d="M532.7 312.1h4.2v4.2h-4.2z" fill="#ffb360"/><path d="M536.7 312.1h4.2v4.2h-4.2z" fill="#ffaa56"/><path d="M540.7 312.1h4.2v4.2h-4.2z" fill="#ffa04c"/><path d="M544.7 312.1h4.2v4.2h-4.2z" fill="#ff9842"/><path d="M548.7 312.1h4.2v4.2h-4.2z" fill="#ff9038"/><path d="M552.7 312.1h4.2v4.2h-4.2z" fill="#ff882e"/><path d="M556.7 312.1h4.2v4.2h-4.2z" fill="#ff8124"/><path d="M560.7 312.1h4.2v4.2h-4.2z" fill="#ff7a19"/><path d="M564.7 312.1h4.2v4.2h-4.2z" fill="#ff730c"/><path d="M568.7 312.1h4.2v4.2h-4.2z" fill="#ff6f00"/><path d="M572.7 312.1h4.2v4.2h-4.2z" fill="#ff7b00"/><path d="M576.7 312.1h4.2v4.2h-4.2z" fill="#ff7700"/><path d="M580.7 312.1h4.2v4.2h-4.2z" fill="#ff7400"/><path d="M584.7 312.1h4.2v4.2h-4.2z" fill="#ff7100"/><path d="M588.7 312.1h4.2v4.2h-4.2z" fill="#ff6e00"/><path d="M592.7 312.1h4.2v4.2h-4.2z" fill="#ff6c00"/><path d="M596.7 312.1h4.2v4.2h-4.2z" fill="#ff6900"/><path d="M600.7 312.1h4.2v4.2h-4.2z" fill="#ff6600"/><path d="M604.7 312.1h4.2v4.2h-4.2z" fill="#ff6400"/><path d="M396.7 316.1h4.2v4.2h-4.2z" fill="#00ffef"/><path d="M400.7 316.1h4.2v4.2h-4.2z" fill="#00ffef"/><path d="M404.7 316.1h4.2v4.2h-4.2z" fill="#00ffee"/><path d="M408.7 316.1h4.2v4.2h-4.2z" fill="#00ffee"/><path d="M412.7 316.1h4.2v4.2h-4.2z" fill="#00ffed"/><path d="M416.7 316.1h4.2v4.2h-4.2z" fill="#00ffec"/><path d="M420.7 316.1h4.2v4.2h-4.2z" fill="#00ffeb"/><path d="M424.7 316.1h4.2v4.2h-4.2z" fill="#00ffeb"/><path d="M428.7 316.1h4.2v4.2h-4.2z" fill="#00ffea"/><path d="M432.7 316.1h4.2v4.2h-4.2z" fill="#00ffe8"/><path d="M436.7 316.1h4.2v4.2h-4.2z" fill="#00ffe7"/><path d="M440.7 316.1h4.2v4.2h-4.2z" fill="#00ffe6"/><path d="M444.7 316.1h4.2v4.2h-4.2z" fill="#00ffe4"/><path d="M448.7 316.1h4.2v4.2h-4.2z" fill="#00ffe3"/><path d="M452.7 316.1h4.2v4.2h-4.2z" fill="#00ffe1"/><path d="M456.7 316.1h4.2v4.2h-4.2z" fill="#00ffdf"/><path d="M460.7 316.1h4.2v4.2h-4.2z" fill="#00ffdc"/><path d="M464.7 316.1h4.2v4.2h-4.2z" fill="#00ffd9"/><path d="M468.7 316.1h4.2v4.2h-4.2z" fill="#00ffd6"/><path d="M472.7 316.1h4.2v4.2h-4.2z" fill="#00ffce"/><path d="M476.7 316.1h4.2v4.2h-4.2z" fill="#3fffc9"/><path d="M480.7 316.1h4.2v4.2h-4.2z" fill="#65ffc7"/><path d="M484.7 316.1h4.2v4.2h-4.2z" fill="#83ffc6"/><path d="M488.7 316.1h4.2v4.2h-4.2z" fill="#9dffc4"/><path d="M492.7 316.1h4.2v4.2h-4.2z" fill="#b4ffc2"/><path d="M496.7 316.1h4.2v4.2h-4.2z" fill="#caffc0"/><path d="M500.7 316.1h4.2v4.2h-4.2z" fill="#dfffbe"/><path d="M504.7 316.1h4.2v4.2h-4.2z" fill="#f3ffbc"/><path d="M508.7 316.1h4.2v4.2h-4.2z" fill="#fff8b4"/><path d="M512.7 316.1h4.2v4.2h-4.2z" fill="#ffe6a4"/><path d="M516.7 316.1h4.2v4.2h-4.2z" fill="#ffd796"/><path d="M520.7 316.1h4.2v4.2h-4.2z" fill="#ffca89"/><path d="M524.7 316.1h4.2v4.2h-4.2z" fill="#ffbd7e"/><path d="M528.7 316.1h4.2v4.2h-4.2z" fill="#ffb273"/><path d="M532.7 316.1h4.2v4.2h-4.2z" fill="#ffa869"/><path d="M536.7 316.1h4.2v4.2h-4.2z" fill="#ff9e5f"/><path d="M540.7 316.1h4.2v4.2h-4.2z" fill="#ff9555"/><path d="M544.7 316.1h4.2v4.2h-4.2z" fill="#ff8d4c"/><path d="M548.7 316.1h4.2v4.2h-4.2z" fill="#ff8543"/><path d="M552.7 316.1h4.2v4.2h-4.2z" fill="#ff7e3a"/><path d="M556.7 316.1h4.2v4.2h-4.2z" fill="#ff7631"/><path d="M560.7 316.1h4.2v4.2h-4.2z" fill="#ff7028"/><path d="M564.7 316.1h4.2v4.2h-4.2z" fill="#ff691e"/><path d="M568.7 316.1h4.2v4.2h-4.2z" fill="#ff6314"/><path d="M572.7 316.1h4.2v4.2h-4.2z" fill="#ff5c07"/><path d="M576.7 316.1h4.2v4.2h-4.2z" fill="#ff5d00"/><path d="M580.7 316.1h4.2v4.2h-4.2z" fill="#ff6800"/><path d="M584.7 316.1h4.2v4.2h-4.2z" fill="#ff6500"/><path d="M588.7 316.1h4.2v4.2h-4.2z" fill="#ff6200"/><path d="M592.7 316.1h4.2v4.2h-4.2z" fill="#ff6000"/><path d="M596.7 316.1h4.2v4.2h-4.2z" fill="#ff5d00"/><path d="M600.7 316.1h4.2v4.2h-4.2z" fill="#ff5b00"/><path d="M604.7 316.1h4.2v4.2h-4.2z" fill="#ff5900"/><path d="M608.7 316.1h4.2v4.2h-4.2z" fill="#ff5600"/><path d="M396.7 320.1h4.2v4.2h-4.2z" fill="#00fff4"/><path d="M400.7 320.1h4.2v4.2h-4.2z" fill="#00fff3"/><path d="M404.7 320.1h4.2v4.2h-4.2z" fill="#00fff3"/><path d="M408.7 320.1h4.2v4.2h-4.2z" fill="#00fff2"/><path d="M412.7 320.1h4.2v4.2h-4.2z" fill="#00fff2"/><path d="M416.7 320.1h4.2v4.2h-4.2z" fill="#00fff1"/><path d="M420.7 320.1h4.2v4.2h-4.2z" fill="#00fff1"/><path d="M424.7 320.1h4.2v4.2h-4.2z" fill="#00fff0"/><path d="M428.7 320.1h4.2v4.2h-4.2z" fill="#00ffef"/><path d="M432.7 320.1h4.2v4.2h-4.2z" fill="#00ffef"/><path d="M436.7 320.1h4.2v4.2h-4.2z" fill="#00ffee"/><path d="M440.7 320.1h4.2v4.2h-4.2z" fill="#00ffed"/><path d="M444.7 320.1h4.2v4.2h-4.2z" fill="#00ffec"/><path d="M448.7 320.1h4.2v4.2h-4.2z" fill="#00ffea"/><path d="M452.7 320.1h4.2v4.2h-4.2z" fill="#00ffe9"/><path d="M456.7 320.1h4.2v4.2h-4.2z" fill="#00ffe7"/><path d="M460.7 320.1h4.2v4.2h-4.2z" fill="#00ffe5"/><path d="M464.7 320.1h4.2v4.2h-4.2z" fill="#00ffe3"/><path d="M468.7 320.1h4.2v4.2h-4.2z" fill="#00ffe0"/><path d="M472.7 320.1h4.2v4.2h-4.2z" fill="#1dffd9"/><path d="M476.7 320.1h4.2v4.2h-4.2z" fill="#52ffd8"/><path d="M480.7 320.1h4.2v4.2h-4.2z" fill="#75ffd7"/><path d="M484.7 320.1h4.2v4.2h-4.2z" fill="#92ffd5"/><path d="M488.7 320.1h4.2v4.2h-4.2z" fill="#acffd4"/><path d="M492.7 320.1h4.2v4.2h-4.2z" fill="#c3ffd3"/><path d="M496.7 320.1h4.2v4.2h-4.2z" fill="#d9ffd1"/><path d="M500.7 320.1h4.2v4.2h-4.2z" fill="#efffcf"/><path d="M504.7 320.1h4.2v4.2h-4.2z" fill="#fffbca"/><path d="M508.7 320.1h4.2v4.2h-4.2z" fill="#ffe8b9"/><path d="M512.7 320.1h4.2v4.2h-4.2z" fill="#ffd8aa"/><path d="M516.7 320.1h4.2v4.2h-4.2z" fill="#ffc99c"/><path d="M520.7 320.1h4.2v4.2h-4.2z" fill="#ffbd90"/><path d="M524.7 320.1h4.2v4.2h-4.2z" fill="#ffb185"/><path d="M528.7 320.1h4.2v4.2h-4.2z" fill="#ffa67a"/><path d="M532.7 320.1h4.2v4.2h-4.2z" fill="#ff9c70"/><path d="M536.7 320.1h4.2v4.2h-4.2z" fill="#ff9367"/><path d="M540.7 320.1h4.2v4.2h-4.2z" fill="#ff8a5e"/><path d="M544.7 320.1h4.2v4.2h-4.2z" fill="#ff8255"/><path d="M548.7 320.1h4.2v4.2h-4.2z" fill="#ff7a4d"/><path d="M552.7 320.1h4.2v4.2h-4.2z" fill="#ff7345"/><path d="M556.7 320.1h4.2v4.2h-4.2z" fill="#ff6c3c"/><path d="M560.7 320.1h4.2v4.2h-4.2z" fill="#ff6534"/><path d="M564.7 320.1h4.2v4.2h-4.2z" fill="#ff5e2b"/><path d="M568.7 320.1h4.2v4.2h-4.2z" fill="#ff5823"/><path d="M572.7 320.1h4.2v4.2h-4.2z" fill="#ff5119"/><path d="M576.7 320.1h4.2v4.2h-4.2z" fill="#ff4b0e"/><path d="M580.7 320.1h4.2v4.2h-4.2z" fill="#ff4502"/><path d="M584.7 320.1h4.2v4.2h-4.2z" fill="#ff4c00"/><path d="M588.7 320.1h4.2v4.2h-4.2z" fill="#ff5500"/><path d="M592.7 320.1h4.2v4.2h-4.2z" fill="#ff5200"/><path d="M596.7 320.1h4.2v4.2h-4.2z" fill="#ff5000"/><path d="M600.7 320.1h4.2v4.2h-4.2z" fill="#ff4d00"/><path d="M604.7 320.1h4.2v4.2h-4.2z" fill="#ff4b00"/><path d="M608.7 320.1h4.2v4.2h-4.2z" fill="#ff4900"/><path d="M612.7 320.1h4.2v4.2h-4.2z" fill="#ff4700"/><path d="M616.7 320.1h4.2v4.2h-4.2z" fill="#ff4500"/><path d="M396.7 324.1h4.2v4.2h-4.2z" fill="#00fff8"/><path d="M400.7 324.1h4.2v4.2h-4.2z" fill="#00fff8"/><path d="M404.7 324.1h4.2v4.2h-4.2z" fill="#00fff8"/><path d="M408.7 324.1h4.2v4.2h-4.2z" fill="#00fff7"/><path d="M412.7 324.1h4.2v4.2h-4.2z" fill="#00fff7"/><path d="M416.7 324.1h4.2v4.2h-4.2z" fill="#00fff7"/><path d="M420.7 324.1h4.2v4.2h-4.2z" fill="#00fff6"/><path d="M424.7 324.1h4.2v4.2h-4.2z" fill="#00fff6"/><path d="M428.7 324.1h4.2v4.2h-4.2z" fill="#00fff6"/><path d="M432.7 324.1h4.2v4.2h-4.2z" fill="#00fff5"/><path d="M436.7 324.1h4.2v4.2h-4.2z" fill="#00fff5"/><path d="M440.7 324.1h4.2v4.2h-4.2z" fill="#00fff4"/><path d="M444.7 324.1h4.2v4.2h-4.2z" fill="#00fff3"/><path d="M448.7 324.1h4.2v4.2h-4.2z" fill="#00fff2"/><path d="M452.7 324.1h4.2v4.2h-4.2z" fill="#00fff2"/><path d="M456.7 324.1h4.2v4.2h-4.2z" fill="#00fff0"/><path d="M460.7 324.1h4.2v4.2h-4.2z" fill="#00ffef"/><path d="M464.7 324.1h4.2v4.2h-4.2z" fill="#00ffee"/><path d="M468.7 324.1h4.2v4.2h-4.2z" fill="#00ffec"/><path d="M472.7 324.1h4.2v4.2h-4.2z" fill="#38ffe8"/><path d="M476.7 324.1h4.2v4.2h-4.2z" fill="#64ffe7"/><path d="M480.7 324.1h4.2v4.2h-4.2z" fill="#85ffe7"/><path d="M484.7 324.1h4.2v4.2h-4.2z" fill="#a2ffe6"/><path d="M488.7 324.1h4.2v4.2h-4.2z" fill="#bbffe5"/><path d="M492.7 324.1h4.2v4.2h-4.2z" fill="#d3ffe4"/><path d="M496.7 324.1h4.2v4.2h-4.2z" fill="#eaffe3"/><path d="M500.7 324.1h4.2v4.2h-4.2z" fill="#fffee1"/><path d="M504.7 324.1h4.2v4.2h-4.2z" fill="#ffeace"/><path d="M508.7 324.1h4.2v4.2h-4.2z" fill="#ffd8be"/><path d="M512.7 324.1h4.2v4.2h-4.2z" fill="#ffc9af"/><path d="M516.7 324.1h4.2v4.2h-4.2z" fill="#ffbca2"/><path d="M520.7 324.1h4.2v4.2h-4.2z" fill="#ffaf96"/><path d="M524.7 324.1h4.2v4.2h-4.2z" fill="#ffa48b"/><path d="M528.7 324.1h4.2v4.2h-4.2z" fill="#ff9a81"/><path d="M532.7 324.1h4.2v4.2h-4.2z" fill="#ff9077"/><path d="M536.7 324.1h4.2v4.2h-4.2z" fill="#ff876e"/><path d="M540.7 324.1h4.2v4.2h-4.2z" fill="#ff7f65"/><path d="M544.7 324.1h4.2v4.2h-4.2z" fill="#ff775d"/><path d="M548.7 324.1h4.2v4.2h-4.2z" fill="#ff6f55"/><path d="M552.7 324.1h4.2v4.2h-4.2z" fill="#ff684d"/><path d="M556.7 324.1h4.2v4.2h-4.2z" fill="#ff6146"/><path d="M560.7 324.1h4.2v4.2h-4.2z" fill="#ff5a3e"/><path d="M564.7 324.1h4.2v4.2h-4.2z" fill="#ff5336"/><path d="M568.7 324.1h4.2v4.2h-4.2z" fill="#ff4c2e"/><path d="M572.7 324.1h4.2v4.2h-4.2z" fill="#ff4626"/><path d="M576.7 324.1h4.2v4.2h-4.2z" fill="#ff3f1e"/><path d="M580.7 324.1h4.2v4.2h-4.2z" fill="#ff3914"/><path d="M584.7 324.1h4.2v4.2h-4.2z" fill="#ff320a"/><path d="M588.7 324.1h4.2v4.2h-4.2z" fill="#ff2e00"/><path d="M592.7 324.1h4.2v4.2h-4.2z" fill="#ff3f00"/><path d="M596.7 324.1h4.2v4.2h-4.2z" fill="#ff3e00"/><path d="M600.7 324.1h4.2v4.2h-4.2z" fill="#ff3c00"/><path d="M604.7 324.1h4.2v4.2h-4.2z" fill="#ff3900"/><path d="M608.7 324.1h4.2v4.2h-4.2z" fill="#ff3700"/><path d="M612.7 324.1h4.2v4.2h-4.2z" fill="#ff3500"/><path d="M616.7 324.1h4.2v4.2h-4.2z" fill="#ff3300"/><path d="M620.7 324.1h4.2v4.2h-4.2z" fill="#ff3100"/><path d="M396.7 328.1h4.2v4.2h-4.2z" fill="#00fffd"/><path d="M400.7 328.1h4.2v4.2h-4.2z" fill="#00fffd"/><path d="M404.7 328.1h4.2v4.2h-4.2z" fill="#00fffd"/><path d="M408.7 328.1h4.2v4.2h-4.2z" fill="#00fffd"/><path d="M412.7 328.1h4.2v4.2h-4.2z" fill="#00fffd"/><path d="M416.7 328.1h4.2v4.2h-4.2z" fill="#00fffd"/><path d="M420.7 328.1h4.2v4.2h-4.2z" fill="#00fffc"/><path d="M424.7 328.1h4.2v4.2h-4.2z" fill="#00fffc"/><path d="M428.7 328.1h4.2v4.2h-4.2z" fill="#00fffc"/><path d="M432.7 328.1h4.2v4.2h-4.2z" fill="#00fffc"/><path d="M436.7 328.1h4.2v4.2h-4.2z" fill="#00fffc"/><path d="M440.7 328.1h4.2v4.2h-4.2z" fill="#00fffc"/><path d="M444.7 328.1h4.2v4.2h-4.2z" fill="#00fffc"/><path d="M448.7 328.1h4.2v4.2h-4.2z" fill="#00fffb"/><path d="M452.7 328.1h4.2v4.2h-4.2z" fill="#00fffb"/><path d="M456.7 328.1h4.2v4.2h-4.2z" fill="#00fffb"/><path d="M460.7 328.1h4.2v4.2h-4.2z" fill="#00fffa"/><path d="M464.7 328.1h4.2v4.2h-4.2z" fill="#00fffa"/><path d="M468.7 328.1h4.2v4.2h-4.2z" fill="#0bfff9"/><path d="M472.7 328.1h4.2v4.2h-4.2z" fill="#4efff8"/><path d="M476.7 328.1h4.2v4.2h-4.2z" fill="#76fff8"/><path d="M480.7 328.1h4.2v4.2h-4.2z" fill="#96fff8"/><path d="M484.7 328.1h4.2v4.2h-4.2z" fill="#b3fff8"/><path d="M488.7 328.1h4.2v4.2h-4.2z" fill="#ccfff8"/><path d="M492.7 328.1h4.2v4.2h-4.2z" fill="#e5fff7"/><path d="M496.7 328.1h4.2v4.2h-4.2z" fill="#fdfff7"/><path d="M500.7 328.1h4.2v4.2h-4.2z" fill="#ffece4"/><path d="M504.7 328.1h4.2v4.2h-4.2z" fill="#ffd9d2"/><path d="M508.7 328.1h4.2v4.2h-4.2z" fill="#ffc9c2"/><path d="M512.7 328.1h4.2v4.2h-4.2z" fill="#ffbbb4"/><path d="M516.7 328.1h4.2v4.2h-4.2z" fill="#ffaea7"/><path d="M520.7 328.1h4.2v4.2h-4.2z" fill="#ffa29b"/><path d="M524.7 328.1h4.2v4.2h-4.2z" fill="#ff9791"/><path d="M528.7 328.1h4.2v4.2h-4.2z" fill="#ff8d87"/><path d="M532.7 328.1h4.2v4.2h-4.2z" fill="#ff847d"/><path d="M536.7 328.1h4.2v4.2h-4.2z" fill="#ff7b75"/><path d="M540.7 328.1h4.2v4.2h-4.2z" fill="#ff736c"/><path d="M544.7 328.1h4.2v4.2h-4.2z" fill="#ff6b64"/><path d="M548.7 328.1h4.2v4.2h-4.2z" fill="#ff635d"/><path d="M552.7 328.1h4.2v4.2h-4.2z" fill="#ff5c55"/><path d="M556.7 328.1h4.2v4.2h-4.2z" fill="#ff544e"/><path d="M560.7 328.1h4.2v4.2h-4.2z" fill="#ff4d46"/><path d="M564.7 328.1h4.2v4.2h-4.2z" fill="#ff463f"/><path d="M568.7 328.1h4.2v4.2h-4.2z" fill="#ff3f38"/><path d="M572.7 328.1h4.2v4.2h-4.2z" fill="#ff3831"/><path d="M576.7 328.1h4.2v4.2h-4.2z" fill="#ff3129"/><path d="M580.7 328.1h4.2v4.2h-4.2z" fill="#ff2a21"/><path d="M584.7 328.1h4.2v4.2h-4.2z" fill="#ff2319"/><path d="M588.7 328.1h4.2v4.2h-4.2z" fill="#ff1b10"/><path d="M592.7 328.1h4.2v4.2h-4.2z" fill="#ff1205"/><path d="M596.7 328.1h4.2v4.2h-4.2z" fill="#ff1100"/><path d="M600.7 328.1h4.2v4.2h-4.2z" fill="#ff2000"/><path d="M604.7 328.1h4.2v4.2h-4.2z" fill="#ff1c00"/><path d="M608.7 328.1h4.2v4.2h-4.2z" fill="#ff1800"/><path d="M612.7 328.1h4.2v4.2h-4.2z" fill="#ff1400"/><path d="M616.7 328.1h4.2v4.2h-4.2z" fill="#ff0e00"/><path d="M620.7 328.1h4.2v4.2h-4.2z" fill="#ff0000"/><path d="M624.7 328.1h4.2v4.2h-4.2z" fill="#ff0000"/><path d="M628.7 328.1h4.2v4.2h-4.2z" fill="#ff0000"/><path d="M400.7 332.1h4.2v4.2h-4.2z" fill="#00fcff"/><path d="M404.7 332.1h4.2v4.2h-4.2z" fill="#00fcff"/><path d="M408.7 332.1h4.2v4.2h-4.2z" fill="#00fcff"/><path d="M412.7 332.1h4.2v4.2h-4.2z" fill="#00fcff"/><path d="M416.7 332.1h4.2v4.2h-4.2z" fill="#00fbff"/><path d="M420.7 332.1h4.2v4.2h-4.2z" fill="#00fbff"/><path d="M424.7 332.1h4.2v4.2h-4.2z" fill="#00fbff"/><path d="M428.7 332.1h4.2v4.2h-4.2z" fill="#00fbff"/><path d="M432.7 332.1h4.2v4.2h-4.2z" fill="#00fbff"/><path d="M436.7 332.1h4.2v4.2h-4.2z" fill="#00faff"/><path d="M440.7 332.1h4.2v4.2h-4.2z" fill="#00faff"/><path d="M444.7 332.1h4.2v4.2h-4.2z" fill="#00faff"/><path d="M448.7 332.1h4.2v4.2h-4.2z" fill="#00f9ff"/><path d="M452.7 332.1h4.2v4.2h-4.2z" fill="#00f9ff"/><path d="M456.7 332.1h4.2v4.2h-4.2z" fill="#00f8ff"/><path d="M460.7 332.1h4.2v4.2h-4.2z" fill="#00f7ff"/><path d="M464.7 332.1h4.2v4.2h-4.2z" fill="#00f6ff"/><path d="M468.7 332.1h4.2v4.2h-4.2z" fill="#2cf5ff"/><path d="M472.7 332.1h4.2v4.2h-4.2z" fill="#5ef4ff"/><path d="M476.7 332.1h4.2v4.2h-4.2z" fill="#82f4ff"/><path d="M480.7 332.1h4.2v4.2h-4.2z" fill="#a0f3ff"/><path d="M484.7 332.1h4.2v4.2h-4.2z" fill="#bbf3ff"/><path d="M488.7 332.1h4.2v4.2h-4.2z" fill="#d4f2ff"/><path d="M492.7 332.1h4.2v4.2h-4.2z" fill="#ecf2ff"/><path d="M496.7 332.1h4.2v4.2h-4.2z" fill="#ffeefb"/><path d="M500.7 332.1h4.2v4.2h-4.2z" fill="#ffdae7"/><path d="M504.7 332.1h4.2v4.2h-4.2z" fill="#ffc9d5"/><path d="M508.7 332.1h4.2v4.2h-4.2z" fill="#ffb9c6"/><path d="M512.7 332.1h4.2v4.2h-4.2z" fill="#ffacb8"/><path d="M516.7 332.1h4.2v4.2h-4.2z" fill="#ffa0ac"/><path d="M520.7 332.1h4.2v4.2h-4.2z" fill="#ff94a0"/><path d="M524.7 332.1h4.2v4.2h-4.2z" fill="#ff8a96"/><path d="M528.7 332.1h4.2v4.2h-4.2z" fill="#ff808c"/><path d="M532.7 332.1h4.2v4.2h-4.2z" fill="#ff7783"/><path d="M536.7 332.1h4.2v4.2h-4.2z" fill="#ff6e7b"/><path d="M540.7 332.1h4.2v4.2h-4.2z" fill="#ff6672"/><path d="M544.7 332.1h4.2v4.2h-4.2z" fill="#ff5e6b"/><path d="M548.7 332.1h4.2v4.2h-4.2z" fill="#ff5663"/><path d="M552.7 332.1h4.2v4.2h-4.2z" fill="#ff4f5c"/><path d="M556.7 332.1h4.2v4.2h-4.2z" fill="#ff4755"/><path d="M560.7 332.1h4.2v4.2h-4.2z" fill="#ff404e"/><path d="M564.7 332.1h4.2v4.2h-4.2z" fill="#ff3847"/><path d="M568.7 332.1h4.2v4.2h-4.2z" fill="#ff3140"/><path d="M572.7 332.1h4.2v4.2h-4.2z" fill="#ff293a"/><path d="M576.7 332.1h4.2v4.2h-4.2z" fill="#ff2133"/><path d="M580.7 332.1h4.2v4.2h-4.2z" fill="#ff182c"/><path d="M584.7 332.1h4.2v4.2h-4.2z" fill="#ff0f25"/><path d="M588.7 332.1h4.2v4.2h-4.2z" fill="#ff031d"/><path d="M592.7 332.1h4.2v4.2h-4.2z" fill="#ff0020"/><path d="M596.7 332.1h4.2v4.2h-4.2z" fill="#ff002e"/><path d="M600.7 332.1h4.2v4.2h-4.2z" fill="#ff002c"/><path d="M604.7 332.1h4.2v4.2h-4.2z" fill="#ff0029"/><path d="M608.7 332.1h4.2v4.2h-4.2z" fill="#ff0026"/><path d="M612.7 332.1h4.2v4.2h-4.2z" fill="#ff0024"/><path d="M616.7 332.1h4.2v4.2h-4.2z" fill="#ff0021"/><path d="M620.7 332.1h4.2v4.2h-4.2z" fill="#ff001e"/><path d="M624.7 332.1h4.2v4.2h-4.2z" fill="#ff001b"/><path d="M628.7 332.1h4.2v4.2h-4.2z" fill="#ff0018"/><path d="M632.7 332.1h4.2v4.2h-4.2z" fill="#ff0015"/><path d="M400.7 336.1h4.2v4.2h-4.2z" fill="#00f7ff"/><path d="M404.7 336.1h4.2v4.2h-4.2z" fill="#00f6ff"/><path d="M408.7 336.1h4.2v4.2h-4.2z" fill="#00f6ff"/><path d="M412.7 336.1h4.2v4.2h-4.2z" fill="#00f6ff"/><path d="M416.7 336.1h4.2v4.2h-4.2z" fill="#00f5ff"/><path d="M420.7 336.1h4.2v4.2h-4.2z" fill="#00f5ff"/><path d="M424.7 336.1h4.2v4.2h-4.2z" fill="#00f4ff"/><path d="M428.7 336.1h4.2v4.2h-4.2z" fill="#00f4ff"/><path d="M432.7 336.1h4.2v4.2h-4.2z" fill="#00f3ff"/><path d="M436.7 336.1h4.2v4.2h-4.2z" fill="#00f2ff"/><path d="M440.7 336.1h4.2v4.2h-4.2z" fill="#00f1ff"/><path d="M444.7 336.1h4.2v4.2h-4.2z" fill="#00f0ff"/><path d="M448.7 336.1h4.2v4.2h-4.2z" fill="#00efff"/><path d="M452.7 336.1h4.2v4.2h-4.2z" fill="#00eeff"/><path d="M456.7 336.1h4.2v4.2h-4.2z" fill="#00ecff"/><path d="M460.7 336.1h4.2v4.2h-4.2z" fill="#00ebff"/><path d="M464.7 336.1h4.2v4.2h-4.2z" fill="#00e8ff"/><path d="M468.7 336.1h4.2v4.2h-4.2z" fill="#40e4ff"/><path d="M472.7 336.1h4.2v4.2h-4.2z" fill="#69e3ff"/><path d="M476.7 336.1h4.2v4.2h-4.2z" fill="#89e2ff"/><path d="M480.7 336.1h4.2v4.2h-4.2z" fill="#a4e1ff"/><path d="M484.7 336.1h4.2v4.2h-4.2z" fill="#bde0ff"/><path d="M488.7 336.1h4.2v4.2h-4.2z" fill="#d5dfff"/><path d="M492.7 336.1h4.2v4.2h-4.2z" fill="#ebdeff"/><path d="M496.7 336.1h4.2v4.2h-4.2z" fill="#ffdbfd"/><path d="M500.7 336.1h4.2v4.2h-4.2z" fill="#ffc8e9"/><path d="M504.7 336.1h4.2v4.2h-4.2z" fill="#ffb8d8"/><path d="M508.7 336.1h4.2v4.2h-4.2z" fill="#ffaac9"/><path d="M512.7 336.1h4.2v4.2h-4.2z" fill="#ff9dbc"/><path d="M516.7 336.1h4.2v4.2h-4.2z" fill="#ff91b0"/><path d="M520.7 336.1h4.2v4.2h-4.2z" fill="#ff86a5"/><path d="M524.7 336.1h4.2v4.2h-4.2z" fill="#ff7c9b"/><path d="M528.7 336.1h4.2v4.2h-4.2z" fill="#ff7291"/><path d="M532.7 336.1h4.2v4.2h-4.2z" fill="#ff6988"/><path d="M536.7 336.1h4.2v4.2h-4.2z" fill="#ff6180"/><path d="M540.7 336.1h4.2v4.2h-4.2z" fill="#ff5878"/><path d="M544.7 336.1h4.2v4.2h-4.2z" fill="#ff5071"/><path d="M548.7 336.1h4.2v4.2h-4.2z" fill="#ff4869"/><path d="M552.7 336.1h4.2v4.2h-4.2z" fill="#ff4062"/><path d="M556.7 336.1h4.2v4.2h-4.2z" fill="#ff385b"/><path d="M560.7 336.1h4.2v4.2h-4.2z" fill="#ff3055"/><path d="M564.7 336.1h4.2v4.2h-4.2z" fill="#ff284e"/><path d="M568.7 336.1h4.2v4.2h-4.2z" fill="#ff1f48"/><path d="M572.7 336.1h4.2v4.2h-4.2z" fill="#ff1642"/><path d="M576.7 336.1h4.2v4.2h-4.2z" fill="#ff0b3b"/><path d="M580.7 336.1h4.2v4.2h-4.2z" fill="#ff0037"/><path d="M584.7 336.1h4.2v4.2h-4.2z" fill="#ff0045"/><path d="M588.7 336.1h4.2v4.2h-4.2z" fill="#ff0047"/><path d="M592.7 336.1h4.2v4.2h-4.2z" fill="#ff0045"/><path d="M596.7 336.1h4.2v4.2h-4.2z" fill="#ff0042"/><path d="M600.7 336.1h4.2v4.2h-4.2z" fill="#ff0040"/><path d="M604.7 336.1h4.2v4.2h-4.2z" fill="#ff003e"/><path d="M608.7 336.1h4.2v4.2h-4.2z" fill="#ff003c"/><path d="M612.7 336.1h4.2v4.2h-4.2z" fill="#ff003a"/><path d="M616.7 336.1h4.2v4.2h-4.2z" fill="#ff0038"/><path d="M620.7 336.1h4.2v4.2h-4.2z" fill="#ff0036"/><path d="M624.7 336.1h4.2v4.2h-4.2z" fill="#ff0034"/><path d="M628.7 336.1h4.2v4.2h-4.2z" fill="#ff0032"/><path d="M632.7 336.1h4.2v4.2h-4.2z" fill="#ff0030"/><path d="M636.7 336.1h4.2v4.2h-4.2z" fill="#ff002f"/><path d="M400.7 340.1h4.2v4.2h-4.2z" fill="#00f2ff"/><path d="M404.7 340.1h4.2v4.2h-4.2z" fill="#00f1ff"/><path d="M408.7 340.1h4.2v4.2h-4.2z" fill="#00f0ff"/><path d="M412.7 340.1h4.2v4.2h-4.2z" fill="#00f0ff"/><path d="M416.7 340.1h4.2v4.2h-4.2z" fill="#00efff"/><path d="M420.7 340.1h4.2v4.2h-4.2z" fill="#00eeff"/><path d="M424.7 340.1h4.2v4.2h-4.2z" fill="#00edff"/><path d="M428.7 340.1h4.2v4.2h-4.2z" fill="#00ecff"/><path d="M432.7 340.1h4.2v4.2h-4.2z" fill="#00ebff"/><path d="M436.7 340.1h4.2v4.2h-4.2z" fill="#00eaff"/><path d="M440.7 340.1h4.2v4.2h-4.2z" fill="#00e9ff"/><path d="M444.7 340.1h4.2v4.2h-4.2z" fill="#00e7ff"/><path d="M448.7 340.1h4.2v4.2h-4.2z" fill="#00e5ff"/><path d="M452.7 340.1h4.2v4.2h-4.2z" fill="#00e3ff"/><path d="M456.7 340.1h4.2v4.2h-4.2z" fill="#00e0ff"/><path d="M460.7 340.1h4.2v4.2h-4.2z" fill="#00ddff"/><path d="M464.7 340.1h4.2v4.2h-4.2z" fill="#17d5ff"/><path d="M468.7 340.1h4.2v4.2h-4.2z" fill="#4ed4ff"/><path d="M472.7 340.1h4.2v4.2h-4.2z" fill="#72d3ff"/><path d="M476.7 340.1h4.2v4.2h-4.2z" fill="#8fd1ff"/><path d="M480.7 340.1h4.2v4.2h-4.2z" fill="#a8d0ff"/><path d="M484.7 340.1h4.2v4.2h-4.2z" fill="#c0ceff"/><path d="M488.7 340.1h4.2v4.2h-4.2z" fill="#d6ccff"/><path d="M492.7 340.1h4.2v4.2h-4.2z" fill="#ebcaff"/><path d="M496.7 340.1h4.2v4.2h-4.2z" fill="#ffc8fe"/><path d="M500.7 340.1h4.2v4.2h-4.2z" fill="#ffb7ec"/><path d="M504.7 340.1h4.2v4.2h-4.2z" fill="#ffa7db"/><path d="M508.7 340.1h4.2v4.2h-4.2z" fill="#ff9acd"/><path d="M512.7 340.1h4.2v4.2h-4.2z" fill="#ff8dc0"/><path d="M516.7 340.1h4.2v4.2h-4.2z" fill="#ff82b4"/><path d="M520.7 340.1h4.2v4.2h-4.2z" fill="#ff77a9"/><path d="M524.7 340.1h4.2v4.2h-4.2z" fill="#ff6d9f"/><path d="M528.7 340.1h4.2v4.2h-4.2z" fill="#ff6496"/><path d="M532.7 340.1h4.2v4.2h-4.2z" fill="#ff5b8d"/><path d="M536.7 340.1h4.2v4.2h-4.2z" fill="#ff5285"/><path d="M540.7 340.1h4.2v4.2h-4.2z" fill="#ff497d"/><path d="M544.7 340.1h4.2v4.2h-4.2z" fill="#ff4176"/><path d="M548.7 340.1h4.2v4.2h-4.2z" fill="#ff386f"/><path d="M552.7 340.1h4.2v4.2h-4.2z" fill="#ff2f68"/><path d="M556.7 340.1h4.2v4.2h-4.2z" fill="#ff2761"/><path d="M560.7 340.1h4.2v4.2h-4.2z" fill="#ff1d5b"/><path d="M564.7 340.1h4.2v4.2h-4.2z" fill="#ff1255"/><path d="M568.7 340.1h4.2v4.2h-4.2z" fill="#ff064f"/><path d="M572.7 340.1h4.2v4.2h-4.2z" fill="#ff0050"/><path d="M576.7 340.1h4.2v4.2h-4.2z" fill="#ff005c"/><path d="M580.7 340.1h4.2v4.2h-4.2z" fill="#ff005a"/><path d="M584.7 340.1h4.2v4.2h-4.2z" fill="#ff0057"/><path d="M588.7 340.1h4.2v4.2h-4.2z" fill="#ff0055"/><path d="M592.7 340.1h4.2v4.2h-4.2z" fill="#ff0052"/><path d="M596.7 340.1h4.2v4.2h-4.2z" fill="#ff0050"/><path d="M600.7 340.1h4.2v4.2h-4.2z" fill="#ff004e"/><path d="M604.7 340.1h4.2v4.2h-4.2z" fill="#ff004c"/><path d="M608.7 340.1h4.2v4.2h-4.2z" fill="#ff004a"/><path d="M612.7 340.1h4.2v4.2h-4.2z" fill="#ff0048"/><path d="M616.7 340.1h4.2v4.2h-4.2z" fill="#ff0046"/><path d="M620.7 340.1h4.2v4.2h-4.2z" fill="#ff0045"/><path d="M624.7 340.1h4.2v4.2h-4.2z" fill="#ff0043"/><path d="M628.7 340.1h4.2v4.2h-4.2z" fill="#ff0041"/><path d="M632.7 340.1h4.2v4.2h-4.2z" fill="#ff003f"/><path d="M636.7 340.1h4.2v4.2h-4.2z" fill="#ff003e"/><path d="M404.7 344.1h4.2v4.2h-4.2z" fill="#00ecff"/><path d="M408.7 344.1h4.2v4.2h-4.2z" fill="#00ebff"/><path d="M412.7 344.1h4.2v4.2h-4.2z" fill="#00eaff"/><path d="M416.7 344.1h4.2v4.2h-4.2z" fill="#00e9ff"/><path d="M420.7 344.1h4.2v4.2h-4.2z" fill="#00e8ff"/><path d="M424.7 344.1h4.2v4.2h-4.2z" fill="#00e6ff"/><path d="M428.7 344.1h4.2v4.2h-4.2z" fill="#00e5ff"/><path d="M432.7 344.1h4.2v4.2h-4.2z" fill="#00e3ff"/><path d="M436.7 344.1h4.2v4.2h-4.2z" fill="#00e2ff"/><path d="M440.7 344.1h4.2v4.2h-4.2z" fill="#00e0ff"/><path d="M444.7 344.1h4.2v4.2h-4.2z" fill="#00ddff"/><path d="M448.7 344.1h4.2v4.2h-4.2z" fill="#00dbff"/><path d="M452.7 344.1h4.2v4.2h-4.2z" fill="#00d8ff"/><path d="M456.7 344.1h4.2v4.2h-4.2z" fill="#00d4ff"/><path d="M460.7 344.1h4.2v4.2h-4.2z" fill="#00d0ff"/><path d="M464.7 344.1h4.2v4.2h-4.2z" fill="#2fc6ff"/><path d="M468.7 344.1h4.2v4.2h-4.2z" fill="#5ac4ff"/><path d="M472.7 344.1h4.2v4.2h-4.2z" fill="#79c2ff"/><path d="M476.7 344.1h4.2v4.2h-4.2z" fill="#94c0ff"/><path d="M480.7 344.1h4.2v4.2h-4.2z" fill="#acbeff"/><path d="M484.7 344.1h4.2v4.2h-4.2z" fill="#c2bcff"/><path d="M488.7 344.1h4.2v4.2h-4.2z" fill="#d7baff"/><path d="M492.7 344.1h4.2v4.2h-4.2z" fill="#ebb7ff"/><path d="M496.7 344.1h4.2v4.2h-4.2z" fill="#feb4ff"/><path d="M500.7 344.1h4.2v4.2h-4.2z" fill="#ffa5ee"/><path d="M504.7 344.1h4.2v4.2h-4.2z" fill="#ff96de"/><path d="M508.7 344.1h4.2v4.2h-4.2z" fill="#ff89d0"/><path d="M512.7 344.1h4.2v4.2h-4.2z" fill="#ff7dc3"/><path d="M516.7 344.1h4.2v4.2h-4.2z" fill="#ff72b8"/><path d="M520.7 344.1h4.2v4.2h-4.2z" fill="#ff68ad"/><path d="M524.7 344.1h4.2v4.2h-4.2z" fill="#ff5ea3"/><path d="M528.7 344.1h4.2v4.2h-4.2z" fill="#ff549a"/><path d="M532.7 344.1h4.2v4.2h-4.2z" fill="#ff4b92"/><path d="M536.7 344.1h4.2v4.2h-4.2z" fill="#ff418a"/><path d="M540.7 344.1h4.2v4.2h-4.2z" fill="#ff3882"/><path d="M544.7 344.1h4.2v4.2h-4.2z" fill="#ff2f7b"/><path d="M548.7 344.1h4.2v4.2h-4.2z" fill="#ff2574"/><path d="M552.7 344.1h4.2v4.2h-4.2z" fill="#ff1a6d"/><path d="M556.7 344.1h4.2v4.2h-4.2z" fill="#ff0e67"/><path d="M560.7 344.1h4.2v4.2h-4.2z" fill="#ff0061"/><path d="M564.7 344.1h4.2v4.2h-4.2z" fill="#ff006e"/><path d="M568.7 344.1h4.2v4.2h-4.2z" fill="#ff006d"/><path d="M572.7 344.1h4.2v4.2h-4.2z" fill="#ff006a"/><path d="M576.7 344.1h4.2v4.2h-4.2z" fill="#ff0067"/><path d="M580.7 344.1h4.2v4.2h-4.2z" fill="#ff0065"/><path d="M584.7 344.1h4.2v4.2h-4.2z" fill="#ff0062"/><path d="M588.7 344.1h4.2v4.2h-4.2z" fill="#ff0060"/><path d="M592.7 344.1h4.2v4.2h-4.2z" fill="#ff005d"/><path d="M596.7 344.1h4.2v4.2h-4.2z" fill="#ff005b"/><path d="M600.7 344.1h4.2v4.2h-4.2z" fill="#ff0059"/><path d="M604.7 344.1h4.2v4.2h-4.2z" fill="#ff0057"/><path d="M608.7 344.1h4.2v4.2h-4.2z" fill="#ff0055"/><path d="M612.7 344.1h4.2v4.2h-4.2z" fill="#ff0053"/><path d="M616.7 344.1h4.2v4.2h-4.2z" fill="#ff0051"/><path d="M620.7 344.1h4.2v4.2h-4.2z" fill="#ff0050"/><path d="M624.7 344.1h4.2v4.2h-4.2z" fill="#ff004e"/><path d="M628.7 344.1h4.2v4.2h-4.2z" fill="#ff004c"/><path d="M632.7 344.1h4.2v4.2h-4.2z" fill="#ff004b"/><path d="M636.7 344.1h4.2v4.2h-4.2z" fill="#ff0049"/><path d="M404.7 348.1h4.2v4.2h-4.2z" fill="#00e6ff"/><path d="M408.7 348.1h4.2v4.2h-4.2z" fill="#00e5ff"/><path d="M412.7 348.1h4.2v4.2h-4.2z" fill="#00e4ff"/><path d="M416.7 348.1h4.2v4.2h-4.2z" fill="#00e2ff"/><path d="M420.7 348.1h4.2v4.2h-4.2z" fill="#00e1ff"/><path d="M424.7 348.1h4.2v4.2h-4.2z" fill="#00dfff"/><path d="M428.7 348.1h4.2v4.2h-4.2z" fill="#00ddff"/><path d="M432.7 348.1h4.2v4.2h-4.2z" fill="#00dbff"/><path d="M436.7 348.1h4.2v4.2h-4.2z" fill="#00d9ff"/><path d="M440.7 348.1h4.2v4.2h-4.2z" fill="#00d6ff"/><path d="M444.7 348.1h4.2v4.2h-4.2z" fill="#00d3ff"/><path d="M448.7 348.1h4.2v4.2h-4.2z" fill="#00d0ff"/><path d="M452.7 348.1h4.2v4.2h-4.2z" fill="#00ccff"/><path d="M456.7 348.1h4.2v4.2h-4.2z" fill="#00c7ff"/><path d="M460.7 348.1h4.2v4.2h-4.2z" fill="#00baff"/><path d="M464.7 348.1h4.2v4.2h-4.2z" fill="#3fb6ff"/><path d="M468.7 348.1h4.2v4.2h-4.2z" fill="#63b4ff"/><path d="M472.7 348.1h4.2v4.2h-4.2z" fill="#80b2ff"/><path d="M476.7 348.1h4.2v4.2h-4.2z" fill="#98afff"/><path d="M480.7 348.1h4.2v4.2h-4.2z" fill="#afadff"/><path d="M484.7 348.1h4.2v4.2h-4.2z" fill="#c4aaff"/><path d="M488.7 348.1h4.2v4.2h-4.2z" fill="#d7a7ff"/><path d="M492.7 348.1h4.2v4.2h-4.2z" fill="#eba4ff"/><path d="M496.7 348.1h4.2v4.2h-4.2z" fill="#fda0ff"/><path d="M500.7 348.1h4.2v4.2h-4.2z" fill="#ff92ef"/><path d="M504.7 348.1h4.2v4.2h-4.2z" fill="#ff84e0"/><path d="M508.7 348.1h4.2v4.2h-4.2z" fill="#ff78d3"/><path d="M512.7 348.1h4.2v4.2h-4.2z" fill="#ff6cc6"/><path d="M516.7 348.1h4.2v4.2h-4.2z" fill="#ff61bb"/><path d="M520.7 348.1h4.2v4.2h-4.2z" fill="#ff56b1"/><path d="M524.7 348.1h4.2v4.2h-4.2z" fill="#ff4ca7"/><path d="M528.7 348.1h4.2v4.2h-4.2z" fill="#ff429e"/><path d="M532.7 348.1h4.2v4.2h-4.2z" fill="#ff3896"/><path d="M536.7 348.1h4.2v4.2h-4.2z" fill="#ff2e8e"/><path d="M540.7 348.1h4.2v4.2h-4.2z" fill="#ff2387"/><path d="M544.7 348.1h4.2v4.2h-4.2z" fill="#ff1780"/><path d="M548.7 348.1h4.2v4.2h-4.2z" fill="#ff0979"/><path d="M552.7 348.1h4.2v4.2h-4.2z" fill="#ff0078"/><path d="M556.7 348.1h4.2v4.2h-4.2z" fill="#ff0080"/><path d="M560.7 348.1h4.2v4.2h-4.2z" fill="#ff007d"/><path d="M564.7 348.1h4.2v4.2h-4.2z" fill="#ff0079"/><path d="M568.7 348.1h4.2v4.2h-4.2z" fill="#ff0076"/><path d="M572.7 348.1h4.2v4.2h-4.2z" fill="#ff0073"/><path d="M576.7 348.1h4.2v4.2h-4.2z" fill="#ff0070"/><path d="M580.7 348.1h4.2v4.2h-4.2z" fill="#ff006e"/><path d="M584.7 348.1h4.2v4.2h-4.2z" fill="#ff006b"/><path d="M588.7 348.1h4.2v4.2h-4.2z" fill="#ff0069"/><path d="M592.7 348.1h4.2v4.2h-4.2z" fill="#ff0067"/><path d="M596.7 348.1h4.2v4.2h-4.2z" fill="#ff0064"/><path d="M600.7 348.1h4.2v4.2h-4.2z" fill="#ff0062"/><path d="M604.7 348.1h4.2v4.2h-4.2z" fill="#ff0060"/><path d="M608.7 348.1h4.2v4.2h-4.2z" fill="#ff005e"/><path d="M612.7 348.1h4.2v4.2h-4.2z" fill="#ff005c"/><path d="M616.7 348.1h4.2v4.2h-4.2z" fill="#ff005b"/><path d="M620.7 348.1h4.2v4.2h-4.2z" fill="#ff0059"/><path d="M624.7 348.1h4.2v4.2h-4.2z" fill="#ff0057"/><path d="M628.7 348.1h4.2v4.2h-4.2z" fill="#ff0055"/><path d="M632.7 348.1h4.2v4.2h-4.2z" fill="#ff0054"/><path d="M636.7 348.1h4.2v4.2h-4.2z" fill="#ff0052"/><path d="M404.7 352.1h4.2v4.2h-4.2z" fill="#00e0ff"/><path d="M408.7 352.1h4.2v4.2h-4.2z" fill="#00dfff"/><path d="M412.7 352.1h4.2v4.2h-4.2z" fill="#00ddff"/><path d="M416.7 352.1h4.2v4.2h-4.2z" fill="#00dcff"/><path d="M420.7 352.1h4.2v4.2h-4.2z" fill="#00daff"/><path d="M424.7 352.1h4.2v4.2h-4.2z" fill="#00d8ff"/><path d="M428.7 352.1h4.2v4.2h-4.2z" fill="#00d6ff"/><path d="M432.7 352.1h4.2v4.2h-4.2z" fill="#00d3ff"/><path d="M436.7 352.1h4.2v4.2h-4.2z" fill="#00d0ff"/><path d="M440.7 352.1h4.2v4.2h-4.2z" fill="#00cdff"/><path d="M444.7 352.1h4.2v4.2h-4.2z" fill="#00c9ff"/><path d="M448.7 352.1h4.2v4.2h-4.2z" fill="#00c5ff"/><path d="M452.7 352.1h4.2v4.2h-4.2z" fill="#00c0ff"/><path d="M456.7 352.1h4.2v4.2h-4.2z" fill="#00b9ff"/><path d="M460.7 352.1h4.2v4.2h-4.2z" fill="#1ea9ff"/><path d="M464.7 352.1h4.2v4.2h-4.2z" fill="#4ca7ff"/><path d="M468.7 352.1h4.2v4.2h-4.2z" fill="#6ba4ff"/><path d="M472.7 352.1h4.2v4.2h-4.2z" fill="#86a2ff"/><path d="M476.7 352.1h4.2v4.2h-4.2z" fill="#9d9fff"/><path d="M480.7 352.1h4.2v4.2h-4.2z" fill="#b29bff"/><path d="M484.7 352.1h4.2v4.2h-4.2z" fill="#c598ff"/><path d="M488.7 352.1h4.2v4.2h-4.2z" fill="#d894ff"/><path d="M492.7 352.1h4.2v4.2h-4.2z" fill="#ea90ff"/><path d="M496.7 352.1h4.2v4.2h-4.2z" fill="#fc8cff"/><path d="M500.7 352.1h4.2v4.2h-4.2z" fill="#ff7ff1"/><path d="M504.7 352.1h4.2v4.2h-4.2z" fill="#ff72e2"/><path d="M508.7 352.1h4.2v4.2h-4.2z" fill="#ff65d5"/><path d="M512.7 352.1h4.2v4.2h-4.2z" fill="#ff59c9"/><path d="M516.7 352.1h4.2v4.2h-4.2z" fill="#ff4ebe"/><path d="M520.7 352.1h4.2v4.2h-4.2z" fill="#ff43b4"/><path d="M524.7 352.1h4.2v4.2h-4.2z" fill="#ff38ab"/><path d="M528.7 352.1h4.2v4.2h-4.2z" fill="#ff2ca2"/><path d="M532.7 352.1h4.2v4.2h-4.2z" fill="#ff209a"/><path d="M536.7 352.1h4.2v4.2h-4.2z" fill="#ff1392"/><path d="M540.7 352.1h4.2v4.2h-4.2z" fill="#ff028b"/><path d="M544.7 352.1h4.2v4.2h-4.2z" fill="#ff0094"/><path d="M548.7 352.1h4.2v4.2h-4.2z" fill="#ff0090"/><path d="M552.7 352.1h4.2v4.2h-4.2z" fill="#ff008c"/><path d="M556.7 352.1h4.2v4.2h-4.2z" fill="#ff0088"/><path d="M560.7 352.1h4.2v4.2h-4.2z" fill="#ff0084"/><path d="M564.7 352.1h4.2v4.2h-4.2z" fill="#ff0081"/><path d="M568.7 352.1h4.2v4.2h-4.2z" fill="#ff007e"/><path d="M572.7 352.1h4.2v4.2h-4.2z" fill="#ff007b"/><path d="M576.7 352.1h4.2v4.2h-4.2z" fill="#ff0078"/><path d="M580.7 352.1h4.2v4.2h-4.2z" fill="#ff0076"/><path d="M584.7 352.1h4.2v4.2h-4.2z" fill="#ff0073"/><path d="M588.7 352.1h4.2v4.2h-4.2z" fill="#ff0071"/><path d="M592.7 352.1h4.2v4.2h-4.2z" fill="#ff006e"/><path d="M596.7 352.1h4.2v4.2h-4.2z" fill="#ff006c"/><path d="M600.7 352.1h4.2v4.2h-4.2z" fill="#ff006a"/><path d="M604.7 352.1h4.2v4.2h-4.2z" fill="#ff0068"/><path d="M608.7 352.1h4.2v4.2h-4.2z" fill="#ff0066"/><path d="M612.7 352.1h4.2v4.2h-4.2z" fill="#ff0064"/><path d="M616.7 352.1h4.2v4.2h-4.2z" fill="#ff0062"/><path d="M620.7 352.1h4.2v4.2h-4.2z" fill="#ff0061"/><path d="M624.7 352.1h4.2v4.2h-4.2z" fill="#ff005f"/><path d="M628.7 352.1h4.2v4.2h-4.2z" fill="#ff005d"/><path d="M632.7 352.1h4.2v4.2h-4.2z" fill="#ff005c"/><path d="M636.7 352.1h4.2v4.2h-4.2z" fill="#ff005a"/><path d="M408.7 356.1h4.2v4.2h-4.2z" fill="#00d9ff"/><path d="M412.7 356.1h4.2v4.2h-4.2z" fill="#00d7ff"/><path d="M416.7 356.1h4.2v4.2h-4.2z" fill="#00d5ff"/><path d="M420.7 356.1h4.2v4.2h-4.2z" fill="#00d3ff"/><path d="M424.7 356.1h4.2v4.2h-4.2z" fill="#00d0ff"/><path d="M428.7 356.1h4.2v4.2h-4.2z" fill="#00ceff"/><path d="M432.7 356.1h4.2v4.2h-4.2z" fill="#00cbff"/><path d="M436.7 356.1h4.2v4.2h-4.2z" fill="#00c7ff"/><path d="M440.7 356.1h4.2v4.2h-4.2z" fill="#00c3ff"/><path d="M444.7 356.1h4.2v4.2h-4.2z" fill="#00bfff"/><path d="M448.7 356.1h4.2v4.2h-4.2z" fill="#00b9ff"/><path d="M452.7 356.1h4.2v4.2h-4.2z" fill="#00b3ff"/><path d="M456.7 356.1h4.2v4.2h-4.2z" fill="#00abff"/><path d="M460.7 356.1h4.2v4.2h-4.2z" fill="#319aff"/><path d="M464.7 356.1h4.2v4.2h-4.2z" fill="#5697ff"/><path d="M468.7 356.1h4.2v4.2h-4.2z" fill="#7394ff"/><path d="M472.7 356.1h4.2v4.2h-4.2z" fill="#8b91ff"/><path d="M476.7 356.1h4.2v4.2h-4.2z" fill="#a08dff"/><path d="M480.7 356.1h4.2v4.2h-4.2z" fill="#b489ff"/><path d="M484.7 356.1h4.2v4.2h-4.2z" fill="#c785ff"/><path d="M488.7 356.1h4.2v4.2h-4.2z" fill="#d981ff"/><path d="M492.7 356.1h4.2v4.2h-4.2z" fill="#ea7cff"/><path d="M496.7 356.1h4.2v4.2h-4.2z" fill="#fb76ff"/><path d="M500.7 356.1h4.2v4.2h-4.2z" fill="#ff6af3"/><path d="M504.7 356.1h4.2v4.2h-4.2z" fill="#ff5de4"/><path d="M508.7 356.1h4.2v4.2h-4.2z" fill="#ff50d7"/><path d="M512.7 356.1h4.2v4.2h-4.2z" fill="#ff44cc"/><path d="M516.7 356.1h4.2v4.2h-4.2z" fill="#ff37c1"/><path d="M520.7 356.1h4.2v4.2h-4.2z" fill="#ff2bb7"/><path d="M524.7 356.1h4.2v4.2h-4.2z" fill="#ff1dae"/><path d="M528.7 356.1h4.2v4.2h-4.2z" fill="#ff0ea6"/><path d="M532.7 356.1h4.2v4.2h-4.2z" fill="#ff00a0"/><path d="M536.7 356.1h4.2v4.2h-4.2z" fill="#ff00a4"/><path d="M540.7 356.1h4.2v4.2h-4.2z" fill="#ff009f"/><path d="M544.7 356.1h4.2v4.2h-4.2z" fill="#ff009b"/><path d="M548.7 356.1h4.2v4.2h-4.2z" fill="#ff0097"/><path d="M552.7 356.1h4.2v4.2h-4.2z" fill="#ff0093"/><path d="M556.7 356.1h4.2v4.2h-4.2z" fill="#ff008f"/><path d="M560.7 356.1h4.2v4.2h-4.2z" fill="#ff008b"/><path d="M564.7 356.1h4.2v4.2h-4.2z" fill="#ff0088"/><path d="M568.7 356.1h4.2v4.2h-4.2z" fill="#ff0085"/><path d="M572.7 356.1h4.2v4.2h-4.2z" fill="#ff0082"/><path d="M576.7 356.1h4.2v4.2h-4.2z" fill="#ff007f"/><path d="M580.7 356.1h4.2v4.2h-4.2z" fill="#ff007d"/><path d="M584.7 356.1h4.2v4.2h-4.2z" fill="#ff007a"/><path d="M588.7 356.1h4.2v4.2h-4.2z" fill="#ff0078"/><path d="M592.7 356.1h4.2v4.2h-4.2z" fill="#ff0075"/><path d="M596.7 356.1h4.2v4.2h-4.2z" fill="#ff0073"/><path d="M600.7 356.1h4.2v4.2h-4.2z" fill="#ff0071"/><path d="M604.7 356.1h4.2v4.2h-4.2z" fill="#ff006f"/><path d="M608.7 356.1h4.2v4.2h-4.2z" fill="#ff006d"/><path d="M612.7 356.1h4.2v4.2h-4.2z" fill="#ff006b"/><path d="M616.7 356.1h4.2v4.2h-4.2z" fill="#ff0069"/><path d="M620.7 356.1h4.2v4.2h-4.2z" fill="#ff0068"/><path d="M624.7 356.1h4.2v4.2h-4.2z" fill="#ff0066"/><path d="M628.7 356.1h4.2v4.2h-4.2z" fill="#ff0064"/><path d="M408.7 360.1h4.2v4.2h-4.2z" fill="#00d3ff"/><path d="M412.7 360.1h4.2v4.2h-4.2z" fill="#00d1ff"/><path d="M416.7 360.1h4.2v4.2h-4.2z" fill="#00ceff"/><path d="M420.7 360.1h4.2v4.2h-4.2z" fill="#00ccff"/><path d="M424.7 360.1h4.2v4.2h-4.2z" fill="#00c9ff"/><path d="M428.7 360.1h4.2v4.2h-4.2z" fill="#00c5ff"/><path d="M432.7 360.1h4.2v4.2h-4.2z" fill="#00c2ff"/><path d="M436.7 360.1h4.2v4.2h-4.2z" fill="#00beff"/><path d="M440.7 360.1h4.2v4.2h-4.2z" fill="#00b9ff"/><path d="M444.7 360.1h4.2v4.2h-4.2z" fill="#00b3ff"/><path d="M448.7 360.1h4.2v4.2h-4.2z" fill="#00adff"/><path d="M452.7 360.1h4.2v4.2h-4.2z" fill="#00a5ff"/><path d="M456.7 360.1h4.2v4.2h-4.2z" fill="#0a8eff"/><path d="M460.7 360.1h4.2v4.2h-4.2z" fill="#3f8bff"/><path d="M464.7 360.1h4.2v4.2h-4.2z" fill="#5f88ff"/><path d="M468.7 360.1h4.2v4.2h-4.2z" fill="#7984ff"/><path d="M472.7 360.1h4.2v4.2h-4.2z" fill="#8f80ff"/><path d="M476.7 360.1h4.2v4.2h-4.2z" fill="#a37bff"/><path d="M480.7 360.1h4.2v4.2h-4.2z" fill="#b677ff"/><path d="M484.7 360.1h4.2v4.2h-4.2z" fill="#c872ff"/><path d="M488.7 360.1h4.2v4.2h-4.2z" fill="#d96cff"/><path d="M492.7 360.1h4.2v4.2h-4.2z" fill="#ea66ff"/><path d="M496.7 360.1h4.2v4.2h-4.2z" fill="#fa5fff"/><path d="M500.7 360.1h4.2v4.2h-4.2z" fill="#ff53f4"/><path d="M504.7 360.1h4.2v4.2h-4.2z" fill="#ff45e6"/><path d="M508.7 360.1h4.2v4.2h-4.2z" fill="#ff37da"/><path d="M512.7 360.1h4.2v4.2h-4.2z" fill="#ff29ce"/><path d="M516.7 360.1h4.2v4.2h-4.2z" fill="#ff19c4"/><path d="M520.7 360.1h4.2v4.2h-4.2z" fill="#ff06ba"/><path d="M524.7 360.1h4.2v4.2h-4.2z" fill="#ff00bb"/><path d="M528.7 360.1h4.2v4.2h-4.2z" fill="#ff00b5"/><path d="M532.7 360.1h4.2v4.2h-4.2z" fill="#ff00af"/><path d="M536.7 360.1h4.2v4.2h-4.2z" fill="#ff00aa"/><path d="M540.7 360.1h4.2v4.2h-4.2z" fill="#ff00a5"/><path d="M544.7 360.1h4.2v4.2h-4.2z" fill="#ff00a1"/><path d="M548.7 360.1h4.2v4.2h-4.2z" fill="#ff009d"/><path d="M552.7 360.1h4.2v4.2h-4.2z" fill="#ff0099"/><path d="M556.7 360.1h4.2v4.2h-4.2z" fill="#ff0095"/><path d="M560.7 360.1h4.2v4.2h-4.2z" fill="#ff0092"/><path d="M564.7 360.1h4.2v4.2h-4.2z" fill="#ff008e"/><path d="M568.7 360.1h4.2v4.2h-4.2z" fill="#ff008b"/><path d="M572.7 360.1h4.2v4.2h-4.2z" fill="#ff0088"/><path d="M576.7 360.1h4.2v4.2h-4.2z" fill="#ff0085"/><path d="M580.7 360.1h4.2v4.2h-4.2z" fill="#ff0083"/><path d="M584.7 360.1h4.2v4.2h-4.2z" fill="#ff0080"/><path d="M588.7 360.1h4.2v4.2h-4.2z" fill="#ff007e"/><path d="M592.7 360.1h4.2v4.2h-4.2z" fill="#ff007c"/><path d="M596.7 360.1h4.2v4.2h-4.2z" fill="#ff0079"/><path d="M600.7 360.1h4.2v4.2h-4.2z" fill="#ff0077"/><path d="M604.7 360.1h4.2v4.2h-4.2z" fill="#ff0075"/><path d="M608.7 360.1h4.2v4.2h-4.2z" fill="#ff0073"/><path d="M612.7 360.1h4.2v4.2h-4.2z" fill="#ff0071"/><path d="M616.7 360.1h4.2v4.2h-4.2z" fill="#ff006f"/><path d="M408.7 364.1h4.2v4.2h-4.2z" fill="#00ccff"/><path d="M412.7 364.1h4.2v4.2h-4.2z" fill="#00caff"/><path d="M416.7 364.1h4.2v4.2h-4.2z" fill="#00c7ff"/><path d="M420.7 364.1h4.2v4.2h-4.2z" fill="#00c4ff"/><path d="M424.7 364.1h4.2v4.2h-4.2z" fill="#00c1ff"/><path d="M428.7 364.1h4.2v4.2h-4.2z" fill="#00bdff"/><path d="M432.7 364.1h4.2v4.2h-4.2z" fill="#00b9ff"/><path d="M436.7 364.1h4.2v4.2h-4.2z" fill="#00b4ff"/><path d="M440.7 364.1h4.2v4.2h-4.2z" fill="#00aeff"/><path d="M444.7 364.1h4.2v4.2h-4.2z" fill="#00a7ff"/><path d="M448.7 364.1h4.2v4.2h-4.2z" fill="#00a0ff"/><path d="M452.7 364.1h4.2v4.2h-4.2z" fill="#0096ff"/><path d="M456.7 364.1h4.2v4.2h-4.2z" fill="#227fff"/><path d="M460.7 364.1h4.2v4.2h-4.2z" fill="#4a7bff"/><path d="M464.7 364.1h4.2v4.2h-4.2z" fill="#6777ff"/><path d="M468.7 364.1h4.2v4.2h-4.2z" fill="#7e73ff"/><path d="M472.7 364.1h4.2v4.2h-4.2z" fill="#936eff"/><path d="M476.7 364.1h4.2v4.2h-4.2z" fill="#a669ff"/><path d="M480.7 364.1h4.2v4.2h-4.2z" fill="#b863ff"/><path d="M484.7 364.1h4.2v4.2h-4.2z" fill="#c95cff"/><path d="M488.7 364.1h4.2v4.2h-4.2z" fill="#da55ff"/><path d="M492.7 364.1h4.2v4.2h-4.2z" fill="#ea4eff"/><path d="M496.7 364.1h4.2v4.2h-4.2z" fill="#f944ff"/><path d="M500.7 364.1h4.2v4.2h-4.2z" fill="#ff37f6"/><path d="M504.7 364.1h4.2v4.2h-4.2z" fill="#ff26e8"/><path d="M508.7 364.1h4.2v4.2h-4.2z" fill="#ff14dc"/><path d="M512.7 364.1h4.2v4.2h-4.2z" fill="#ff00d2"/><path d="M516.7 364.1h4.2v4.2h-4.2z" fill="#ff00ce"/><path d="M520.7 364.1h4.2v4.2h-4.2z" fill="#ff00c7"/><path d="M524.7 364.1h4.2v4.2h-4.2z" fill="#ff00c0"/><path d="M528.7 364.1h4.2v4.2h-4.2z" fill="#ff00ba"/><path d="M532.7 364.1h4.2v4.2h-4.2z" fill="#ff00b4"/><path d="M536.7 364.1h4.2v4.2h-4.2z" fill="#ff00af"/><path d="M540.7 364.1h4.2v4.2h-4.2z" fill="#ff00ab"/><path d="M544.7 364.1h4.2v4.2h-4.2z" fill="#ff00a6"/><path d="M548.7 364.1h4.2v4.2h-4.2z" fill="#ff00a2"/><path d="M552.7 364.1h4.2v4.2h-4.2z" fill="#ff009e"/><path d="M556.7 364.1h4.2v4.2h-4.2z" fill="#ff009a"/><path d="M560.7 364.1h4.2v4.2h-4.2z" fill="#ff0097"/><path d="M564.7 364.1h4.2v4.2h-4.2z" fill="#ff0094"/><path d="M568.7 364.1h4.2v4.2h-4.2z" fill="#ff0091"/><path d="M572.7 364.1h4.2v4.2h-4.2z" fill="#ff008e"/><path d="M576.7 364.1h4.2v4.2h-4.2z" fill="#ff008b"/><path d="M580.7 364.1h4.2v4.2h-4.2z" fill="#ff0088"/><path d="M584.7 364.1h4.2v4.2h-4.2z" fill="#ff0086"/><path d="M588.7 364.1h4.2v4.2h-4.2z" fill="#ff0083"/><path d="M592.7 364.1h4.2v4.2h-4.2z" fill="#ff0081"/><path d="M596.7 364.1h4.2v4.2h-4.2z" fill="#ff007f"/><path d="M600.7 364.1h4.2v4.2h-4.2z" fill="#ff007d"/><path d="M604.7 364.1h4.2v4.2h-4.2z" fill="#ff007b"/><path d="M412.7 368.1h4.2v4.2h-4.2z" fill="#00c3ff"/><path d="M416.7 368.1h4.2v4.2h-4.2z" fill="#00c0ff"/><path d="M420.7 368.1h4.2v4.2h-4.2z" fill="#00bcff"/><path d="M424.7 368.1h4.2v4.2h-4.2z" fill="#00b9ff"/><path d="M428.7 368.1h4.2v4.2h-4.2z" fill="#00b4ff"/><path d="M432.7 368.1h4.2v4.2h-4.2z" fill="#00afff"/><path d="M436.7 368.1h4.2v4.2h-4.2z" fill="#00a9ff"/><path d="M440.7 368.1h4.2v4.2h-4.2z" fill="#00a3ff"/><path d="M444.7 368.1h4.2v4.2h-4.2z" fill="#009bff"/><path d="M448.7 368.1h4.2v4.2h-4.2z" fill="#0091ff"/><path d="M452.7 368.1h4.2v4.2h-4.2z" fill="#007fff"/><path d="M456.7 368.1h4.2v4.2h-4.2z" fill="#326fff"/><path d="M460.7 368.1h4.2v4.2h-4.2z" fill="#546aff"/><path d="M464.7 368.1h4.2v4.2h-4.2z" fill="#6d66ff"/><path d="M468.7 368.1h4.2v4.2h-4.2z" fill="#8360ff"/><path d="M472.7 368.1h4.2v4.2h-4.2z" fill="#975aff"/><path d="M476.7 368.1h4.2v4.2h-4.2z" fill="#a954ff"/><path d="M480.7 368.1h4.2v4.2h-4.2z" fill="#ba4cff"/><path d="M484.7 368.1h4.2v4.2h-4.2z" fill="#cb44ff"/><path d="M488.7 368.1h4.2v4.2h-4.2z" fill="#da3bff"/><path d="M492.7 368.1h4.2v4.2h-4.2z" fill="#ea30ff"/><path d="M496.7 368.1h4.2v4.2h-4.2z" fill="#f921ff"/><path d="M500.7 368.1h4.2v4.2h-4.2z" fill="#ff0cf7"/><path d="M504.7 368.1h4.2v4.2h-4.2z" fill="#ff00ec"/><path d="M508.7 368.1h4.2v4.2h-4.2z" fill="#ff00e3"/><path d="M512.7 368.1h4.2v4.2h-4.2z" fill="#ff00da"/><path d="M516.7 368.1h4.2v4.2h-4.2z" fill="#ff00d2"/><path d="M520.7 368.1h4.2v4.2h-4.2z" fill="#ff00cb"/><path d="M524.7 368.1h4.2v4.2h-4.2z" fill="#ff00c4"/><path d="M528.7 368.1h4.2v4.2h-4.2z" fill="#ff00be"/><path d="M532.7 368.1h4.2v4.2h-4.2z" fill="#ff00b9"/><path d="M536.7 368.1h4.2v4.2h-4.2z" fill="#ff00b4"/><path d="M540.7 368.1h4.2v4.2h-4.2z" fill="#ff00af"/><path d="M544.7 368.1h4.2v4.2h-4.2z" fill="#ff00ab"/><path d="M548.7 368.1h4.2v4.2h-4.2z" fill="#ff00a7"/><path d="M552.7 368.1h4.2v4.2h-4.2z" fill="#ff00a3"/><path d="M556.7 368.1h4.2v4.2h-4.2z" fill="#ff009f"/><path d="M560.7 368.1h4.2v4.2h-4.2z" fill="#ff009c"/><path d="M564.7 368.1h4.2v4.2h-4.2z" fill="#ff0099"/><path d="M568.7 368.1h4.2v4.2h-4.2z" fill="#ff0096"/><path d="M572.7 368.1h4.2v4.2h-4.2z" fill="#ff0093"/><path d="M576.7 368.1h4.2v4.2h-4.2z" fill="#ff0090"/><path d="M580.7 368.1h4.2v4.2h-4.2z" fill="#ff008d"/><path d="M584.7 368.1h4.2v4.2h-4.2z" fill="#ff008b"/><path d="M588.7 368.1h4.2v4.2h-4.2z" fill="#ff0088"/><path d="M592.7 368.1h4.2v4.2h-4.2z" fill="#ff0086"/><path d="M412.7 372.1h4.2v4.2h-4.2z" fill="#00bcff"/><path d="M416.7 372.1h4.2v4.2h-4.2z" fill="#00b8ff"/><path d="M420.7 372.1h4.2v4.2h-4.2z" fill="#00b5ff"/><path d="M424.7 372.1h4.2v4.2h-4.2z" fill="#00b0ff"/><path d="M428.7 372.1h4.2v4.2h-4.2z" fill="#00abff"/><path d="M432.7 372.1h4.2v4.2h-4.2z" fill="#00a5ff"/><path d="M436.7 372.1h4.2v4.2h-4.2z" fill="#009fff"/><path d="M440.7 372.1h4.2v4.2h-4.2z" fill="#0097ff"/><path d="M444.7 372.1h4.2v4.2h-4.2z" fill="#008dff"/><path d="M448.7 372.1h4.2v4.2h-4.2z" fill="#0081ff"/><path d="M452.7 372.1h4.2v4.2h-4.2z" fill="#1363ff"/><path d="M456.7 372.1h4.2v4.2h-4.2z" fill="#3f5eff"/><path d="M460.7 372.1h4.2v4.2h-4.2z" fill="#5c58ff"/><path d="M464.7 372.1h4.2v4.2h-4.2z" fill="#7352ff"/><path d="M468.7 372.1h4.2v4.2h-4.2z" fill="#884cff"/><path d="M472.7 372.1h4.2v4.2h-4.2z" fill="#9a44ff"/><path d="M476.7 372.1h4.2v4.2h-4.2z" fill="#ac3cff"/><path d="M480.7 372.1h4.2v4.2h-4.2z" fill="#bc32ff"/><path d="M484.7 372.1h4.2v4.2h-4.2z" fill="#cc26ff"/><path d="M488.7 372.1h4.2v4.2h-4.2z" fill="#db16ff"/><path d="M492.7 372.1h4.2v4.2h-4.2z" fill="#ea00ff"/><path d="M496.7 372.1h4.2v4.2h-4.2z" fill="#f900ff"/><path d="M500.7 372.1h4.2v4.2h-4.2z" fill="#ff00f9"/><path d="M504.7 372.1h4.2v4.2h-4.2z" fill="#ff00ee"/><path d="M508.7 372.1h4.2v4.2h-4.2z" fill="#ff00e5"/><path d="M512.7 372.1h4.2v4.2h-4.2z" fill="#ff00dd"/><path d="M516.7 372.1h4.2v4.2h-4.2z" fill="#ff00d5"/><path d="M520.7 372.1h4.2v4.2h-4.2z" fill="#ff00ce"/><path d="M524.7 372.1h4.2v4.2h-4.2z" fill="#ff00c8"/><path d="M528.7 372.1h4.2v4.2h-4.2z" fill="#ff00c2"/><path d="M532.7 372.1h4.2v4.2h-4.2z" fill="#ff00bd"/><path d="M536.7 372.1h4.2v4.2h-4.2z" fill="#ff00b8"/><path d="M540.7 372.1h4.2v4.2h-4.2z" fill="#ff00b3"/><path d="M544.7 372.1h4.2v4.2h-4.2z" fill="#ff00af"/><path d="M548.7 372.1h4.2v4.2h-4.2z" fill="#ff00ab"/><path d="M552.7 372.1h4.2v4.2h-4.2z" fill="#ff00a7"/><path d="M556.7 372.1h4.2v4.2h-4.2z" fill="#ff00a4"/><path d="M560.7 372.1h4.2v4.2h-4.2z" fill="#ff00a0"/><path d="M564.7 372.1h4.2v4.2h-4.2z" fill="#ff009d"/><path d="M568.7 372.1h4.2v4.2h-4.2z" fill="#ff009a"/><path d="M572.7 372.1h4.2v4.2h-4.2z" fill="#ff0097"/><path d="M576.7 372.1h4.2v4.2h-4.2z" fill="#ff0095"/><path d="M580.7 372.1h4.2v4.2h-4.2z" fill="#ff0092"/><path d="M412.7 376.1h4.2v4.2h-4.2z" fill="#00b5ff"/><path d="M416.7 376.1h4.2v4.2h-4.2z" fill="#00b1ff"/><path d="M420.7 376.1h4.2v4.2h-4.2z" fill="#00acff"/><path d="M424.7 376.1h4.2v4.2h-4.2z" fill="#00a7ff"/><path d="M428.7 376.1h4.2v4.2h-4.2z" fill="#00a1ff"/><path d="M432.7 376.1h4.2v4.2h-4.2z" fill="#009bff"/><path d="M436.7 376.1h4.2v4.2h-4.2z" fill="#0093ff"/><path d="M440.7 376.1h4.2v4.2h-4.2z" fill="#008aff"/><path d="M444.7 376.1h4.2v4.2h-4.2z" fill="#007eff"/><path d="M448.7 376.1h4.2v4.2h-4.2z" fill="#006fff"/><path d="M452.7 376.1h4.2v4.2h-4.2z" fill="#2651ff"/><path d="M456.7 376.1h4.2v4.2h-4.2z" fill="#494bff"/><path d="M460.7 376.1h4.2v4.2h-4.2z" fill="#6344ff"/><path d="M464.7 376.1h4.2v4.2h-4.2z" fill="#783cff"/><path d="M468.7 376.1h4.2v4.2h-4.2z" fill="#8c33ff"/><path d="M472.7 376.1h4.2v4.2h-4.2z" fill="#9d29ff"/><path d="M476.7 376.1h4.2v4.2h-4.2z" fill="#ae1bff"/><path d="M480.7 376.1h4.2v4.2h-4.2z" fill="#be09ff"/><path d="M484.7 376.1h4.2v4.2h-4.2z" fill="#d300ff"/><path d="M488.7 376.1h4.2v4.2h-4.2z" fill="#e000ff"/><path d="M492.7 376.1h4.2v4.2h-4.2z" fill="#ed00ff"/><path d="M496.7 376.1h4.2v4.2h-4.2z" fill="#f900ff"/><path d="M500.7 376.1h4.2v4.2h-4.2z" fill="#ff00fa"/><path d="M504.7 376.1h4.2v4.2h-4.2z" fill="#ff00f0"/><path d="M508.7 376.1h4.2v4.2h-4.2z" fill="#ff00e7"/><path d="M512.7 376.1h4.2v4.2h-4.2z" fill="#ff00df"/><path d="M516.7 376.1h4.2v4.2h-4.2z" fill="#ff00d8"/><path d="M520.7 376.1h4.2v4.2h-4.2z" fill="#ff00d1"/><path d="M524.7 376.1h4.2v4.2h-4.2z" fill="#ff00cb"/><path d="M528.7 376.1h4.2v4.2h-4.2z" fill="#ff00c6"/><path d="M532.7 376.1h4.2v4.2h-4.2z" fill="#ff00c1"/><path d="M536.7 376.1h4.2v4.2h-4.2z" fill="#ff00bc"/><path d="M540.7 376.1h4.2v4.2h-4.2z" fill="#ff00b7"/><path d="M544.7 376.1h4.2v4.2h-4.2z" fill="#ff00b3"/><path d="M548.7 376.1h4.2v4.2h-4.2z" fill="#ff00af"/><path d="M552.7 376.1h4.2v4.2h-4.2z" fill="#ff00ab"/><path d="M556.7 376.1h4.2v4.2h-4.2z" fill="#ff00a8"/><path d="M560.7 376.1h4.2v4.2h-4.2z" fill="#ff00a5"/><path d="M564.7 376.1h4.2v4.2h-4.2z" fill="#ff00a1"/><path d="M568.7 376.1h4.2v4.2h-4.2z" fill="#ff009e"/><path d="M416.7 380.1h4.2v4.2h-4.2z" fill="#00a9ff"/><path d="M420.7 380.1h4.2v4.2h-4.2z" fill="#00a4ff"/><path d="M424.7 380.1h4.2v4.2h-4.2z" fill="#009eff"/><path d="M428.7 380.1h4.2v4.2h-4.2z" fill="#0097ff"/><path d="M432.7 380.1h4.2v4.2h-4.2z" fill="#008fff"/><path d="M436.7 380.1h4.2v4.2h-4.2z" fill="#0086ff"/><path d="M440.7 380.1h4.2v4.2h-4.2z" fill="#007bff"/><path d="M444.7 380.1h4.2v4.2h-4.2z" fill="#006dff"/><path d="M448.7 380.1h4.2v4.2h-4.2z" fill="#0044ff"/><path d="M452.7 380.1h4.2v4.2h-4.2z" fill="#343dff"/><path d="M456.7 380.1h4.2v4.2h-4.2z" fill="#5135ff"/><path d="M460.7 380.1h4.2v4.2h-4.2z" fill="#692bff"/><path d="M464.7 380.1h4.2v4.2h-4.2z" fill="#7d20ff"/><path d="M468.7 380.1h4.2v4.2h-4.2z" fill="#8f11ff"/><path d="M472.7 380.1h4.2v4.2h-4.2z" fill="#a300ff"/><path d="M476.7 380.1h4.2v4.2h-4.2z" fill="#bb00ff"/><path d="M480.7 380.1h4.2v4.2h-4.2z" fill="#c900ff"/><path d="M484.7 380.1h4.2v4.2h-4.2z" fill="#d600ff"/><path d="M488.7 380.1h4.2v4.2h-4.2z" fill="#e200ff"/><path d="M492.7 380.1h4.2v4.2h-4.2z" fill="#ed00ff"/><path d="M496.7 380.1h4.2v4.2h-4.2z" fill="#f800ff"/><path d="M500.7 380.1h4.2v4.2h-4.2z" fill="#ff00fb"/><path d="M504.7 380.1h4.2v4.2h-4.2z" fill="#ff00f2"/><path d="M508.7 380.1h4.2v4.2h-4.2z" fill="#ff00e9"/><path d="M512.7 380.1h4.2v4.2h-4.2z" fill="#ff00e2"/><path d="M516.7 380.1h4.2v4.2h-4.2z" fill="#ff00db"/><path d="M520.7 380.1h4.2v4.2h-4.2z" fill="#ff00d4"/><path d="M524.7 380.1h4.2v4.2h-4.2z" fill="#ff00ce"/><path d="M528.7 380.1h4.2v4.2h-4.2z" fill="#ff00c9"/><path d="M532.7 380.1h4.2v4.2h-4.2z" fill="#ff00c4"/><path d="M536.7 380.1h4.2v4.2h-4.2z" fill="#ff00bf"/><path d="M540.7 380.1h4.2v4.2h-4.2z" fill="#ff00bb"/><path d="M544.7 380.1h4.2v4.2h-4.2z" fill="#ff00b7"/><path d="M548.7 380.1h4.2v4.2h-4.2z" fill="#ff00b3"/><path d="M552.7 380.1h4.2v4.2h-4.2z" fill="#ff00af"/><path d="M556.7 380.1h4.2v4.2h-4.2z" fill="#ff00ac"/><path d="M416.7 384.1h4.2v4.2h-4.2z" fill="#00a0ff"/><path d="M420.7 384.1h4.2v4.2h-4.2z" fill="#009bff"/><path d="M424.7 384.1h4.2v4.2h-4.2z" fill="#0094ff"/><path d="M428.7 384.1h4.2v4.2h-4.2z" fill="#008cff"/><path d="M432.7 384.1h4.2v4.2h-4.2z" fill="#0083ff"/><path d="M436.7 384.1h4.2v4.2h-4.2z" fill="#0078ff"/><path d="M440.7 384.1h4.2v4.2h-4.2z" fill="#006aff"/><path d="M444.7 384.1h4.2v4.2h-4.2z" fill="#0058ff"/><path d="M448.7 384.1h4.2v4.2h-4.2z" fill="#192dff"/><path d="M452.7 384.1h4.2v4.2h-4.2z" fill="#3e23ff"/><path d="M456.7 384.1h4.2v4.2h-4.2z" fill="#5917ff"/><path d="M460.7 384.1h4.2v4.2h-4.2z" fill="#6f05ff"/><path d="M464.7 384.1h4.2v4.2h-4.2z" fill="#9200ff"/><path d="M468.7 384.1h4.2v4.2h-4.2z" fill="#a300ff"/><path d="M472.7 384.1h4.2v4.2h-4.2z" fill="#b200ff"/><path d="M476.7 384.1h4.2v4.2h-4.2z" fill="#bf00ff"/><path d="M480.7 384.1h4.2v4.2h-4.2z" fill="#cc00ff"/><path d="M484.7 384.1h4.2v4.2h-4.2z" fill="#d800ff"/><path d="M488.7 384.1h4.2v4.2h-4.2z" fill="#e300ff"/><path d="M492.7 384.1h4.2v4.2h-4.2z" fill="#ee00ff"/><path d="M496.7 384.1h4.2v4.2h-4.2z" fill="#f800ff"/><path d="M500.7 384.1h4.2v4.2h-4.2z" fill="#ff00fc"/><path d="M504.7 384.1h4.2v4.2h-4.2z" fill="#ff00f3"/><path d="M508.7 384.1h4.2v4.2h-4.2z" fill="#ff00eb"/><path d="M512.7 384.1h4.2v4.2h-4.2z" fill="#ff00e4"/><path d="M516.7 384.1h4.2v4.2h-4.2z" fill="#ff00dd"/><path d="M520.7 384.1h4.2v4.2h-4.2z" fill="#ff00d7"/><path d="M524.7 384.1h4.2v4.2h-4.2z" fill="#ff00d1"/><path d="M528.7 384.1h4.2v4.2h-4.2z" fill="#ff00cc"/><path d="M532.7 384.1h4.2v4.2h-4.2z" fill="#ff00c7"/><path d="M536.7 384.1h4.2v4.2h-4.2z" fill="#ff00c2"/><path d="M540.7 384.1h4.2v4.2h-4.2z" fill="#ff00be"/><path d="M544.7 384.1h4.2v4.2h-4.2z" fill="#ff00ba"/><path d="M420.7 388.1h4.2v4.2h-4.2z" fill="#0091ff"/><path d="M424.7 388.1h4.2v4.2h-4.2z" fill="#0089ff"/><path d="M428.7 388.1h4.2v4.2h-4.2z" fill="#0081ff"/><path d="M432.7 388.1h4.2v4.2h-4.2z" fill="#0076ff"/><path d="M436.7 388.1h4.2v4.2h-4.2z" fill="#0068ff"/><path d="M440.7 388.1h4.2v4.2h-4.2z" fill="#0056ff"/><path d="M444.7 388.1h4.2v4.2h-4.2z" fill="#003aff"/><path d="M448.7 388.1h4.2v4.2h-4.2z" fill="#280dff"/><path d="M452.7 388.1h4.2v4.2h-4.2z" fill="#4e00ff"/><path d="M456.7 388.1h4.2v4.2h-4.2z" fill="#7600ff"/><path d="M460.7 388.1h4.2v4.2h-4.2z" fill="#8a00ff"/><path d="M464.7 388.1h4.2v4.2h-4.2z" fill="#9a00ff"/><path d="M468.7 388.1h4.2v4.2h-4.2z" fill="#a900ff"/><path d="M472.7 388.1h4.2v4.2h-4.2z" fill="#b700ff"/><path d="M476.7 388.1h4.2v4.2h-4.2z" fill="#c300ff"/><path d="M480.7 388.1h4.2v4.2h-4.2z" fill="#cf00ff"/><path d="M484.7 388.1h4.2v4.2h-4.2z" fill="#da00ff"/><path d="M488.7 388.1h4.2v4.2h-4.2z" fill="#e400ff"/><path d="M492.7 388.1h4.2v4.2h-4.2z" fill="#ee00ff"/><path d="M496.7 388.1h4.2v4.2h-4.2z" fill="#f800ff"/><path d="M500.7 388.1h4.2v4.2h-4.2z" fill="#ff00fd"/><path d="M504.7 388.1h4.2v4.2h-4.2z" fill="#ff00f4"/><path d="M508.7 388.1h4.2v4.2h-4.2z" fill="#ff00ed"/><path d="M512.7 388.1h4.2v4.2h-4.2z" fill="#ff00e6"/><path d="M516.7 388.1h4.2v4.2h-4.2z" fill="#ff00df"/><path d="M520.7 388.1h4.2v4.2h-4.2z" fill="#ff00d9"/><path d="M524.7 388.1h4.2v4.2h-4.2z" fill="#ff00d4"/><path d="M528.7 388.1h4.2v4.2h-4.2z" fill="#ff00ce"/><path d="M532.7 388.1h4.2v4.2h-4.2z" fill="#ff00ca"/><path d="M424.7 392.1h4.2v4.2h-4.2z" fill="#007eff"/><path d="M428.7 392.1h4.2v4.2h-4.2z" fill="#0073ff"/><path d="M432.7 392.1h4.2v4.2h-4.2z" fill="#0066ff"/><path d="M436.7 392.1h4.2v4.2h-4.2z" fill="#0055ff"/><path d="M440.7 392.1h4.2v4.2h-4.2z" fill="#003bff"/><path d="M444.7 392.1h4.2v4.2h-4.2z" fill="#2b00ff"/><path d="M448.7 392.1h4.2v4.2h-4.2z" fill="#5400ff"/><path d="M452.7 392.1h4.2v4.2h-4.2z" fill="#6e00ff"/><path d="M456.7 392.1h4.2v4.2h-4.2z" fill="#8100ff"/><path d="M460.7 392.1h4.2v4.2h-4.2z" fill="#9200ff"/><path d="M464.7 392.1h4.2v4.2h-4.2z" fill="#a100ff"/><path d="M468.7 392.1h4.2v4.2h-4.2z" fill="#ae00ff"/><path d="M472.7 392.1h4.2v4.2h-4.2z" fill="#bb00ff"/><path d="M476.7 392.1h4.2v4.2h-4.2z" fill="#c600ff"/><path d="M480.7 392.1h4.2v4.2h-4.2z" fill="#d100ff"/><path d="M484.7 392.1h4.2v4.2h-4.2z" fill="#dc00ff"/><path d="M488.7 392.1h4.2v4.2h-4.2z" fill="#e500ff"/><path d="M492.7 392.1h4.2v4.2h-4.2z" fill="#ef00ff"/><path d="M496.7 392.1h4.2v4.2h-4.2z" fill="#f800ff"/><path d="M500.7 392.1h4.2v4.2h-4.2z" fill="#ff00fd"/><path d="M504.7 392.1h4.2v4.2h-4.2z" fill="#ff00f5"/><path d="M508.7 392.1h4.2v4.2h-4.2z" fill="#ff00ee"/><path d="M512.7 392.1h4.2v4.2h-4.2z" fill="#ff00e7"/><path d="M516.7 392.1h4.2v4.2h-4.2z" fill="#ff00e1"/><path d="M520.7 392.1h4.2v4.2h-4.2z" fill="#ff00db"/><path d="M424.7 396.1h4.2v4.2h-4.2z" fill="#0071ff"/><path d="M428.7 396.1h4.2v4.2h-4.2z" fill="#0065ff"/><path d="M432.7 396.1h4.2v4.2h-4.2z" fill="#0054ff"/><path d="M436.7 396.1h4.2v4.2h-4.2z" fill="#003bff"/><path d="M440.7 396.1h4.2v4.2h-4.2z" fill="#1100ff"/><path d="M444.7 396.1h4.2v4.2h-4.2z" fill="#4a00ff"/><path d="M448.7 396.1h4.2v4.2h-4.2z" fill="#6500ff"/><path d="M452.7 396.1h4.2v4.2h-4.2z" fill="#7900ff"/><path d="M456.7 396.1h4.2v4.2h-4.2z" fill="#8a00ff"/><path d="M460.7 396.1h4.2v4.2h-4.2z" fill="#9900ff"/><path d="M464.7 396.1h4.2v4.2h-4.2z" fill="#a700ff"/><path d="M468.7 396.1h4.2v4.2h-4.2z" fill="#b300ff"/><path d="M472.7 396.1h4.2v4.2h-4.2z" fill="#be00ff"/><path d="M476.7 396.1h4.2v4.2h-4.2z" fill="#c900ff"/><path d="M480.7 396.1h4.2v4.2h-4.2z" fill="#d300ff"/><path d="M484.7 396.1h4.2v4.2h-4.2z" fill="#dd00ff"/><path d="M488.7 396.1h4.2v4.2h-4.2z" fill="#e600ff"/><path d="M492.7 396.1h4.2v4.2h-4.2z" fill="#ef00ff"/><path d="M496.7 396.1h4.2v4.2h-4.2z" fill="#f800ff"/><path d="M500.7 396.1h4.2v4.2h-4.2z" fill="#ff00fe"/><path d="M504.7 396.1h4.2v4.2h-4.2z" fill="#ff00f6"/><path d="M508.7 396.1h4.2v4.2h-4.2z" fill="#ff00ef"/><path d="M428.7 400.1h4.2v4.2h-4.2z" fill="#0053ff"/><path d="M432.7 400.1h4.2v4.2h-4.2z" fill="#003bff"/><path d="M436.7 400.1h4.2v4.2h-4.2z" fill="#0000ff"/><path d="M440.7 400.1h4.2v4.2h-4.2z" fill="#4000ff"/><path d="M444.7 400.1h4.2v4.2h-4.2z" fill="#5d00ff"/><path d="M448.7 400.1h4.2v4.2h-4.2z" fill="#7200ff"/><path d="M452.7 400.1h4.2v4.2h-4.2z" fill="#8300ff"/><path d="M456.7 400.1h4.2v4.2h-4.2z" fill="#9200ff"/><path d="M460.7 400.1h4.2v4.2h-4.2z" fill="#9f00ff"/><path d="M464.7 400.1h4.2v4.2h-4.2z" fill="#ac00ff"/><path d="M468.7 400.1h4.2v4.2h-4.2z" fill="#b700ff"/><path d="M472.7 400.1h4.2v4.2h-4.2z" fill="#c200ff"/><path d="M476.7 400.1h4.2v4.2h-4.2z" fill="#cc00ff"/><path d="M480.7 400.1h4.2v4.2h-4.2z" fill="#d500ff"/><path d="M484.7 400.1h4.2v4.2h-4.2z" fill="#de00ff"/><path d="M488.7 400.1h4.2v4.2h-4.2z" fill="#e700ff"/><path d="M492.7 400.1h4.2v4.2h-4.2z" fill="#ef00ff"/><path d="M496.7 400.1h4.2v4.2h-4.2z" fill="#f800ff"/><path d="M432.7 404.1h4.2v4.2h-4.2z" fill="#0000ff"/><path d="M436.7 404.1h4.2v4.2h-4.2z" fill="#3400ff"/><path d="M440.7 404.1h4.2v4.2h-4.2z" fill="#5500ff"/><path d="M444.7 404.1h4.2v4.2h-4.2z" fill="#6a00ff"/><path d="M448.7 404.1h4.2v4.2h-4.2z" fill="#7c00ff"/><path d="M452.7 404.1h4.2v4.2h-4.2z" fill="#8b00ff"/><path d="M456.7 404.1h4.2v4.2h-4.2z" fill="#9800ff"/><path d="M460.7 404.1h4.2v4.2h-4.2z" fill="#a500ff"/><path d="M464.7 404.1h4.2v4.2h-4.2z" fill="#b000ff"/><path d="M468.7 404.1h4.2v4.2h-4.2z" fill="#bb00ff"/><path d="M472.7 404.1h4.2v4.2h-4.2z" fill="#c400ff"/><path d="M476.7 404.1h4.2v4.2h-4.2z" fill="#ce00ff"/><path d="M480.7 404.1h4.2v4.2h-4.2z" fill="#d700ff"/><path d="M484.7 404.1h4.2v4.2h-4.2z" fill="#df00ff"/><path d="M436.7 408.1h4.2v4.2h-4.2z" fill="#4000ff"/><path d="M440.7 408.1h4.2v4.2h-4.2z" fill="#5b00ff"/><path d="M444.7 408.1h4.2v4.2h-4.2z" fill="#6f00ff"/><path d="M448.7 408.1h4.2v4.2h-4.2z" fill="#8000ff"/><path d="M452.7 408.1h4.2v4.2h-4.2z" fill="#8e00ff"/><path d="M456.7 408.1h4.2v4.2h-4.2z" fill="#9b00ff"/><path d="M460.7 408.1h4.2v4.2h-4.2z" fill="#a700ff"/><path d="M464.7 408.1h4.2v4.2h-4.2z" fill="#b200ff"/><path d="M468.7 408.1h4.2v4.2h-4.2z" fill="#bc00ff"/><path d="M472.7 408.1h4.2v4.2h-4.2z" fill="#c600ff"/><path d="M440.7 412.1h4.2v4.2h-4.2z" fill="#5b00ff"/><path d="M444.7 412.1h4.2v4.2h-4.2z" fill="#6f00ff"/><path d="M448.7 412.1h4.2v4.2h-4.2z" fill="#8000ff"/><path d="M452.7 412.1h4.2v4.2h-4.2z" fill="#8e00ff"/><path d="M456.7 412.1h4.2v4.2h-4.2z" fill="#9b00ff"/><path d="M460.7 412.1h4.2v4.2h-4.2z" fill="#a700ff"/></g></g>
<path d="M453.0 407.3 453.0 407.3 453.0 407.3 452.9 407.4 452.9 407.4 452.8 407.4 452.8 407.4 452.7 407.4 452.7 407.4 452.7 407.4 452.6 407.4 452.6 407.4 452.6 407.4 452.5 407.4 452.5 407.4 452.4 407.4 452.3 407.4 452.3 407.3 452.2 407.3 452.1 407.3 451.9 407.2 451.8 407.1 451.6 407.0 451.5 407.0 451.4 406.9 451.2 406.8 451.1 406.8 451.0 406.7 450.9 406.6 450.8 406.6 450.7 406.5 450.6 406.4 450.5 406.3 450.3 406.2 450.2 406.1 450.1 406.1 449.9 406.0 449.7 405.8 449.6 405.7 449.4 405.6 449.2 405.5 449.0 405.4 448.8 405.3 448.6 405.1 448.4 405.0 448.2 404.8 447.9 404.7 447.6 404.5 447.4 404.4 447.1 404.2 446.8 404.0 446.5 403.8 446.2 403.6 445.9 403.4 445.6 403.2 445.2 403.0 444.9 402.7 444.5 402.5 444.1 402.2 443.7 401.9 443.3 401.6 442.9 401.2 442.5 400.9 442.0 400.5 441.6 400.1 441.1 399.7 440.6 399.2 440.0 398.6 439.4 398.0 438.8 397.4 438.2 396.6 437.5 395.9 436.9 395.0 436.2 394.1 435.4 393.1 434.7 392.0 433.9 390.9 433.0 389.6 432.2 388.2 431.3 386.7 430.3 385.1 429.4 383.4 428.4 381.6 427.3 379.6 426.2 377.5 425.1 375.2 423.9 372.8 422.7 370.2 421.4 367.5 420.2 364.6 418.9 361.6 417.7 358.3 416.4 354.9 415.1 351.3 413.9 347.5 412.6 343.6 411.4 339.5 410.2 335.3 408.9 330.8 407.7 326.2 406.5 321.5 405.4 316.8 404.3 312.0 403.3 307.2 402.4 302.3 401.5 297.3 400.7 292.3 399.9 287.4 399.4 282.6 398.9 277.9 398.5 273.2 398.1 268.6 398.0 264.0 397.9 259.6 398.0 255.4 398.2 251.3 398.5 247.3 399.0 243.5 399.6 239.8 400.3 236.3 401.2 233.1 402.2 230.1 403.4 227.4 404.7 224.8 406.2 222.5 407.7 220.4 409.3 218.7 411.0 217.2 412.8 216.0 414.7 215.1 416.7 214.4 418.7 213.9 420.7 213.6 422.8 213.4 424.9 213.5 427.1 213.8 429.3 214.3 431.5 214.8 433.7 215.4 435.8 216.0 438.0 216.7 440.2 217.5 442.4 218.3 444.6 219.2 446.8 220.1 448.9 221.0 451.0 221.9 453.0 222.8 455.1 223.8 457.1 224.8 459.1 225.8 461.1 226.8 463.1 227.8 465.1 228.9 467.1 230.0 469.0 231.1 471.0 232.2 473.0 233.3 474.9 234.4 476.9 235.6 478.8 236.8 480.8 238.0 482.7 239.2 484.7 240.4 486.6 241.6 488.5 242.9 490.5 244.1 492.4 245.4 494.3 246.7 496.2 247.9 498.2 249.2 500.1 250.5 502.0 251.8 503.9 253.1 505.9 254.5 507.8 255.8 509.7 257.1 511.7 258.5 513.6 259.8 515.5 261.2 517.4 262.5 519.4 263.9 521.3 265.2 523.2 266.6 525.1 267.9 527.0 269.3 529.0 270.7 530.9 272.0 532.8 273.4 534.7 274.7 536.6 276.1 538.5 277.5 540.4 278.8 542.3 280.2 544.2 281.5 546.1 282.9 547.9 284.2 549.8 285.6 551.7 286.9 553.5 288.2 555.3 289.5 557.2 290.8 559.0 292.2 560.8 293.5 562.6 294.7 564.3 296.0 566.1 297.3 567.9 298.6 569.6 299.8 571.3 301.0 573.0 302.3 574.7 303.5 576.4 304.7 578.0 305.9 579.7 307.0 581.3 308.2 582.8 309.3 584.4 310.5 585.9 311.6 587.5 312.7 588.9 313.7 590.4 314.8 591.8 315.8 593.2 316.8 594.5 317.8 595.8 318.7 597.1 319.6 598.4 320.5 599.6 321.4 600.8 322.3 602.0 323.1 603.2 324.0 604.3 324.8 605.4 325.6 606.5 326.4 607.5 327.1 608.5 327.8 609.5 328.5 610.4 329.1 611.3 329.8 612.2 330.4 613.0 331.0 613.8 331.6 614.6 332.2 615.4 332.7 616.1 333.3 616.8 333.8 617.5 334.3 618.1 334.7 618.7 335.2 619.3 335.6 619.9 336.0 620.5 336.4 621.0 336.8 621.5 337.2 622.0 337.5 622.5 337.9 623.0 338.2 623.4 338.5 623.8 338.8 624.2 339.1 624.6 339.4 624.9 339.6 625.3 339.9 625.8 340.2 626.3 340.6 626.9 341.1 627.6 341.5 628.2 342.0 628.9 342.4 629.4 342.8 629.9 343.2 630.3 343.5 630.7 343.7 631.0 344.0 631.3 344.2 631.7 344.4 631.9 344.6 632.1 344.8 632.3 344.9 632.5 345.1 632.7 345.2 632.9 345.4 633.2 345.6 633.5 345.8 633.8 346.0 634.1 346.2 634.3 346.4 634.5 346.5Z" fill="none" stroke="#3c5e92" stroke-width="0.9" stroke-linejoin="round"/>
<rect x="396.7" y="198.7" width="258.9" height="209.8" fill="none" stroke="#000" stroke-width="1.2"/>
<path d="M396.7 408.5v-3.6M412.9 408.5v-2.0M429.1 408.5v-3.6M445.2 408.5v-2.0M461.4 408.5v-3.6M477.6 408.5v-2.0M493.8 408.5v-3.6M510.0 408.5v-2.0M526.1 408.5v-3.6M542.3 408.5v-2.0M558.5 408.5v-3.6M574.7 408.5v-2.0M590.9 408.5v-3.6M607.1 408.5v-2.0M623.2 408.5v-3.6M639.4 408.5v-2.0M655.6 408.5v-3.6M396.7 408.5h3.6M396.7 385.1h2.0M396.7 361.7h3.6M396.7 338.4h2.0M396.7 315.0h3.6M396.7 291.6h2.0M396.7 268.2h3.6M396.7 244.9h2.0M396.7 221.5h3.6M396.7 198.1h2.0" stroke="#000" stroke-width="1" fill="none"/>
<g font-size="10.9" fill="#111">
<text x="396.7" y="422" text-anchor="middle">0.0</text>
<text x="429.1" y="422" text-anchor="middle">0.1</text>
<text x="461.4" y="422" text-anchor="middle">0.2</text>
<text x="493.8" y="422" text-anchor="middle">0.3</text>
<text x="526.1" y="422" text-anchor="middle">0.4</text>
<text x="558.5" y="422" text-anchor="middle">0.5</text>
<text x="590.9" y="422" text-anchor="middle">0.6</text>
<text x="623.2" y="422" text-anchor="middle">0.7</text>
<text x="655.6" y="422" text-anchor="middle">0.8</text>
<text x="392.2" y="412.3" text-anchor="end">0.0</text>
<text x="392.2" y="365.5" text-anchor="end">0.2</text>
<text x="392.2" y="318.8" text-anchor="end">0.4</text>
<text x="392.2" y="272.0" text-anchor="end">0.6</text>
<text x="392.2" y="225.3" text-anchor="end">0.8</text>
<text x="526.5" y="442" text-anchor="middle" font-size="12">x</text>
<text transform="translate(371.5 303.5) rotate(-90)" text-anchor="middle" font-size="12">y</text>
</g>
<g font-size="10.6" fill="#4a6e9e" text-anchor="middle">
<text x="432.2" y="407.6">460</text>
<text x="411.9" y="385.2">480</text>
<text x="384.1" y="287.6">500</text>
<text x="418.0" y="207.0">520</text>
<text x="479.9" y="228.0">540</text>
<text x="527.7" y="259.4">560</text>
<text x="573.0" y="290.8">580</text>
<text x="609.7" y="318.0">600</text>
<text x="631.1" y="333.1">620</text>
</g>
<path d="M443.3 401.6L440.7 404.8M426.2 377.5L422.5 379.3M399.4 282.6L395.2 283.1M420.7 213.6L420.2 209.4M471.0 232.2L473.1 228.5M517.4 262.5L519.9 259.1M562.6 294.7L565.0 291.3M599.6 321.4L602.1 318.0M620.5 336.4L622.9 333.0" stroke="#4a6e9e" stroke-width="0.7" fill="none"/>
<g font-weight="bold" font-size="8.9" fill="#000" text-anchor="middle">
<polygon points="447.30,352.40 448.42,355.46 451.67,355.58 449.11,357.59 450.00,360.72 447.30,358.90 444.60,360.72 445.49,357.59 442.93,355.58 446.18,355.46" fill="none" stroke="#000" stroke-width="1.2" stroke-linejoin="miter" stroke-miterlimit="2.6"/>
<text x="449.8" y="345.6">4</text>
<polygon points="471.20,293.20 472.32,296.26 475.57,296.38 473.01,298.39 473.90,301.52 471.20,299.70 468.50,301.52 469.39,298.39 466.83,296.38 470.08,296.26" fill="none" stroke="#000" stroke-width="1.2" stroke-linejoin="miter" stroke-miterlimit="2.6"/>
<text x="472.9" y="289.2">5</text>
<polygon points="490.60,272.40 491.72,275.46 494.97,275.58 492.41,277.59 493.30,280.72 490.60,278.90 487.90,280.72 488.79,277.59 486.23,275.58 489.48,275.46" fill="none" stroke="#000" stroke-width="1.2" stroke-linejoin="miter" stroke-miterlimit="2.6"/>
<text x="492.3" y="266.6">6</text>
<polygon points="526.70,271.10 527.82,274.16 531.07,274.28 528.51,276.29 529.40,279.42 526.70,277.60 524.00,279.42 524.89,276.29 522.33,274.28 525.58,274.16" fill="none" stroke="#000" stroke-width="1.2" stroke-linejoin="miter" stroke-miterlimit="2.6"/>
<text x="531.5" y="267.1">7</text>
<polygon points="537.80,275.60 538.92,278.66 542.17,278.78 539.61,280.79 540.50,283.92 537.80,282.10 535.10,283.92 535.99,280.79 533.43,278.78 536.68,278.66" fill="none" stroke="#000" stroke-width="1.2" stroke-linejoin="miter" stroke-miterlimit="2.6"/>
<text x="544.6" y="273.9">8</text>
<polygon points="548.10,281.90 549.22,284.96 552.47,285.08 549.91,287.09 550.80,290.22 548.10,288.40 545.40,290.22 546.29,287.09 543.73,285.08 546.98,284.96" fill="none" stroke="#000" stroke-width="1.2" stroke-linejoin="miter" stroke-miterlimit="2.6"/>
<text x="556.6" y="283.4">9</text>
<polygon points="566.00,293.20 567.12,296.26 570.37,296.38 567.81,298.39 568.70,301.52 566.00,299.70 563.30,301.52 564.19,298.39 561.63,296.38 564.88,296.26" fill="none" stroke="#000" stroke-width="1.2" stroke-linejoin="miter" stroke-miterlimit="2.6"/>
<text x="579.8" y="301.0">10</text>
<polygon points="592.40,312.40 593.52,315.46 596.77,315.58 594.21,317.59 595.10,320.72 592.40,318.90 589.70,320.72 590.59,317.59 588.03,315.58 591.28,315.46" fill="none" stroke="#000" stroke-width="1.2" stroke-linejoin="miter" stroke-miterlimit="2.6"/>
<text x="609.9" y="306.8"><tspan font-style="italic">p</tspan>-DAPA</text>
</g>
<text x="359.6" y="186.7" font-weight="bold" font-size="16.8" fill="#111">c</text>
</svg>
</body></html>
